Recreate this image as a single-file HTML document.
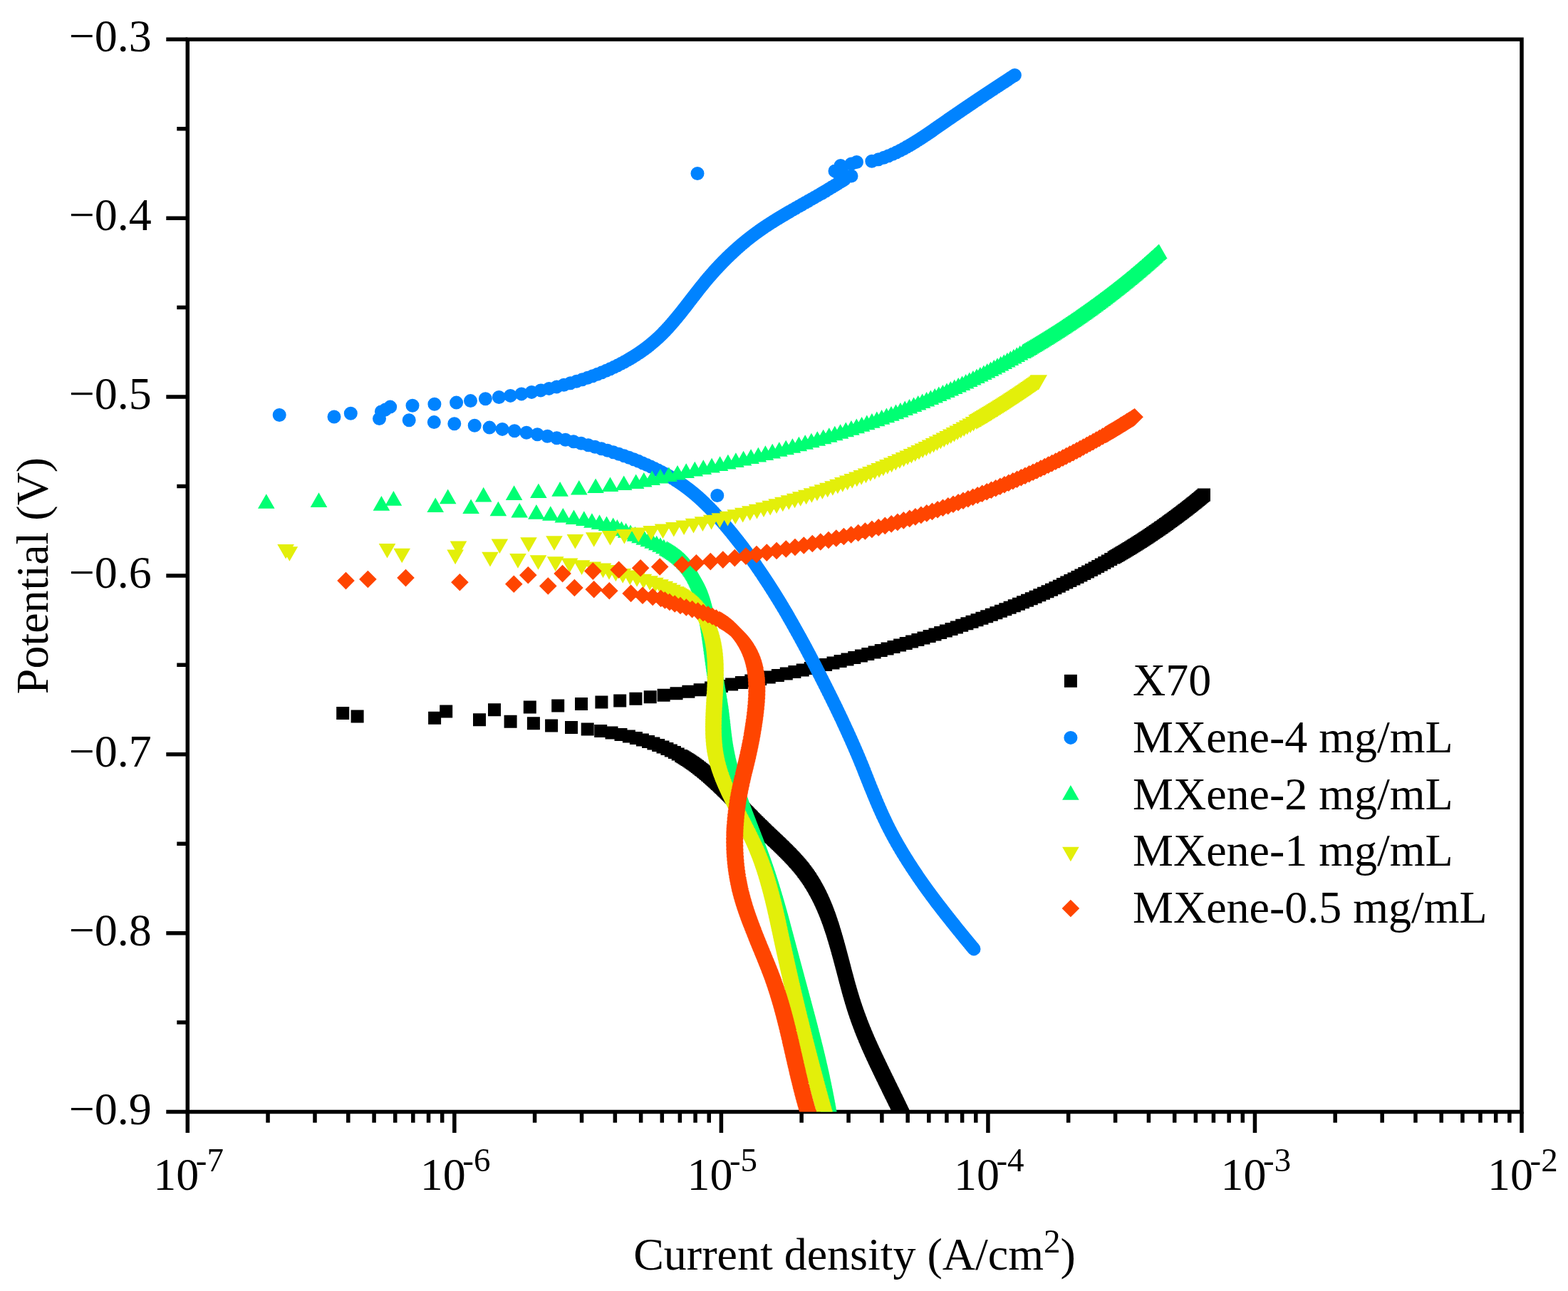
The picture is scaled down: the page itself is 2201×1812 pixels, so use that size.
<!DOCTYPE html>
<html lang="en"><head><meta charset="utf-8"><title>Polarization curves</title>
<style>html,body{margin:0;padding:0;background:#fff}body{width:2201px;height:1812px;overflow:hidden}svg{display:block}text{font-family:"Liberation Serif","Times New Roman",serif;font-size:64px;fill:#000}</style></head><body>
<svg xmlns="http://www.w3.org/2000/svg" width="2201" height="1812" viewBox="0 0 2201 1812">
<rect width="2201" height="1812" fill="#fff"/>
<defs><clipPath id="c"><rect x="263.3" y="55.3" width="1872.7" height="1505.2"/></clipPath></defs>
<g stroke="#000" stroke-width="5.5" fill="none" stroke-linecap="butt">
<rect x="263.3" y="55.3" width="1872.7" height="1505.2"/>
<path d="M233.30 55.30H263.30M248.30 180.73H263.30M233.30 306.17H263.30M248.30 431.60H263.30M233.30 557.03H263.30M248.30 682.47H263.30M233.30 807.90H263.30M248.30 933.33H263.30M233.30 1058.77H263.30M248.30 1184.20H263.30M233.30 1309.63H263.30M248.30 1435.07H263.30M233.30 1560.50H263.30M263.30 1560.50V1590.00M376.05 1560.50V1575.80M442.00 1560.50V1575.80M488.80 1560.50V1575.80M525.09 1560.50V1575.80M554.75 1560.50V1575.80M579.82 1560.50V1575.80M601.54 1560.50V1575.80M620.70 1560.50V1575.80M637.84 1560.50V1590.00M750.59 1560.50V1575.80M816.54 1560.50V1575.80M863.34 1560.50V1575.80M899.63 1560.50V1575.80M929.29 1560.50V1575.80M954.36 1560.50V1575.80M976.08 1560.50V1575.80M995.24 1560.50V1575.80M1012.38 1560.50V1590.00M1125.13 1560.50V1575.80M1191.08 1560.50V1575.80M1237.88 1560.50V1575.80M1274.17 1560.50V1575.80M1303.83 1560.50V1575.80M1328.90 1560.50V1575.80M1350.62 1560.50V1575.80M1369.78 1560.50V1575.80M1386.92 1560.50V1590.00M1499.67 1560.50V1575.80M1565.62 1560.50V1575.80M1612.42 1560.50V1575.80M1648.71 1560.50V1575.80M1678.37 1560.50V1575.80M1703.44 1560.50V1575.80M1725.16 1560.50V1575.80M1744.32 1560.50V1575.80M1761.46 1560.50V1590.00M1874.21 1560.50V1575.80M1940.16 1560.50V1575.80M1986.96 1560.50V1575.80M2023.25 1560.50V1575.80M2052.91 1560.50V1575.80M2077.98 1560.50V1575.80M2099.70 1560.50V1575.80M2118.86 1560.50V1575.80M2136.00 1560.50V1590.00"/>
</g>
<g clip-path="url(#c)">
<path fill="#000000" d="M903.7 969.2h18v18h-18zM922.6 966.7h18v18h-18zM940.5 964.2h18v18h-18zM957.4 961.7h18v18h-18zM973.6 959.2h18v18h-18zM989 956.6h18v18h-18zM1003.9 954.1h18v18h-18zM1018.1 951.6h18v18h-18zM1031.9 949.1h18v18h-18zM1045.3 946.6h18v18h-18zM1058.2 944.1h18v18h-18zM1070.7 941.6h18v18h-18zM1082.9 939.1h18v18h-18zM1094.8 936.6h18v18h-18zM1106.4 934.1h18v18h-18zM1117.7 931.6h18v18h-18zM1128.7 929.1h18v18h-18zM1139.5 926.5h18v18h-18zM1150.1 924h18v18h-18zM1160.5 921.5h18v18h-18zM1170.6 919h18v18h-18zM1180.5 916.5h18v18h-18zM1190.3 914h18v18h-18zM1199.9 911.5h18v18h-18zM1209.3 909h18v18h-18zM1218.6 906.5h18v18h-18zM1227.7 904h18v18h-18zM1236.6 901.5h18v18h-18zM1245.5 898.9h18v18h-18zM1254.1 896.4h18v18h-18zM1262.7 893.9h18v18h-18zM1271.1 891.4h18v18h-18zM1279.4 888.9h18v18h-18zM1287.5 886.4h18v18h-18zM1295.6 883.9h18v18h-18zM1303.5 881.4h18v18h-18zM1311.2 878.9h18v18h-18zM1318.9 876.4h18v18h-18zM1326.5 873.9h18v18h-18zM1333.9 871.4h18v18h-18zM1341.2 868.8h18v18h-18zM1348.4 866.3h18v18h-18zM1355.5 863.8h18v18h-18zM1362.5 861.3h18v18h-18zM1369.4 858.8h18v18h-18zM1376.2 856.3h18v18h-18zM1382.8 853.8h18v18h-18zM1389.4 851.3h18v18h-18zM1395.9 848.8h18v18h-18zM1402.3 846.3h18v18h-18zM1408.6 843.8h18v18h-18zM1414.8 841.2h18v18h-18zM1421 838.7h18v18h-18zM1427 836.2h18v18h-18zM1433 833.7h18v18h-18zM1438.8 831.2h18v18h-18zM1444.6 828.7h18v18h-18zM1450.3 826.2h18v18h-18zM1456 823.7h18v18h-18zM1461.5 821.2h18v18h-18zM1467 818.7h18v18h-18zM1472.4 816.2h18v18h-18zM1477.8 813.7h18v18h-18zM1483 811.1h18v18h-18zM1488.3 808.6h18v18h-18zM1493.4 806.1h18v18h-18zM1498.5 803.6h18v18h-18zM1503.5 801.1h18v18h-18zM1508.4 798.6h18v18h-18zM1513.3 796.1h18v18h-18zM1518.1 793.6h18v18h-18zM1522.9 791.1h18v18h-18zM1527.6 788.6h18v18h-18zM1532.2 786.1h18v18h-18zM1536.8 783.6h18v18h-18zM1541.3 781h18v18h-18zM1545.8 778.5h18v18h-18zM1550.2 776h18v18h-18zM1554.6 773.5h18v18h-18zM1556.8 772.3h18v18h-18zM1558.9 771h18v18h-18zM1561.1 769.8h18v18h-18zM1563.2 768.5h18v18h-18zM1565.3 767.2h18v18h-18zM1567.4 766h18v18h-18zM1569.5 764.7h18v18h-18zM1571.6 763.5h18v18h-18zM1573.7 762.2h18v18h-18zM1575.7 761h18v18h-18zM1577.8 759.7h18v18h-18zM1579.8 758.5h18v18h-18zM1581.8 757.2h18v18h-18zM1583.8 756h18v18h-18zM1585.8 754.7h18v18h-18zM1587.8 753.4h18v18h-18zM1589.8 752.2h18v18h-18zM1591.8 750.9h18v18h-18zM1593.7 749.7h18v18h-18zM1595.7 748.4h18v18h-18zM1597.6 747.2h18v18h-18zM1599.5 745.9h18v18h-18zM1601.4 744.7h18v18h-18zM1603.3 743.4h18v18h-18zM1605.2 742.2h18v18h-18zM1607.1 740.9h18v18h-18zM1609 739.6h18v18h-18zM1610.8 738.4h18v18h-18zM1612.7 737.1h18v18h-18zM1614.5 735.9h18v18h-18zM1616.3 734.6h18v18h-18zM1618.2 733.4h18v18h-18zM1620 732.1h18v18h-18zM1621.8 730.9h18v18h-18zM1623.6 729.6h18v18h-18zM1625.3 728.4h18v18h-18zM1627.1 727.1h18v18h-18zM1628.9 725.9h18v18h-18zM1630.6 724.6h18v18h-18zM1632.4 723.3h18v18h-18zM1634.1 722.1h18v18h-18zM1635.8 720.8h18v18h-18zM1637.6 719.6h18v18h-18zM1639.3 718.3h18v18h-18zM1641 717.1h18v18h-18zM1642.7 715.8h18v18h-18zM1644.3 714.6h18v18h-18zM1646 713.3h18v18h-18zM1647.7 712.1h18v18h-18zM1649.3 710.8h18v18h-18zM1651 709.5h18v18h-18zM1652.6 708.3h18v18h-18zM1654.2 707h18v18h-18zM1655.9 705.8h18v18h-18zM1657.5 704.5h18v18h-18zM1659.1 703.3h18v18h-18zM1660.7 702h18v18h-18zM1662.3 700.8h18v18h-18zM1663.9 699.5h18v18h-18zM1665.4 698.3h18v18h-18zM1667 697h18v18h-18zM1668.6 695.7h18v18h-18zM1670.1 694.5h18v18h-18zM1671.7 693.2h18v18h-18zM1673.2 692h18v18h-18zM1674.7 690.7h18v18h-18zM1676.2 689.5h18v18h-18zM1677.7 688.2h18v18h-18zM1679.3 687h18v18h-18zM1680.7 685.7h18v18h-18zM1680.9 685.6h18v18h-18zM1681 685.5h18v18h-18zM793 1011.9h18v18h-18zM815.7 1014.4h18v18h-18zM834.2 1016.9h18v18h-18zM849.5 1019.4h18v18h-18zM862.5 1021.9h18v18h-18zM873.9 1024.5h18v18h-18zM883.9 1027h18v18h-18zM892.9 1029.5h18v18h-18zM901 1032h18v18h-18zM908.4 1034.5h18v18h-18zM915.2 1037h18v18h-18zM921.5 1039.5h18v18h-18zM927.4 1042h18v18h-18zM932.8 1044.5h18v18h-18zM937.9 1047h18v18h-18zM942.7 1049.5h18v18h-18zM947.2 1052h18v18h-18zM949.4 1053.3h18v18h-18zM951.5 1054.6h18v18h-18zM953.5 1055.8h18v18h-18zM955.5 1057.1h18v18h-18zM957.5 1058.3h18v18h-18zM959.4 1059.6h18v18h-18zM961.2 1060.8h18v18h-18zM963.1 1062.1h18v18h-18zM964.8 1063.3h18v18h-18zM966.6 1064.6h18v18h-18zM968.3 1065.8h18v18h-18zM970 1067.1h18v18h-18zM971.7 1068.4h18v18h-18zM973.3 1069.6h18v18h-18zM974.9 1070.9h18v18h-18zM976.5 1072.1h18v18h-18zM978.1 1073.4h18v18h-18zM979.6 1074.6h18v18h-18zM981.2 1075.9h18v18h-18zM982.7 1077.1h18v18h-18zM984.1 1078.4h18v18h-18zM985.6 1079.6h18v18h-18zM987.1 1080.9h18v18h-18zM988.5 1082.2h18v18h-18zM989.9 1083.4h18v18h-18zM991.4 1084.7h18v18h-18zM992.8 1085.9h18v18h-18zM994.1 1087.2h18v18h-18zM995.5 1088.4h18v18h-18zM996.9 1089.7h18v18h-18zM998.2 1090.9h18v18h-18zM999.6 1092.2h18v18h-18zM1000.9 1093.4h18v18h-18zM1002.2 1094.7h18v18h-18zM1003.5 1095.9h18v18h-18zM1004.8 1097.2h18v18h-18zM1006.1 1098.5h18v18h-18zM1007.4 1099.7h18v18h-18zM1008.7 1101h18v18h-18zM1010 1102.2h18v18h-18zM1011.3 1103.5h18v18h-18zM1012.5 1104.7h18v18h-18zM1013.8 1106h18v18h-18zM1015.1 1107.2h18v18h-18zM1016.3 1108.5h18v18h-18zM1017.6 1109.7h18v18h-18zM1018.8 1111h18v18h-18zM1020.1 1112.3h18v18h-18zM1021.3 1113.5h18v18h-18zM1022.5 1114.8h18v18h-18zM1023.8 1116h18v18h-18zM1025 1117.3h18v18h-18zM1026.2 1118.5h18v18h-18zM1027.4 1119.8h18v18h-18zM1028.7 1121h18v18h-18zM1029.9 1122.3h18v18h-18zM1031.1 1123.5h18v18h-18zM1032.4 1124.8h18v18h-18zM1033.6 1126.1h18v18h-18zM1034.8 1127.3h18v18h-18zM1036 1128.6h18v18h-18zM1037.3 1129.8h18v18h-18zM1038.5 1131.1h18v18h-18zM1039.7 1132.3h18v18h-18zM1040.9 1133.6h18v18h-18zM1042.2 1134.8h18v18h-18zM1043.4 1136.1h18v18h-18zM1044.7 1137.3h18v18h-18zM1045.9 1138.6h18v18h-18zM1047.1 1139.9h18v18h-18zM1048.4 1141.1h18v18h-18zM1049.6 1142.4h18v18h-18zM1050.9 1143.6h18v18h-18zM1052.2 1144.9h18v18h-18zM1053.4 1146.1h18v18h-18zM1054.7 1147.4h18v18h-18zM1056 1148.6h18v18h-18zM1057.3 1149.9h18v18h-18zM1058.6 1151.1h18v18h-18zM1059.9 1152.4h18v18h-18zM1061.2 1153.6h18v18h-18zM1062.5 1154.9h18v18h-18zM1063.8 1156.2h18v18h-18zM1065.1 1157.4h18v18h-18zM1066.4 1158.7h18v18h-18zM1067.7 1159.9h18v18h-18zM1069 1161.2h18v18h-18zM1070.4 1162.4h18v18h-18zM1071.7 1163.7h18v18h-18zM1073 1164.9h18v18h-18zM1074.3 1166.2h18v18h-18zM1075.7 1167.4h18v18h-18zM1077 1168.7h18v18h-18zM1078.3 1170h18v18h-18zM1079.6 1171.2h18v18h-18zM1081 1172.5h18v18h-18zM1082.3 1173.7h18v18h-18zM1083.6 1175h18v18h-18zM1084.9 1176.2h18v18h-18zM1086.2 1177.5h18v18h-18zM1087.5 1178.7h18v18h-18zM1088.8 1180h18v18h-18zM1090 1181.2h18v18h-18zM1091.3 1182.5h18v18h-18zM1092.6 1183.8h18v18h-18zM1093.8 1185h18v18h-18zM1095.1 1186.3h18v18h-18zM1096.3 1187.5h18v18h-18zM1097.6 1188.8h18v18h-18zM1098.8 1190h18v18h-18zM1100 1191.3h18v18h-18zM1101.2 1192.5h18v18h-18zM1102.4 1193.8h18v18h-18zM1103.6 1195h18v18h-18zM1104.7 1196.3h18v18h-18zM1105.9 1197.5h18v18h-18zM1107 1198.8h18v18h-18zM1108.1 1200.1h18v18h-18zM1109.3 1201.3h18v18h-18zM1110.4 1202.6h18v18h-18zM1111.5 1203.8h18v18h-18zM1112.5 1205.1h18v18h-18zM1113.6 1206.3h18v18h-18zM1114.6 1207.6h18v18h-18zM1115.7 1208.8h18v18h-18zM1116.7 1210.1h18v18h-18zM1117.7 1211.3h18v18h-18zM1118.7 1212.6h18v18h-18zM1119.6 1213.9h18v18h-18zM1120.6 1215.1h18v18h-18zM1121.5 1216.4h18v18h-18zM1122.5 1217.6h18v18h-18zM1123.4 1218.9h18v18h-18zM1124.3 1220.1h18v18h-18zM1125.1 1221.4h18v18h-18zM1126 1222.6h18v18h-18zM1126.9 1223.9h18v18h-18zM1127.7 1225.1h18v18h-18zM1128.5 1226.4h18v18h-18zM1129.3 1227.7h18v18h-18zM1130.1 1228.9h18v18h-18zM1130.9 1230.2h18v18h-18zM1131.7 1231.4h18v18h-18zM1132.4 1232.7h18v18h-18zM1133.2 1233.9h18v18h-18zM1133.9 1235.2h18v18h-18zM1134.6 1236.4h18v18h-18zM1135.3 1237.7h18v18h-18zM1136 1238.9h18v18h-18zM1136.7 1240.2h18v18h-18zM1137.4 1241.5h18v18h-18zM1138.1 1242.7h18v18h-18zM1138.7 1244h18v18h-18zM1139.4 1245.2h18v18h-18zM1140 1246.5h18v18h-18zM1140.7 1247.7h18v18h-18zM1141.3 1249h18v18h-18zM1141.9 1250.2h18v18h-18zM1142.5 1251.5h18v18h-18zM1143.1 1252.7h18v18h-18zM1143.7 1254h18v18h-18zM1144.3 1255.2h18v18h-18zM1144.8 1256.5h18v18h-18zM1145.4 1257.8h18v18h-18zM1146 1259h18v18h-18zM1146.5 1260.3h18v18h-18zM1147.1 1261.5h18v18h-18zM1147.6 1262.8h18v18h-18zM1148.1 1264h18v18h-18zM1148.6 1265.3h18v18h-18zM1149.2 1266.5h18v18h-18zM1149.7 1267.8h18v18h-18zM1150.2 1269h18v18h-18zM1150.7 1270.3h18v18h-18zM1151.2 1271.6h18v18h-18zM1151.7 1272.8h18v18h-18zM1152.1 1274.1h18v18h-18zM1152.6 1275.3h18v18h-18zM1153.1 1276.6h18v18h-18zM1153.5 1277.8h18v18h-18zM1154 1279.1h18v18h-18zM1154.5 1280.3h18v18h-18zM1154.9 1281.6h18v18h-18zM1155.4 1282.8h18v18h-18zM1155.8 1284.1h18v18h-18zM1156.2 1285.4h18v18h-18zM1156.7 1286.6h18v18h-18zM1157.1 1287.9h18v18h-18zM1157.5 1289.1h18v18h-18zM1157.9 1290.4h18v18h-18zM1158.3 1291.6h18v18h-18zM1158.8 1292.9h18v18h-18zM1159.2 1294.1h18v18h-18zM1159.6 1295.4h18v18h-18zM1160 1296.6h18v18h-18zM1160.4 1297.9h18v18h-18zM1160.8 1299.2h18v18h-18zM1161.1 1300.4h18v18h-18zM1161.5 1301.7h18v18h-18zM1161.9 1302.9h18v18h-18zM1162.3 1304.2h18v18h-18zM1162.7 1305.4h18v18h-18zM1163 1306.7h18v18h-18zM1163.4 1307.9h18v18h-18zM1163.8 1309.2h18v18h-18zM1164.1 1310.4h18v18h-18zM1164.5 1311.7h18v18h-18zM1164.9 1312.9h18v18h-18zM1165.2 1314.2h18v18h-18zM1165.6 1315.5h18v18h-18zM1165.9 1316.7h18v18h-18zM1166.3 1318h18v18h-18zM1166.7 1319.2h18v18h-18zM1167 1320.5h18v18h-18zM1167.3 1321.7h18v18h-18zM1167.7 1323h18v18h-18zM1168 1324.2h18v18h-18zM1168.4 1325.5h18v18h-18zM1168.7 1326.7h18v18h-18zM1169.1 1328h18v18h-18zM1169.4 1329.3h18v18h-18zM1169.7 1330.5h18v18h-18zM1170.1 1331.8h18v18h-18zM1170.4 1333h18v18h-18zM1170.7 1334.3h18v18h-18zM1171.1 1335.5h18v18h-18zM1171.4 1336.8h18v18h-18zM1171.7 1338h18v18h-18zM1172.1 1339.3h18v18h-18zM1172.4 1340.5h18v18h-18zM1172.7 1341.8h18v18h-18zM1173.1 1343.1h18v18h-18zM1173.4 1344.3h18v18h-18zM1173.7 1345.6h18v18h-18zM1174.1 1346.8h18v18h-18zM1174.4 1348.1h18v18h-18zM1174.7 1349.3h18v18h-18zM1175 1350.6h18v18h-18zM1175.4 1351.8h18v18h-18zM1175.7 1353.1h18v18h-18zM1176 1354.3h18v18h-18zM1176.4 1355.6h18v18h-18zM1176.7 1356.9h18v18h-18zM1177 1358.1h18v18h-18zM1177.3 1359.4h18v18h-18zM1177.7 1360.6h18v18h-18zM1178 1361.9h18v18h-18zM1178.3 1363.1h18v18h-18zM1178.7 1364.4h18v18h-18zM1179 1365.6h18v18h-18zM1179.4 1366.9h18v18h-18zM1179.7 1368.1h18v18h-18zM1180 1369.4h18v18h-18zM1180.4 1370.6h18v18h-18zM1180.7 1371.9h18v18h-18zM1181.1 1373.2h18v18h-18zM1181.4 1374.4h18v18h-18zM1181.7 1375.7h18v18h-18zM1182.1 1376.9h18v18h-18zM1182.4 1378.2h18v18h-18zM1182.8 1379.4h18v18h-18zM1183.1 1380.7h18v18h-18zM1183.5 1381.9h18v18h-18zM1183.9 1383.2h18v18h-18zM1184.2 1384.4h18v18h-18zM1184.6 1385.7h18v18h-18zM1184.9 1387h18v18h-18zM1185.3 1388.2h18v18h-18zM1185.7 1389.5h18v18h-18zM1186 1390.7h18v18h-18zM1186.4 1392h18v18h-18zM1186.8 1393.2h18v18h-18zM1187.2 1394.5h18v18h-18zM1187.6 1395.7h18v18h-18zM1187.9 1397h18v18h-18zM1188.3 1398.2h18v18h-18zM1188.7 1399.5h18v18h-18zM1189.1 1400.8h18v18h-18zM1189.5 1402h18v18h-18zM1189.9 1403.3h18v18h-18zM1190.3 1404.5h18v18h-18zM1190.7 1405.8h18v18h-18zM1191.1 1407h18v18h-18zM1191.6 1408.3h18v18h-18zM1192 1409.5h18v18h-18zM1192.4 1410.8h18v18h-18zM1192.8 1412h18v18h-18zM1193.3 1413.3h18v18h-18zM1193.7 1414.5h18v18h-18zM1194.1 1415.8h18v18h-18zM1194.6 1417.1h18v18h-18zM1195 1418.3h18v18h-18zM1195.5 1419.6h18v18h-18zM1195.9 1420.8h18v18h-18zM1196.4 1422.1h18v18h-18zM1196.9 1423.3h18v18h-18zM1197.3 1424.6h18v18h-18zM1197.8 1425.8h18v18h-18zM1198.3 1427.1h18v18h-18zM1198.8 1428.3h18v18h-18zM1199.2 1429.6h18v18h-18zM1199.7 1430.9h18v18h-18zM1200.2 1432.1h18v18h-18zM1200.7 1433.4h18v18h-18zM1201.2 1434.6h18v18h-18zM1201.7 1435.9h18v18h-18zM1202.2 1437.1h18v18h-18zM1202.7 1438.4h18v18h-18zM1203.2 1439.6h18v18h-18zM1203.7 1440.9h18v18h-18zM1204.3 1442.1h18v18h-18zM1204.8 1443.4h18v18h-18zM1205.3 1444.7h18v18h-18zM1205.8 1445.9h18v18h-18zM1206.4 1447.2h18v18h-18zM1206.9 1448.4h18v18h-18zM1207.4 1449.7h18v18h-18zM1208 1450.9h18v18h-18zM1208.5 1452.2h18v18h-18zM1209 1453.4h18v18h-18zM1209.6 1454.7h18v18h-18zM1210.1 1455.9h18v18h-18zM1210.7 1457.2h18v18h-18zM1211.2 1458.5h18v18h-18zM1211.8 1459.7h18v18h-18zM1212.4 1461h18v18h-18zM1212.9 1462.2h18v18h-18zM1213.5 1463.5h18v18h-18zM1214 1464.7h18v18h-18zM1214.6 1466h18v18h-18zM1215.2 1467.2h18v18h-18zM1215.8 1468.5h18v18h-18zM1216.3 1469.7h18v18h-18zM1216.9 1471h18v18h-18zM1217.5 1472.2h18v18h-18zM1218.1 1473.5h18v18h-18zM1218.7 1474.8h18v18h-18zM1219.2 1476h18v18h-18zM1219.8 1477.3h18v18h-18zM1220.4 1478.5h18v18h-18zM1221 1479.8h18v18h-18zM1221.6 1481h18v18h-18zM1222.2 1482.3h18v18h-18zM1222.8 1483.5h18v18h-18zM1223.4 1484.8h18v18h-18zM1224 1486h18v18h-18zM1224.6 1487.3h18v18h-18zM1225.2 1488.6h18v18h-18zM1225.8 1489.8h18v18h-18zM1226.4 1491.1h18v18h-18zM1227 1492.3h18v18h-18zM1227.6 1493.6h18v18h-18zM1228.2 1494.8h18v18h-18zM1228.8 1496.1h18v18h-18zM1229.4 1497.3h18v18h-18zM1230 1498.6h18v18h-18zM1230.6 1499.8h18v18h-18zM1231.3 1501.1h18v18h-18zM1231.9 1502.4h18v18h-18zM1232.5 1503.6h18v18h-18zM1233.1 1504.9h18v18h-18zM1233.7 1506.1h18v18h-18zM1234.3 1507.4h18v18h-18zM1234.9 1508.6h18v18h-18zM1235.6 1509.9h18v18h-18zM1236.2 1511.1h18v18h-18zM1236.8 1512.4h18v18h-18zM1237.4 1513.6h18v18h-18zM1238 1514.9h18v18h-18zM1238.6 1516.2h18v18h-18zM1239.2 1517.4h18v18h-18zM1239.9 1518.7h18v18h-18zM1240.5 1519.9h18v18h-18zM1241.1 1521.2h18v18h-18zM1241.7 1522.4h18v18h-18zM1242.3 1523.7h18v18h-18zM1242.9 1524.9h18v18h-18zM1243.6 1526.2h18v18h-18zM1244.2 1527.4h18v18h-18zM1244.8 1528.7h18v18h-18zM1245.4 1529.9h18v18h-18zM1246 1531.2h18v18h-18zM1246.6 1532.5h18v18h-18zM1247.2 1533.7h18v18h-18zM1247.8 1535h18v18h-18zM1248.5 1536.2h18v18h-18zM1249.1 1537.5h18v18h-18zM1249.7 1538.7h18v18h-18zM1250.3 1540h18v18h-18zM1250.9 1541.2h18v18h-18zM1251.5 1542.5h18v18h-18zM1252.1 1543.7h18v18h-18zM1252.7 1545h18v18h-18zM1253.3 1546.3h18v18h-18zM1253.9 1547.5h18v18h-18zM1254.5 1548.8h18v18h-18zM1255.1 1550h18v18h-18zM1255.7 1551.3h18v18h-18zM1256.3 1552.5h18v18h-18zM1256.9 1553.8h18v18h-18zM1257.5 1555h18v18h-18zM1258 1556.3h18v18h-18zM1258.6 1557.5h18v18h-18zM1259.2 1558.8h18v18h-18zM1259.8 1560.1h18v18h-18zM1260.4 1561.3h18v18h-18zM1261 1562.6h18v18h-18zM1261.5 1563.8h18v18h-18zM1262.1 1565.1h18v18h-18zM1262.7 1566.3h18v18h-18zM1262.8 1566.7h18v18h-18zM1263 1567h18v18h-18zM472.2 991.9h18v18h-18zM492.6 996.6h18v18h-18zM601.1 998.8h18v18h-18zM617.2 989.4h18v18h-18zM664 1001.3h18v18h-18zM685 987.2h18v18h-18zM707.6 1003.7h18v18h-18zM734.8 983.5h18v18h-18zM739.9 1006.2h18v18h-18zM765.1 1009.4h18v18h-18zM774.2 981.5h18v18h-18zM807 979.1h18v18h-18zM835.4 976.6h18v18h-18zM861.2 974.4h18v18h-18zM883.4 971.7h18v18h-18z"/>
<path fill="#0083FF" d="M722.5 552.9a9.5 9.5 0 1 0 19 0a9.5 9.5 0 1 0 -19 0zM736.7 550.4a9.5 9.5 0 1 0 19 0a9.5 9.5 0 1 0 -19 0zM749.5 547.9a9.5 9.5 0 1 0 19 0a9.5 9.5 0 1 0 -19 0zM761.2 545.4a9.5 9.5 0 1 0 19 0a9.5 9.5 0 1 0 -19 0zM772 542.9a9.5 9.5 0 1 0 19 0a9.5 9.5 0 1 0 -19 0zM782 540.3a9.5 9.5 0 1 0 19 0a9.5 9.5 0 1 0 -19 0zM791.2 537.8a9.5 9.5 0 1 0 19 0a9.5 9.5 0 1 0 -19 0zM799.8 535.3a9.5 9.5 0 1 0 19 0a9.5 9.5 0 1 0 -19 0zM807.8 532.8a9.5 9.5 0 1 0 19 0a9.5 9.5 0 1 0 -19 0zM815.3 530.3a9.5 9.5 0 1 0 19 0a9.5 9.5 0 1 0 -19 0zM822.4 527.8a9.5 9.5 0 1 0 19 0a9.5 9.5 0 1 0 -19 0zM829.1 525.3a9.5 9.5 0 1 0 19 0a9.5 9.5 0 1 0 -19 0zM835.4 522.8a9.5 9.5 0 1 0 19 0a9.5 9.5 0 1 0 -19 0zM841.4 520.3a9.5 9.5 0 1 0 19 0a9.5 9.5 0 1 0 -19 0zM847.1 517.8a9.5 9.5 0 1 0 19 0a9.5 9.5 0 1 0 -19 0zM852.5 515.3a9.5 9.5 0 1 0 19 0a9.5 9.5 0 1 0 -19 0zM857.6 512.8a9.5 9.5 0 1 0 19 0a9.5 9.5 0 1 0 -19 0zM862.5 510.2a9.5 9.5 0 1 0 19 0a9.5 9.5 0 1 0 -19 0zM867.2 507.7a9.5 9.5 0 1 0 19 0a9.5 9.5 0 1 0 -19 0zM871.7 505.2a9.5 9.5 0 1 0 19 0a9.5 9.5 0 1 0 -19 0zM873.8 504a9.5 9.5 0 1 0 19 0a9.5 9.5 0 1 0 -19 0zM875.9 502.7a9.5 9.5 0 1 0 19 0a9.5 9.5 0 1 0 -19 0zM878 501.5a9.5 9.5 0 1 0 19 0a9.5 9.5 0 1 0 -19 0zM880.1 500.2a9.5 9.5 0 1 0 19 0a9.5 9.5 0 1 0 -19 0zM882 499a9.5 9.5 0 1 0 19 0a9.5 9.5 0 1 0 -19 0zM884 497.7a9.5 9.5 0 1 0 19 0a9.5 9.5 0 1 0 -19 0zM885.9 496.4a9.5 9.5 0 1 0 19 0a9.5 9.5 0 1 0 -19 0zM887.8 495.2a9.5 9.5 0 1 0 19 0a9.5 9.5 0 1 0 -19 0zM889.6 493.9a9.5 9.5 0 1 0 19 0a9.5 9.5 0 1 0 -19 0zM891.4 492.7a9.5 9.5 0 1 0 19 0a9.5 9.5 0 1 0 -19 0zM893.2 491.4a9.5 9.5 0 1 0 19 0a9.5 9.5 0 1 0 -19 0zM894.9 490.2a9.5 9.5 0 1 0 19 0a9.5 9.5 0 1 0 -19 0zM896.6 488.9a9.5 9.5 0 1 0 19 0a9.5 9.5 0 1 0 -19 0zM898.3 487.7a9.5 9.5 0 1 0 19 0a9.5 9.5 0 1 0 -19 0zM899.9 486.4a9.5 9.5 0 1 0 19 0a9.5 9.5 0 1 0 -19 0zM901.5 485.2a9.5 9.5 0 1 0 19 0a9.5 9.5 0 1 0 -19 0zM903.1 483.9a9.5 9.5 0 1 0 19 0a9.5 9.5 0 1 0 -19 0zM904.6 482.6a9.5 9.5 0 1 0 19 0a9.5 9.5 0 1 0 -19 0zM906.1 481.4a9.5 9.5 0 1 0 19 0a9.5 9.5 0 1 0 -19 0zM907.6 480.1a9.5 9.5 0 1 0 19 0a9.5 9.5 0 1 0 -19 0zM909.1 478.9a9.5 9.5 0 1 0 19 0a9.5 9.5 0 1 0 -19 0zM910.5 477.6a9.5 9.5 0 1 0 19 0a9.5 9.5 0 1 0 -19 0zM911.9 476.4a9.5 9.5 0 1 0 19 0a9.5 9.5 0 1 0 -19 0zM913.3 475.1a9.5 9.5 0 1 0 19 0a9.5 9.5 0 1 0 -19 0zM914.7 473.9a9.5 9.5 0 1 0 19 0a9.5 9.5 0 1 0 -19 0zM916 472.6a9.5 9.5 0 1 0 19 0a9.5 9.5 0 1 0 -19 0zM917.3 471.4a9.5 9.5 0 1 0 19 0a9.5 9.5 0 1 0 -19 0zM918.6 470.1a9.5 9.5 0 1 0 19 0a9.5 9.5 0 1 0 -19 0zM919.9 468.9a9.5 9.5 0 1 0 19 0a9.5 9.5 0 1 0 -19 0zM921.1 467.6a9.5 9.5 0 1 0 19 0a9.5 9.5 0 1 0 -19 0zM922.3 466.3a9.5 9.5 0 1 0 19 0a9.5 9.5 0 1 0 -19 0zM923.6 465.1a9.5 9.5 0 1 0 19 0a9.5 9.5 0 1 0 -19 0zM924.8 463.8a9.5 9.5 0 1 0 19 0a9.5 9.5 0 1 0 -19 0zM925.9 462.6a9.5 9.5 0 1 0 19 0a9.5 9.5 0 1 0 -19 0zM927.1 461.3a9.5 9.5 0 1 0 19 0a9.5 9.5 0 1 0 -19 0zM928.3 460.1a9.5 9.5 0 1 0 19 0a9.5 9.5 0 1 0 -19 0zM929.4 458.8a9.5 9.5 0 1 0 19 0a9.5 9.5 0 1 0 -19 0zM930.5 457.6a9.5 9.5 0 1 0 19 0a9.5 9.5 0 1 0 -19 0zM931.6 456.3a9.5 9.5 0 1 0 19 0a9.5 9.5 0 1 0 -19 0zM932.7 455.1a9.5 9.5 0 1 0 19 0a9.5 9.5 0 1 0 -19 0zM933.8 453.8a9.5 9.5 0 1 0 19 0a9.5 9.5 0 1 0 -19 0zM934.9 452.5a9.5 9.5 0 1 0 19 0a9.5 9.5 0 1 0 -19 0zM936 451.3a9.5 9.5 0 1 0 19 0a9.5 9.5 0 1 0 -19 0zM937 450a9.5 9.5 0 1 0 19 0a9.5 9.5 0 1 0 -19 0zM938.1 448.8a9.5 9.5 0 1 0 19 0a9.5 9.5 0 1 0 -19 0zM939.1 447.5a9.5 9.5 0 1 0 19 0a9.5 9.5 0 1 0 -19 0zM940.2 446.3a9.5 9.5 0 1 0 19 0a9.5 9.5 0 1 0 -19 0zM941.2 445a9.5 9.5 0 1 0 19 0a9.5 9.5 0 1 0 -19 0zM942.2 443.8a9.5 9.5 0 1 0 19 0a9.5 9.5 0 1 0 -19 0zM943.2 442.5a9.5 9.5 0 1 0 19 0a9.5 9.5 0 1 0 -19 0zM944.3 441.3a9.5 9.5 0 1 0 19 0a9.5 9.5 0 1 0 -19 0zM945.3 440a9.5 9.5 0 1 0 19 0a9.5 9.5 0 1 0 -19 0zM946.3 438.7a9.5 9.5 0 1 0 19 0a9.5 9.5 0 1 0 -19 0zM947.3 437.5a9.5 9.5 0 1 0 19 0a9.5 9.5 0 1 0 -19 0zM948.3 436.2a9.5 9.5 0 1 0 19 0a9.5 9.5 0 1 0 -19 0zM949.2 435a9.5 9.5 0 1 0 19 0a9.5 9.5 0 1 0 -19 0zM950.2 433.7a9.5 9.5 0 1 0 19 0a9.5 9.5 0 1 0 -19 0zM951.2 432.5a9.5 9.5 0 1 0 19 0a9.5 9.5 0 1 0 -19 0zM952.2 431.2a9.5 9.5 0 1 0 19 0a9.5 9.5 0 1 0 -19 0zM953.2 430a9.5 9.5 0 1 0 19 0a9.5 9.5 0 1 0 -19 0zM954.1 428.7a9.5 9.5 0 1 0 19 0a9.5 9.5 0 1 0 -19 0zM955.1 427.5a9.5 9.5 0 1 0 19 0a9.5 9.5 0 1 0 -19 0zM956.1 426.2a9.5 9.5 0 1 0 19 0a9.5 9.5 0 1 0 -19 0zM957 424.9a9.5 9.5 0 1 0 19 0a9.5 9.5 0 1 0 -19 0zM958 423.7a9.5 9.5 0 1 0 19 0a9.5 9.5 0 1 0 -19 0zM959 422.4a9.5 9.5 0 1 0 19 0a9.5 9.5 0 1 0 -19 0zM959.9 421.2a9.5 9.5 0 1 0 19 0a9.5 9.5 0 1 0 -19 0zM960.9 419.9a9.5 9.5 0 1 0 19 0a9.5 9.5 0 1 0 -19 0zM961.9 418.7a9.5 9.5 0 1 0 19 0a9.5 9.5 0 1 0 -19 0zM962.8 417.4a9.5 9.5 0 1 0 19 0a9.5 9.5 0 1 0 -19 0zM963.8 416.2a9.5 9.5 0 1 0 19 0a9.5 9.5 0 1 0 -19 0zM964.8 414.9a9.5 9.5 0 1 0 19 0a9.5 9.5 0 1 0 -19 0zM965.8 413.7a9.5 9.5 0 1 0 19 0a9.5 9.5 0 1 0 -19 0zM966.7 412.4a9.5 9.5 0 1 0 19 0a9.5 9.5 0 1 0 -19 0zM967.7 411.2a9.5 9.5 0 1 0 19 0a9.5 9.5 0 1 0 -19 0zM968.7 409.9a9.5 9.5 0 1 0 19 0a9.5 9.5 0 1 0 -19 0zM969.7 408.6a9.5 9.5 0 1 0 19 0a9.5 9.5 0 1 0 -19 0zM970.7 407.4a9.5 9.5 0 1 0 19 0a9.5 9.5 0 1 0 -19 0zM971.6 406.1a9.5 9.5 0 1 0 19 0a9.5 9.5 0 1 0 -19 0zM972.6 404.9a9.5 9.5 0 1 0 19 0a9.5 9.5 0 1 0 -19 0zM973.6 403.6a9.5 9.5 0 1 0 19 0a9.5 9.5 0 1 0 -19 0zM974.6 402.4a9.5 9.5 0 1 0 19 0a9.5 9.5 0 1 0 -19 0zM975.7 401.1a9.5 9.5 0 1 0 19 0a9.5 9.5 0 1 0 -19 0zM976.7 399.9a9.5 9.5 0 1 0 19 0a9.5 9.5 0 1 0 -19 0zM977.7 398.6a9.5 9.5 0 1 0 19 0a9.5 9.5 0 1 0 -19 0zM978.7 397.4a9.5 9.5 0 1 0 19 0a9.5 9.5 0 1 0 -19 0zM979.7 396.1a9.5 9.5 0 1 0 19 0a9.5 9.5 0 1 0 -19 0zM980.8 394.8a9.5 9.5 0 1 0 19 0a9.5 9.5 0 1 0 -19 0zM981.8 393.6a9.5 9.5 0 1 0 19 0a9.5 9.5 0 1 0 -19 0zM982.9 392.3a9.5 9.5 0 1 0 19 0a9.5 9.5 0 1 0 -19 0zM983.9 391.1a9.5 9.5 0 1 0 19 0a9.5 9.5 0 1 0 -19 0zM985 389.8a9.5 9.5 0 1 0 19 0a9.5 9.5 0 1 0 -19 0zM986.1 388.6a9.5 9.5 0 1 0 19 0a9.5 9.5 0 1 0 -19 0zM987.2 387.3a9.5 9.5 0 1 0 19 0a9.5 9.5 0 1 0 -19 0zM988.3 386.1a9.5 9.5 0 1 0 19 0a9.5 9.5 0 1 0 -19 0zM989.4 384.8a9.5 9.5 0 1 0 19 0a9.5 9.5 0 1 0 -19 0zM990.5 383.6a9.5 9.5 0 1 0 19 0a9.5 9.5 0 1 0 -19 0zM991.6 382.3a9.5 9.5 0 1 0 19 0a9.5 9.5 0 1 0 -19 0zM992.7 381a9.5 9.5 0 1 0 19 0a9.5 9.5 0 1 0 -19 0zM993.8 379.8a9.5 9.5 0 1 0 19 0a9.5 9.5 0 1 0 -19 0zM995 378.5a9.5 9.5 0 1 0 19 0a9.5 9.5 0 1 0 -19 0zM996.1 377.3a9.5 9.5 0 1 0 19 0a9.5 9.5 0 1 0 -19 0zM997.3 376a9.5 9.5 0 1 0 19 0a9.5 9.5 0 1 0 -19 0zM998.5 374.8a9.5 9.5 0 1 0 19 0a9.5 9.5 0 1 0 -19 0zM999.6 373.5a9.5 9.5 0 1 0 19 0a9.5 9.5 0 1 0 -19 0zM1000.8 372.3a9.5 9.5 0 1 0 19 0a9.5 9.5 0 1 0 -19 0zM1002 371a9.5 9.5 0 1 0 19 0a9.5 9.5 0 1 0 -19 0zM1003.2 369.8a9.5 9.5 0 1 0 19 0a9.5 9.5 0 1 0 -19 0zM1004.4 368.5a9.5 9.5 0 1 0 19 0a9.5 9.5 0 1 0 -19 0zM1005.6 367.3a9.5 9.5 0 1 0 19 0a9.5 9.5 0 1 0 -19 0zM1006.9 366a9.5 9.5 0 1 0 19 0a9.5 9.5 0 1 0 -19 0zM1008.1 364.7a9.5 9.5 0 1 0 19 0a9.5 9.5 0 1 0 -19 0zM1009.4 363.5a9.5 9.5 0 1 0 19 0a9.5 9.5 0 1 0 -19 0zM1010.6 362.2a9.5 9.5 0 1 0 19 0a9.5 9.5 0 1 0 -19 0zM1011.9 361a9.5 9.5 0 1 0 19 0a9.5 9.5 0 1 0 -19 0zM1013.2 359.7a9.5 9.5 0 1 0 19 0a9.5 9.5 0 1 0 -19 0zM1014.5 358.5a9.5 9.5 0 1 0 19 0a9.5 9.5 0 1 0 -19 0zM1015.8 357.2a9.5 9.5 0 1 0 19 0a9.5 9.5 0 1 0 -19 0zM1017.2 356a9.5 9.5 0 1 0 19 0a9.5 9.5 0 1 0 -19 0zM1018.5 354.7a9.5 9.5 0 1 0 19 0a9.5 9.5 0 1 0 -19 0zM1019.8 353.5a9.5 9.5 0 1 0 19 0a9.5 9.5 0 1 0 -19 0zM1021.2 352.2a9.5 9.5 0 1 0 19 0a9.5 9.5 0 1 0 -19 0zM1022.6 350.9a9.5 9.5 0 1 0 19 0a9.5 9.5 0 1 0 -19 0zM1024 349.7a9.5 9.5 0 1 0 19 0a9.5 9.5 0 1 0 -19 0zM1025.4 348.4a9.5 9.5 0 1 0 19 0a9.5 9.5 0 1 0 -19 0zM1026.8 347.2a9.5 9.5 0 1 0 19 0a9.5 9.5 0 1 0 -19 0zM1028.2 345.9a9.5 9.5 0 1 0 19 0a9.5 9.5 0 1 0 -19 0zM1029.7 344.7a9.5 9.5 0 1 0 19 0a9.5 9.5 0 1 0 -19 0zM1031.1 343.4a9.5 9.5 0 1 0 19 0a9.5 9.5 0 1 0 -19 0zM1032.6 342.2a9.5 9.5 0 1 0 19 0a9.5 9.5 0 1 0 -19 0zM1034.1 340.9a9.5 9.5 0 1 0 19 0a9.5 9.5 0 1 0 -19 0zM1035.6 339.7a9.5 9.5 0 1 0 19 0a9.5 9.5 0 1 0 -19 0zM1037.2 338.4a9.5 9.5 0 1 0 19 0a9.5 9.5 0 1 0 -19 0zM1038.7 337.1a9.5 9.5 0 1 0 19 0a9.5 9.5 0 1 0 -19 0zM1040.3 335.9a9.5 9.5 0 1 0 19 0a9.5 9.5 0 1 0 -19 0zM1041.9 334.6a9.5 9.5 0 1 0 19 0a9.5 9.5 0 1 0 -19 0zM1043.5 333.4a9.5 9.5 0 1 0 19 0a9.5 9.5 0 1 0 -19 0zM1045.1 332.1a9.5 9.5 0 1 0 19 0a9.5 9.5 0 1 0 -19 0zM1046.8 330.9a9.5 9.5 0 1 0 19 0a9.5 9.5 0 1 0 -19 0zM1048.4 329.6a9.5 9.5 0 1 0 19 0a9.5 9.5 0 1 0 -19 0zM1050.1 328.4a9.5 9.5 0 1 0 19 0a9.5 9.5 0 1 0 -19 0zM1051.8 327.1a9.5 9.5 0 1 0 19 0a9.5 9.5 0 1 0 -19 0zM1053.6 325.9a9.5 9.5 0 1 0 19 0a9.5 9.5 0 1 0 -19 0zM1055.3 324.6a9.5 9.5 0 1 0 19 0a9.5 9.5 0 1 0 -19 0zM1057.1 323.3a9.5 9.5 0 1 0 19 0a9.5 9.5 0 1 0 -19 0zM1058.9 322.1a9.5 9.5 0 1 0 19 0a9.5 9.5 0 1 0 -19 0zM1060.7 320.8a9.5 9.5 0 1 0 19 0a9.5 9.5 0 1 0 -19 0zM1062.6 319.6a9.5 9.5 0 1 0 19 0a9.5 9.5 0 1 0 -19 0zM1064.4 318.3a9.5 9.5 0 1 0 19 0a9.5 9.5 0 1 0 -19 0zM1066.3 317.1a9.5 9.5 0 1 0 19 0a9.5 9.5 0 1 0 -19 0zM1068.2 315.8a9.5 9.5 0 1 0 19 0a9.5 9.5 0 1 0 -19 0zM1070.1 314.6a9.5 9.5 0 1 0 19 0a9.5 9.5 0 1 0 -19 0zM1072.1 313.3a9.5 9.5 0 1 0 19 0a9.5 9.5 0 1 0 -19 0zM1074 312.1a9.5 9.5 0 1 0 19 0a9.5 9.5 0 1 0 -19 0zM1076 310.8a9.5 9.5 0 1 0 19 0a9.5 9.5 0 1 0 -19 0zM1078 309.6a9.5 9.5 0 1 0 19 0a9.5 9.5 0 1 0 -19 0zM1080 308.3a9.5 9.5 0 1 0 19 0a9.5 9.5 0 1 0 -19 0zM1082.1 307a9.5 9.5 0 1 0 19 0a9.5 9.5 0 1 0 -19 0zM1084.1 305.8a9.5 9.5 0 1 0 19 0a9.5 9.5 0 1 0 -19 0zM1086.2 304.5a9.5 9.5 0 1 0 19 0a9.5 9.5 0 1 0 -19 0zM1088.3 303.3a9.5 9.5 0 1 0 19 0a9.5 9.5 0 1 0 -19 0zM1090.4 302a9.5 9.5 0 1 0 19 0a9.5 9.5 0 1 0 -19 0zM1092.5 300.8a9.5 9.5 0 1 0 19 0a9.5 9.5 0 1 0 -19 0zM1094.6 299.5a9.5 9.5 0 1 0 19 0a9.5 9.5 0 1 0 -19 0zM1096.7 298.3a9.5 9.5 0 1 0 19 0a9.5 9.5 0 1 0 -19 0zM1098.9 297a9.5 9.5 0 1 0 19 0a9.5 9.5 0 1 0 -19 0zM1103.2 294.5a9.5 9.5 0 1 0 19 0a9.5 9.5 0 1 0 -19 0zM1107.6 292a9.5 9.5 0 1 0 19 0a9.5 9.5 0 1 0 -19 0zM1112 289.5a9.5 9.5 0 1 0 19 0a9.5 9.5 0 1 0 -19 0zM1116.4 287a9.5 9.5 0 1 0 19 0a9.5 9.5 0 1 0 -19 0zM1120.8 284.5a9.5 9.5 0 1 0 19 0a9.5 9.5 0 1 0 -19 0zM1125.2 282a9.5 9.5 0 1 0 19 0a9.5 9.5 0 1 0 -19 0zM1129.7 279.4a9.5 9.5 0 1 0 19 0a9.5 9.5 0 1 0 -19 0zM1134.1 276.9a9.5 9.5 0 1 0 19 0a9.5 9.5 0 1 0 -19 0zM1138.5 274.4a9.5 9.5 0 1 0 19 0a9.5 9.5 0 1 0 -19 0zM1142.8 271.9a9.5 9.5 0 1 0 19 0a9.5 9.5 0 1 0 -19 0zM1145 270.7a9.5 9.5 0 1 0 19 0a9.5 9.5 0 1 0 -19 0zM1147.1 269.4a9.5 9.5 0 1 0 19 0a9.5 9.5 0 1 0 -19 0zM1149.3 268.2a9.5 9.5 0 1 0 19 0a9.5 9.5 0 1 0 -19 0zM1151.4 266.9a9.5 9.5 0 1 0 19 0a9.5 9.5 0 1 0 -19 0zM1153.5 265.6a9.5 9.5 0 1 0 19 0a9.5 9.5 0 1 0 -19 0zM1155.6 264.4a9.5 9.5 0 1 0 19 0a9.5 9.5 0 1 0 -19 0zM1157.7 263.1a9.5 9.5 0 1 0 19 0a9.5 9.5 0 1 0 -19 0zM1159.8 261.9a9.5 9.5 0 1 0 19 0a9.5 9.5 0 1 0 -19 0zM1161.8 260.6a9.5 9.5 0 1 0 19 0a9.5 9.5 0 1 0 -19 0zM1163.9 259.4a9.5 9.5 0 1 0 19 0a9.5 9.5 0 1 0 -19 0zM1165.9 258.1a9.5 9.5 0 1 0 19 0a9.5 9.5 0 1 0 -19 0zM1167.9 256.9a9.5 9.5 0 1 0 19 0a9.5 9.5 0 1 0 -19 0zM1169.9 255.6a9.5 9.5 0 1 0 19 0a9.5 9.5 0 1 0 -19 0zM1171.9 254.4a9.5 9.5 0 1 0 19 0a9.5 9.5 0 1 0 -19 0zM1173.7 253.2a9.5 9.5 0 1 0 19 0a9.5 9.5 0 1 0 -19 0zM1175.5 252a9.5 9.5 0 1 0 19 0a9.5 9.5 0 1 0 -19 0zM1223.6 223.8a9.5 9.5 0 1 0 19 0a9.5 9.5 0 1 0 -19 0zM1231.2 221.3a9.5 9.5 0 1 0 19 0a9.5 9.5 0 1 0 -19 0zM1237.7 218.8a9.5 9.5 0 1 0 19 0a9.5 9.5 0 1 0 -19 0zM1243.6 216.3a9.5 9.5 0 1 0 19 0a9.5 9.5 0 1 0 -19 0zM1249 213.8a9.5 9.5 0 1 0 19 0a9.5 9.5 0 1 0 -19 0zM1254.1 211.2a9.5 9.5 0 1 0 19 0a9.5 9.5 0 1 0 -19 0zM1258.9 208.7a9.5 9.5 0 1 0 19 0a9.5 9.5 0 1 0 -19 0zM1263.4 206.2a9.5 9.5 0 1 0 19 0a9.5 9.5 0 1 0 -19 0zM1267.7 203.7a9.5 9.5 0 1 0 19 0a9.5 9.5 0 1 0 -19 0zM1269.9 202.5a9.5 9.5 0 1 0 19 0a9.5 9.5 0 1 0 -19 0zM1271.9 201.2a9.5 9.5 0 1 0 19 0a9.5 9.5 0 1 0 -19 0zM1274 200a9.5 9.5 0 1 0 19 0a9.5 9.5 0 1 0 -19 0zM1276 198.7a9.5 9.5 0 1 0 19 0a9.5 9.5 0 1 0 -19 0zM1278 197.5a9.5 9.5 0 1 0 19 0a9.5 9.5 0 1 0 -19 0zM1280 196.2a9.5 9.5 0 1 0 19 0a9.5 9.5 0 1 0 -19 0zM1281.9 194.9a9.5 9.5 0 1 0 19 0a9.5 9.5 0 1 0 -19 0zM1283.8 193.7a9.5 9.5 0 1 0 19 0a9.5 9.5 0 1 0 -19 0zM1285.8 192.4a9.5 9.5 0 1 0 19 0a9.5 9.5 0 1 0 -19 0zM1287.7 191.2a9.5 9.5 0 1 0 19 0a9.5 9.5 0 1 0 -19 0zM1289.5 189.9a9.5 9.5 0 1 0 19 0a9.5 9.5 0 1 0 -19 0zM1291.4 188.7a9.5 9.5 0 1 0 19 0a9.5 9.5 0 1 0 -19 0zM1293.3 187.4a9.5 9.5 0 1 0 19 0a9.5 9.5 0 1 0 -19 0zM1295.1 186.2a9.5 9.5 0 1 0 19 0a9.5 9.5 0 1 0 -19 0zM1296.9 184.9a9.5 9.5 0 1 0 19 0a9.5 9.5 0 1 0 -19 0zM1298.8 183.7a9.5 9.5 0 1 0 19 0a9.5 9.5 0 1 0 -19 0zM1300.6 182.4a9.5 9.5 0 1 0 19 0a9.5 9.5 0 1 0 -19 0zM1302.4 181.1a9.5 9.5 0 1 0 19 0a9.5 9.5 0 1 0 -19 0zM1304.2 179.9a9.5 9.5 0 1 0 19 0a9.5 9.5 0 1 0 -19 0zM1306 178.6a9.5 9.5 0 1 0 19 0a9.5 9.5 0 1 0 -19 0zM1307.8 177.4a9.5 9.5 0 1 0 19 0a9.5 9.5 0 1 0 -19 0zM1309.6 176.1a9.5 9.5 0 1 0 19 0a9.5 9.5 0 1 0 -19 0zM1311.5 174.9a9.5 9.5 0 1 0 19 0a9.5 9.5 0 1 0 -19 0zM1313.3 173.6a9.5 9.5 0 1 0 19 0a9.5 9.5 0 1 0 -19 0zM1315.1 172.4a9.5 9.5 0 1 0 19 0a9.5 9.5 0 1 0 -19 0zM1316.9 171.1a9.5 9.5 0 1 0 19 0a9.5 9.5 0 1 0 -19 0zM1318.7 169.9a9.5 9.5 0 1 0 19 0a9.5 9.5 0 1 0 -19 0zM1320.5 168.6a9.5 9.5 0 1 0 19 0a9.5 9.5 0 1 0 -19 0zM1322.3 167.3a9.5 9.5 0 1 0 19 0a9.5 9.5 0 1 0 -19 0zM1324.2 166.1a9.5 9.5 0 1 0 19 0a9.5 9.5 0 1 0 -19 0zM1326 164.8a9.5 9.5 0 1 0 19 0a9.5 9.5 0 1 0 -19 0zM1327.8 163.6a9.5 9.5 0 1 0 19 0a9.5 9.5 0 1 0 -19 0zM1329.6 162.3a9.5 9.5 0 1 0 19 0a9.5 9.5 0 1 0 -19 0zM1331.5 161.1a9.5 9.5 0 1 0 19 0a9.5 9.5 0 1 0 -19 0zM1333.3 159.8a9.5 9.5 0 1 0 19 0a9.5 9.5 0 1 0 -19 0zM1335.1 158.6a9.5 9.5 0 1 0 19 0a9.5 9.5 0 1 0 -19 0zM1337 157.3a9.5 9.5 0 1 0 19 0a9.5 9.5 0 1 0 -19 0zM1338.8 156.1a9.5 9.5 0 1 0 19 0a9.5 9.5 0 1 0 -19 0zM1340.6 154.8a9.5 9.5 0 1 0 19 0a9.5 9.5 0 1 0 -19 0zM1342.5 153.5a9.5 9.5 0 1 0 19 0a9.5 9.5 0 1 0 -19 0zM1344.3 152.3a9.5 9.5 0 1 0 19 0a9.5 9.5 0 1 0 -19 0zM1346.2 151a9.5 9.5 0 1 0 19 0a9.5 9.5 0 1 0 -19 0zM1348 149.8a9.5 9.5 0 1 0 19 0a9.5 9.5 0 1 0 -19 0zM1349.9 148.5a9.5 9.5 0 1 0 19 0a9.5 9.5 0 1 0 -19 0zM1351.7 147.3a9.5 9.5 0 1 0 19 0a9.5 9.5 0 1 0 -19 0zM1353.6 146a9.5 9.5 0 1 0 19 0a9.5 9.5 0 1 0 -19 0zM1355.4 144.8a9.5 9.5 0 1 0 19 0a9.5 9.5 0 1 0 -19 0zM1357.3 143.5a9.5 9.5 0 1 0 19 0a9.5 9.5 0 1 0 -19 0zM1359.1 142.3a9.5 9.5 0 1 0 19 0a9.5 9.5 0 1 0 -19 0zM1361 141a9.5 9.5 0 1 0 19 0a9.5 9.5 0 1 0 -19 0zM1362.9 139.8a9.5 9.5 0 1 0 19 0a9.5 9.5 0 1 0 -19 0zM1364.7 138.5a9.5 9.5 0 1 0 19 0a9.5 9.5 0 1 0 -19 0zM1366.6 137.2a9.5 9.5 0 1 0 19 0a9.5 9.5 0 1 0 -19 0zM1368.5 136a9.5 9.5 0 1 0 19 0a9.5 9.5 0 1 0 -19 0zM1370.4 134.7a9.5 9.5 0 1 0 19 0a9.5 9.5 0 1 0 -19 0zM1372.2 133.5a9.5 9.5 0 1 0 19 0a9.5 9.5 0 1 0 -19 0zM1374.1 132.2a9.5 9.5 0 1 0 19 0a9.5 9.5 0 1 0 -19 0zM1376 131a9.5 9.5 0 1 0 19 0a9.5 9.5 0 1 0 -19 0zM1377.9 129.7a9.5 9.5 0 1 0 19 0a9.5 9.5 0 1 0 -19 0zM1379.8 128.5a9.5 9.5 0 1 0 19 0a9.5 9.5 0 1 0 -19 0zM1381.7 127.2a9.5 9.5 0 1 0 19 0a9.5 9.5 0 1 0 -19 0zM1383.6 126a9.5 9.5 0 1 0 19 0a9.5 9.5 0 1 0 -19 0zM1385.5 124.7a9.5 9.5 0 1 0 19 0a9.5 9.5 0 1 0 -19 0zM1387.4 123.4a9.5 9.5 0 1 0 19 0a9.5 9.5 0 1 0 -19 0zM1389.3 122.2a9.5 9.5 0 1 0 19 0a9.5 9.5 0 1 0 -19 0zM1391.2 120.9a9.5 9.5 0 1 0 19 0a9.5 9.5 0 1 0 -19 0zM1393.1 119.7a9.5 9.5 0 1 0 19 0a9.5 9.5 0 1 0 -19 0zM1395 118.4a9.5 9.5 0 1 0 19 0a9.5 9.5 0 1 0 -19 0zM1396.9 117.2a9.5 9.5 0 1 0 19 0a9.5 9.5 0 1 0 -19 0zM1398.8 115.9a9.5 9.5 0 1 0 19 0a9.5 9.5 0 1 0 -19 0zM1400.8 114.7a9.5 9.5 0 1 0 19 0a9.5 9.5 0 1 0 -19 0zM1402.7 113.4a9.5 9.5 0 1 0 19 0a9.5 9.5 0 1 0 -19 0zM1404.6 112.2a9.5 9.5 0 1 0 19 0a9.5 9.5 0 1 0 -19 0zM1406.5 110.9a9.5 9.5 0 1 0 19 0a9.5 9.5 0 1 0 -19 0zM1408.5 109.6a9.5 9.5 0 1 0 19 0a9.5 9.5 0 1 0 -19 0zM1410.4 108.4a9.5 9.5 0 1 0 19 0a9.5 9.5 0 1 0 -19 0zM1412.4 107.1a9.5 9.5 0 1 0 19 0a9.5 9.5 0 1 0 -19 0zM1414.3 105.9a9.5 9.5 0 1 0 19 0a9.5 9.5 0 1 0 -19 0zM1414.6 105.7a9.5 9.5 0 1 0 19 0a9.5 9.5 0 1 0 -19 0zM1414.9 105.5a9.5 9.5 0 1 0 19 0a9.5 9.5 0 1 0 -19 0zM729.5 607.2a9.5 9.5 0 1 0 19 0a9.5 9.5 0 1 0 -19 0zM744.8 609.7a9.5 9.5 0 1 0 19 0a9.5 9.5 0 1 0 -19 0zM759 612.2a9.5 9.5 0 1 0 19 0a9.5 9.5 0 1 0 -19 0zM772 614.7a9.5 9.5 0 1 0 19 0a9.5 9.5 0 1 0 -19 0zM784.2 617.2a9.5 9.5 0 1 0 19 0a9.5 9.5 0 1 0 -19 0zM795.6 619.8a9.5 9.5 0 1 0 19 0a9.5 9.5 0 1 0 -19 0zM806.2 622.3a9.5 9.5 0 1 0 19 0a9.5 9.5 0 1 0 -19 0zM816.2 624.8a9.5 9.5 0 1 0 19 0a9.5 9.5 0 1 0 -19 0zM825.7 627.3a9.5 9.5 0 1 0 19 0a9.5 9.5 0 1 0 -19 0zM834.7 629.8a9.5 9.5 0 1 0 19 0a9.5 9.5 0 1 0 -19 0zM843.2 632.3a9.5 9.5 0 1 0 19 0a9.5 9.5 0 1 0 -19 0zM851.4 634.8a9.5 9.5 0 1 0 19 0a9.5 9.5 0 1 0 -19 0zM859.1 637.3a9.5 9.5 0 1 0 19 0a9.5 9.5 0 1 0 -19 0zM866.5 639.8a9.5 9.5 0 1 0 19 0a9.5 9.5 0 1 0 -19 0zM873.5 642.3a9.5 9.5 0 1 0 19 0a9.5 9.5 0 1 0 -19 0zM880.1 644.8a9.5 9.5 0 1 0 19 0a9.5 9.5 0 1 0 -19 0zM886.5 647.3a9.5 9.5 0 1 0 19 0a9.5 9.5 0 1 0 -19 0zM892.5 649.9a9.5 9.5 0 1 0 19 0a9.5 9.5 0 1 0 -19 0zM898.3 652.4a9.5 9.5 0 1 0 19 0a9.5 9.5 0 1 0 -19 0zM903.9 654.9a9.5 9.5 0 1 0 19 0a9.5 9.5 0 1 0 -19 0zM909.1 657.4a9.5 9.5 0 1 0 19 0a9.5 9.5 0 1 0 -19 0zM914.2 659.9a9.5 9.5 0 1 0 19 0a9.5 9.5 0 1 0 -19 0zM919 662.4a9.5 9.5 0 1 0 19 0a9.5 9.5 0 1 0 -19 0zM923.7 664.9a9.5 9.5 0 1 0 19 0a9.5 9.5 0 1 0 -19 0zM928.2 667.4a9.5 9.5 0 1 0 19 0a9.5 9.5 0 1 0 -19 0zM930.3 668.7a9.5 9.5 0 1 0 19 0a9.5 9.5 0 1 0 -19 0zM932.4 669.9a9.5 9.5 0 1 0 19 0a9.5 9.5 0 1 0 -19 0zM934.5 671.2a9.5 9.5 0 1 0 19 0a9.5 9.5 0 1 0 -19 0zM936.5 672.4a9.5 9.5 0 1 0 19 0a9.5 9.5 0 1 0 -19 0zM938.5 673.7a9.5 9.5 0 1 0 19 0a9.5 9.5 0 1 0 -19 0zM940.5 674.9a9.5 9.5 0 1 0 19 0a9.5 9.5 0 1 0 -19 0zM942.4 676.2a9.5 9.5 0 1 0 19 0a9.5 9.5 0 1 0 -19 0zM944.3 677.5a9.5 9.5 0 1 0 19 0a9.5 9.5 0 1 0 -19 0zM946.2 678.7a9.5 9.5 0 1 0 19 0a9.5 9.5 0 1 0 -19 0zM948 680a9.5 9.5 0 1 0 19 0a9.5 9.5 0 1 0 -19 0zM949.8 681.2a9.5 9.5 0 1 0 19 0a9.5 9.5 0 1 0 -19 0zM951.5 682.5a9.5 9.5 0 1 0 19 0a9.5 9.5 0 1 0 -19 0zM953.2 683.7a9.5 9.5 0 1 0 19 0a9.5 9.5 0 1 0 -19 0zM954.9 685a9.5 9.5 0 1 0 19 0a9.5 9.5 0 1 0 -19 0zM956.6 686.2a9.5 9.5 0 1 0 19 0a9.5 9.5 0 1 0 -19 0zM958.2 687.5a9.5 9.5 0 1 0 19 0a9.5 9.5 0 1 0 -19 0zM959.8 688.7a9.5 9.5 0 1 0 19 0a9.5 9.5 0 1 0 -19 0zM961.3 690a9.5 9.5 0 1 0 19 0a9.5 9.5 0 1 0 -19 0zM962.9 691.2a9.5 9.5 0 1 0 19 0a9.5 9.5 0 1 0 -19 0zM964.4 692.5a9.5 9.5 0 1 0 19 0a9.5 9.5 0 1 0 -19 0zM965.9 693.8a9.5 9.5 0 1 0 19 0a9.5 9.5 0 1 0 -19 0zM967.4 695a9.5 9.5 0 1 0 19 0a9.5 9.5 0 1 0 -19 0zM968.8 696.3a9.5 9.5 0 1 0 19 0a9.5 9.5 0 1 0 -19 0zM970.3 697.5a9.5 9.5 0 1 0 19 0a9.5 9.5 0 1 0 -19 0zM971.7 698.8a9.5 9.5 0 1 0 19 0a9.5 9.5 0 1 0 -19 0zM973.1 700a9.5 9.5 0 1 0 19 0a9.5 9.5 0 1 0 -19 0zM974.4 701.3a9.5 9.5 0 1 0 19 0a9.5 9.5 0 1 0 -19 0zM975.8 702.5a9.5 9.5 0 1 0 19 0a9.5 9.5 0 1 0 -19 0zM977.1 703.8a9.5 9.5 0 1 0 19 0a9.5 9.5 0 1 0 -19 0zM978.4 705a9.5 9.5 0 1 0 19 0a9.5 9.5 0 1 0 -19 0zM979.7 706.3a9.5 9.5 0 1 0 19 0a9.5 9.5 0 1 0 -19 0zM981 707.6a9.5 9.5 0 1 0 19 0a9.5 9.5 0 1 0 -19 0zM982.3 708.8a9.5 9.5 0 1 0 19 0a9.5 9.5 0 1 0 -19 0zM983.6 710.1a9.5 9.5 0 1 0 19 0a9.5 9.5 0 1 0 -19 0zM984.8 711.3a9.5 9.5 0 1 0 19 0a9.5 9.5 0 1 0 -19 0zM986.1 712.6a9.5 9.5 0 1 0 19 0a9.5 9.5 0 1 0 -19 0zM987.3 713.8a9.5 9.5 0 1 0 19 0a9.5 9.5 0 1 0 -19 0zM988.5 715.1a9.5 9.5 0 1 0 19 0a9.5 9.5 0 1 0 -19 0zM989.7 716.3a9.5 9.5 0 1 0 19 0a9.5 9.5 0 1 0 -19 0zM990.9 717.6a9.5 9.5 0 1 0 19 0a9.5 9.5 0 1 0 -19 0zM992.1 718.8a9.5 9.5 0 1 0 19 0a9.5 9.5 0 1 0 -19 0zM993.3 720.1a9.5 9.5 0 1 0 19 0a9.5 9.5 0 1 0 -19 0zM994.4 721.4a9.5 9.5 0 1 0 19 0a9.5 9.5 0 1 0 -19 0zM995.6 722.6a9.5 9.5 0 1 0 19 0a9.5 9.5 0 1 0 -19 0zM996.7 723.9a9.5 9.5 0 1 0 19 0a9.5 9.5 0 1 0 -19 0zM997.9 725.1a9.5 9.5 0 1 0 19 0a9.5 9.5 0 1 0 -19 0zM999 726.4a9.5 9.5 0 1 0 19 0a9.5 9.5 0 1 0 -19 0zM1000.1 727.6a9.5 9.5 0 1 0 19 0a9.5 9.5 0 1 0 -19 0zM1001.2 728.9a9.5 9.5 0 1 0 19 0a9.5 9.5 0 1 0 -19 0zM1002.3 730.1a9.5 9.5 0 1 0 19 0a9.5 9.5 0 1 0 -19 0zM1003.4 731.4a9.5 9.5 0 1 0 19 0a9.5 9.5 0 1 0 -19 0zM1004.5 732.6a9.5 9.5 0 1 0 19 0a9.5 9.5 0 1 0 -19 0zM1005.6 733.9a9.5 9.5 0 1 0 19 0a9.5 9.5 0 1 0 -19 0zM1006.7 735.2a9.5 9.5 0 1 0 19 0a9.5 9.5 0 1 0 -19 0zM1007.8 736.4a9.5 9.5 0 1 0 19 0a9.5 9.5 0 1 0 -19 0zM1008.8 737.7a9.5 9.5 0 1 0 19 0a9.5 9.5 0 1 0 -19 0zM1009.9 738.9a9.5 9.5 0 1 0 19 0a9.5 9.5 0 1 0 -19 0zM1010.9 740.2a9.5 9.5 0 1 0 19 0a9.5 9.5 0 1 0 -19 0zM1012 741.4a9.5 9.5 0 1 0 19 0a9.5 9.5 0 1 0 -19 0zM1013 742.7a9.5 9.5 0 1 0 19 0a9.5 9.5 0 1 0 -19 0zM1014.1 743.9a9.5 9.5 0 1 0 19 0a9.5 9.5 0 1 0 -19 0zM1015.1 745.2a9.5 9.5 0 1 0 19 0a9.5 9.5 0 1 0 -19 0zM1016.1 746.4a9.5 9.5 0 1 0 19 0a9.5 9.5 0 1 0 -19 0zM1017.2 747.7a9.5 9.5 0 1 0 19 0a9.5 9.5 0 1 0 -19 0zM1018.2 748.9a9.5 9.5 0 1 0 19 0a9.5 9.5 0 1 0 -19 0zM1019.2 750.2a9.5 9.5 0 1 0 19 0a9.5 9.5 0 1 0 -19 0zM1020.2 751.5a9.5 9.5 0 1 0 19 0a9.5 9.5 0 1 0 -19 0zM1021.2 752.7a9.5 9.5 0 1 0 19 0a9.5 9.5 0 1 0 -19 0zM1022.2 754a9.5 9.5 0 1 0 19 0a9.5 9.5 0 1 0 -19 0zM1023.2 755.2a9.5 9.5 0 1 0 19 0a9.5 9.5 0 1 0 -19 0zM1024.2 756.5a9.5 9.5 0 1 0 19 0a9.5 9.5 0 1 0 -19 0zM1025.2 757.7a9.5 9.5 0 1 0 19 0a9.5 9.5 0 1 0 -19 0zM1026.2 759a9.5 9.5 0 1 0 19 0a9.5 9.5 0 1 0 -19 0zM1027.2 760.2a9.5 9.5 0 1 0 19 0a9.5 9.5 0 1 0 -19 0zM1028.1 761.5a9.5 9.5 0 1 0 19 0a9.5 9.5 0 1 0 -19 0zM1029.1 762.7a9.5 9.5 0 1 0 19 0a9.5 9.5 0 1 0 -19 0zM1030.1 764a9.5 9.5 0 1 0 19 0a9.5 9.5 0 1 0 -19 0zM1031 765.3a9.5 9.5 0 1 0 19 0a9.5 9.5 0 1 0 -19 0zM1032 766.5a9.5 9.5 0 1 0 19 0a9.5 9.5 0 1 0 -19 0zM1032.9 767.8a9.5 9.5 0 1 0 19 0a9.5 9.5 0 1 0 -19 0zM1033.9 769a9.5 9.5 0 1 0 19 0a9.5 9.5 0 1 0 -19 0zM1034.8 770.3a9.5 9.5 0 1 0 19 0a9.5 9.5 0 1 0 -19 0zM1035.8 771.5a9.5 9.5 0 1 0 19 0a9.5 9.5 0 1 0 -19 0zM1036.7 772.8a9.5 9.5 0 1 0 19 0a9.5 9.5 0 1 0 -19 0zM1037.6 774a9.5 9.5 0 1 0 19 0a9.5 9.5 0 1 0 -19 0zM1038.6 775.3a9.5 9.5 0 1 0 19 0a9.5 9.5 0 1 0 -19 0zM1039.5 776.5a9.5 9.5 0 1 0 19 0a9.5 9.5 0 1 0 -19 0zM1040.4 777.8a9.5 9.5 0 1 0 19 0a9.5 9.5 0 1 0 -19 0zM1041.3 779.1a9.5 9.5 0 1 0 19 0a9.5 9.5 0 1 0 -19 0zM1042.2 780.3a9.5 9.5 0 1 0 19 0a9.5 9.5 0 1 0 -19 0zM1043.2 781.6a9.5 9.5 0 1 0 19 0a9.5 9.5 0 1 0 -19 0zM1044.1 782.8a9.5 9.5 0 1 0 19 0a9.5 9.5 0 1 0 -19 0zM1045 784.1a9.5 9.5 0 1 0 19 0a9.5 9.5 0 1 0 -19 0zM1045.9 785.3a9.5 9.5 0 1 0 19 0a9.5 9.5 0 1 0 -19 0zM1046.8 786.6a9.5 9.5 0 1 0 19 0a9.5 9.5 0 1 0 -19 0zM1047.7 787.8a9.5 9.5 0 1 0 19 0a9.5 9.5 0 1 0 -19 0zM1048.5 789.1a9.5 9.5 0 1 0 19 0a9.5 9.5 0 1 0 -19 0zM1049.4 790.3a9.5 9.5 0 1 0 19 0a9.5 9.5 0 1 0 -19 0zM1050.3 791.6a9.5 9.5 0 1 0 19 0a9.5 9.5 0 1 0 -19 0zM1051.2 792.8a9.5 9.5 0 1 0 19 0a9.5 9.5 0 1 0 -19 0zM1052.1 794.1a9.5 9.5 0 1 0 19 0a9.5 9.5 0 1 0 -19 0zM1052.9 795.4a9.5 9.5 0 1 0 19 0a9.5 9.5 0 1 0 -19 0zM1053.8 796.6a9.5 9.5 0 1 0 19 0a9.5 9.5 0 1 0 -19 0zM1054.7 797.9a9.5 9.5 0 1 0 19 0a9.5 9.5 0 1 0 -19 0zM1055.5 799.1a9.5 9.5 0 1 0 19 0a9.5 9.5 0 1 0 -19 0zM1056.4 800.4a9.5 9.5 0 1 0 19 0a9.5 9.5 0 1 0 -19 0zM1057.2 801.6a9.5 9.5 0 1 0 19 0a9.5 9.5 0 1 0 -19 0zM1058.1 802.9a9.5 9.5 0 1 0 19 0a9.5 9.5 0 1 0 -19 0zM1058.9 804.1a9.5 9.5 0 1 0 19 0a9.5 9.5 0 1 0 -19 0zM1059.8 805.4a9.5 9.5 0 1 0 19 0a9.5 9.5 0 1 0 -19 0zM1060.6 806.6a9.5 9.5 0 1 0 19 0a9.5 9.5 0 1 0 -19 0zM1061.5 807.9a9.5 9.5 0 1 0 19 0a9.5 9.5 0 1 0 -19 0zM1062.3 809.2a9.5 9.5 0 1 0 19 0a9.5 9.5 0 1 0 -19 0zM1063.1 810.4a9.5 9.5 0 1 0 19 0a9.5 9.5 0 1 0 -19 0zM1064 811.7a9.5 9.5 0 1 0 19 0a9.5 9.5 0 1 0 -19 0zM1064.8 812.9a9.5 9.5 0 1 0 19 0a9.5 9.5 0 1 0 -19 0zM1065.6 814.2a9.5 9.5 0 1 0 19 0a9.5 9.5 0 1 0 -19 0zM1066.4 815.4a9.5 9.5 0 1 0 19 0a9.5 9.5 0 1 0 -19 0zM1067.3 816.7a9.5 9.5 0 1 0 19 0a9.5 9.5 0 1 0 -19 0zM1068.1 817.9a9.5 9.5 0 1 0 19 0a9.5 9.5 0 1 0 -19 0zM1068.9 819.2a9.5 9.5 0 1 0 19 0a9.5 9.5 0 1 0 -19 0zM1069.7 820.4a9.5 9.5 0 1 0 19 0a9.5 9.5 0 1 0 -19 0zM1070.5 821.7a9.5 9.5 0 1 0 19 0a9.5 9.5 0 1 0 -19 0zM1071.3 823a9.5 9.5 0 1 0 19 0a9.5 9.5 0 1 0 -19 0zM1072.1 824.2a9.5 9.5 0 1 0 19 0a9.5 9.5 0 1 0 -19 0zM1072.9 825.5a9.5 9.5 0 1 0 19 0a9.5 9.5 0 1 0 -19 0zM1073.7 826.7a9.5 9.5 0 1 0 19 0a9.5 9.5 0 1 0 -19 0zM1074.5 828a9.5 9.5 0 1 0 19 0a9.5 9.5 0 1 0 -19 0zM1075.3 829.2a9.5 9.5 0 1 0 19 0a9.5 9.5 0 1 0 -19 0zM1076.1 830.5a9.5 9.5 0 1 0 19 0a9.5 9.5 0 1 0 -19 0zM1076.9 831.7a9.5 9.5 0 1 0 19 0a9.5 9.5 0 1 0 -19 0zM1077.7 833a9.5 9.5 0 1 0 19 0a9.5 9.5 0 1 0 -19 0zM1078.4 834.2a9.5 9.5 0 1 0 19 0a9.5 9.5 0 1 0 -19 0zM1079.2 835.5a9.5 9.5 0 1 0 19 0a9.5 9.5 0 1 0 -19 0zM1080 836.8a9.5 9.5 0 1 0 19 0a9.5 9.5 0 1 0 -19 0zM1080.8 838a9.5 9.5 0 1 0 19 0a9.5 9.5 0 1 0 -19 0zM1081.5 839.3a9.5 9.5 0 1 0 19 0a9.5 9.5 0 1 0 -19 0zM1082.3 840.5a9.5 9.5 0 1 0 19 0a9.5 9.5 0 1 0 -19 0zM1083.1 841.8a9.5 9.5 0 1 0 19 0a9.5 9.5 0 1 0 -19 0zM1083.9 843a9.5 9.5 0 1 0 19 0a9.5 9.5 0 1 0 -19 0zM1084.6 844.3a9.5 9.5 0 1 0 19 0a9.5 9.5 0 1 0 -19 0zM1085.4 845.5a9.5 9.5 0 1 0 19 0a9.5 9.5 0 1 0 -19 0zM1086.1 846.8a9.5 9.5 0 1 0 19 0a9.5 9.5 0 1 0 -19 0zM1086.9 848a9.5 9.5 0 1 0 19 0a9.5 9.5 0 1 0 -19 0zM1087.6 849.3a9.5 9.5 0 1 0 19 0a9.5 9.5 0 1 0 -19 0zM1088.4 850.5a9.5 9.5 0 1 0 19 0a9.5 9.5 0 1 0 -19 0zM1089.1 851.8a9.5 9.5 0 1 0 19 0a9.5 9.5 0 1 0 -19 0zM1089.9 853.1a9.5 9.5 0 1 0 19 0a9.5 9.5 0 1 0 -19 0zM1090.6 854.3a9.5 9.5 0 1 0 19 0a9.5 9.5 0 1 0 -19 0zM1091.4 855.6a9.5 9.5 0 1 0 19 0a9.5 9.5 0 1 0 -19 0zM1092.1 856.8a9.5 9.5 0 1 0 19 0a9.5 9.5 0 1 0 -19 0zM1092.9 858.1a9.5 9.5 0 1 0 19 0a9.5 9.5 0 1 0 -19 0zM1093.6 859.3a9.5 9.5 0 1 0 19 0a9.5 9.5 0 1 0 -19 0zM1094.3 860.6a9.5 9.5 0 1 0 19 0a9.5 9.5 0 1 0 -19 0zM1095.1 861.8a9.5 9.5 0 1 0 19 0a9.5 9.5 0 1 0 -19 0zM1095.8 863.1a9.5 9.5 0 1 0 19 0a9.5 9.5 0 1 0 -19 0zM1096.5 864.3a9.5 9.5 0 1 0 19 0a9.5 9.5 0 1 0 -19 0zM1097.3 865.6a9.5 9.5 0 1 0 19 0a9.5 9.5 0 1 0 -19 0zM1098 866.9a9.5 9.5 0 1 0 19 0a9.5 9.5 0 1 0 -19 0zM1098.7 868.1a9.5 9.5 0 1 0 19 0a9.5 9.5 0 1 0 -19 0zM1099.4 869.4a9.5 9.5 0 1 0 19 0a9.5 9.5 0 1 0 -19 0zM1100.1 870.6a9.5 9.5 0 1 0 19 0a9.5 9.5 0 1 0 -19 0zM1100.9 871.9a9.5 9.5 0 1 0 19 0a9.5 9.5 0 1 0 -19 0zM1101.6 873.1a9.5 9.5 0 1 0 19 0a9.5 9.5 0 1 0 -19 0zM1102.3 874.4a9.5 9.5 0 1 0 19 0a9.5 9.5 0 1 0 -19 0zM1103 875.6a9.5 9.5 0 1 0 19 0a9.5 9.5 0 1 0 -19 0zM1103.7 876.9a9.5 9.5 0 1 0 19 0a9.5 9.5 0 1 0 -19 0zM1104.4 878.1a9.5 9.5 0 1 0 19 0a9.5 9.5 0 1 0 -19 0zM1105.1 879.4a9.5 9.5 0 1 0 19 0a9.5 9.5 0 1 0 -19 0zM1105.8 880.7a9.5 9.5 0 1 0 19 0a9.5 9.5 0 1 0 -19 0zM1106.5 881.9a9.5 9.5 0 1 0 19 0a9.5 9.5 0 1 0 -19 0zM1107.2 883.2a9.5 9.5 0 1 0 19 0a9.5 9.5 0 1 0 -19 0zM1107.9 884.4a9.5 9.5 0 1 0 19 0a9.5 9.5 0 1 0 -19 0zM1108.6 885.7a9.5 9.5 0 1 0 19 0a9.5 9.5 0 1 0 -19 0zM1109.3 886.9a9.5 9.5 0 1 0 19 0a9.5 9.5 0 1 0 -19 0zM1110 888.2a9.5 9.5 0 1 0 19 0a9.5 9.5 0 1 0 -19 0zM1110.7 889.4a9.5 9.5 0 1 0 19 0a9.5 9.5 0 1 0 -19 0zM1111.4 890.7a9.5 9.5 0 1 0 19 0a9.5 9.5 0 1 0 -19 0zM1112.1 891.9a9.5 9.5 0 1 0 19 0a9.5 9.5 0 1 0 -19 0zM1112.8 893.2a9.5 9.5 0 1 0 19 0a9.5 9.5 0 1 0 -19 0zM1113.5 894.5a9.5 9.5 0 1 0 19 0a9.5 9.5 0 1 0 -19 0zM1114.2 895.7a9.5 9.5 0 1 0 19 0a9.5 9.5 0 1 0 -19 0zM1114.9 897a9.5 9.5 0 1 0 19 0a9.5 9.5 0 1 0 -19 0zM1115.5 898.2a9.5 9.5 0 1 0 19 0a9.5 9.5 0 1 0 -19 0zM1116.2 899.5a9.5 9.5 0 1 0 19 0a9.5 9.5 0 1 0 -19 0zM1116.9 900.7a9.5 9.5 0 1 0 19 0a9.5 9.5 0 1 0 -19 0zM1117.6 902a9.5 9.5 0 1 0 19 0a9.5 9.5 0 1 0 -19 0zM1118.3 903.2a9.5 9.5 0 1 0 19 0a9.5 9.5 0 1 0 -19 0zM1118.9 904.5a9.5 9.5 0 1 0 19 0a9.5 9.5 0 1 0 -19 0zM1119.6 905.7a9.5 9.5 0 1 0 19 0a9.5 9.5 0 1 0 -19 0zM1120.3 907a9.5 9.5 0 1 0 19 0a9.5 9.5 0 1 0 -19 0zM1121 908.2a9.5 9.5 0 1 0 19 0a9.5 9.5 0 1 0 -19 0zM1121.6 909.5a9.5 9.5 0 1 0 19 0a9.5 9.5 0 1 0 -19 0zM1122.3 910.8a9.5 9.5 0 1 0 19 0a9.5 9.5 0 1 0 -19 0zM1123 912a9.5 9.5 0 1 0 19 0a9.5 9.5 0 1 0 -19 0zM1123.6 913.3a9.5 9.5 0 1 0 19 0a9.5 9.5 0 1 0 -19 0zM1124.3 914.5a9.5 9.5 0 1 0 19 0a9.5 9.5 0 1 0 -19 0zM1125 915.8a9.5 9.5 0 1 0 19 0a9.5 9.5 0 1 0 -19 0zM1125.6 917a9.5 9.5 0 1 0 19 0a9.5 9.5 0 1 0 -19 0zM1126.3 918.3a9.5 9.5 0 1 0 19 0a9.5 9.5 0 1 0 -19 0zM1126.9 919.5a9.5 9.5 0 1 0 19 0a9.5 9.5 0 1 0 -19 0zM1127.6 920.8a9.5 9.5 0 1 0 19 0a9.5 9.5 0 1 0 -19 0zM1128.3 922a9.5 9.5 0 1 0 19 0a9.5 9.5 0 1 0 -19 0zM1128.9 923.3a9.5 9.5 0 1 0 19 0a9.5 9.5 0 1 0 -19 0zM1129.6 924.6a9.5 9.5 0 1 0 19 0a9.5 9.5 0 1 0 -19 0zM1130.2 925.8a9.5 9.5 0 1 0 19 0a9.5 9.5 0 1 0 -19 0zM1130.9 927.1a9.5 9.5 0 1 0 19 0a9.5 9.5 0 1 0 -19 0zM1131.5 928.3a9.5 9.5 0 1 0 19 0a9.5 9.5 0 1 0 -19 0zM1132.2 929.6a9.5 9.5 0 1 0 19 0a9.5 9.5 0 1 0 -19 0zM1132.8 930.8a9.5 9.5 0 1 0 19 0a9.5 9.5 0 1 0 -19 0zM1133.5 932.1a9.5 9.5 0 1 0 19 0a9.5 9.5 0 1 0 -19 0zM1134.1 933.3a9.5 9.5 0 1 0 19 0a9.5 9.5 0 1 0 -19 0zM1134.8 934.6a9.5 9.5 0 1 0 19 0a9.5 9.5 0 1 0 -19 0zM1135.4 935.8a9.5 9.5 0 1 0 19 0a9.5 9.5 0 1 0 -19 0zM1136.1 937.1a9.5 9.5 0 1 0 19 0a9.5 9.5 0 1 0 -19 0zM1136.7 938.4a9.5 9.5 0 1 0 19 0a9.5 9.5 0 1 0 -19 0zM1137.4 939.6a9.5 9.5 0 1 0 19 0a9.5 9.5 0 1 0 -19 0zM1138 940.9a9.5 9.5 0 1 0 19 0a9.5 9.5 0 1 0 -19 0zM1138.7 942.1a9.5 9.5 0 1 0 19 0a9.5 9.5 0 1 0 -19 0zM1139.3 943.4a9.5 9.5 0 1 0 19 0a9.5 9.5 0 1 0 -19 0zM1139.9 944.6a9.5 9.5 0 1 0 19 0a9.5 9.5 0 1 0 -19 0zM1140.6 945.9a9.5 9.5 0 1 0 19 0a9.5 9.5 0 1 0 -19 0zM1141.2 947.1a9.5 9.5 0 1 0 19 0a9.5 9.5 0 1 0 -19 0zM1141.9 948.4a9.5 9.5 0 1 0 19 0a9.5 9.5 0 1 0 -19 0zM1142.5 949.6a9.5 9.5 0 1 0 19 0a9.5 9.5 0 1 0 -19 0zM1143.1 950.9a9.5 9.5 0 1 0 19 0a9.5 9.5 0 1 0 -19 0zM1143.8 952.2a9.5 9.5 0 1 0 19 0a9.5 9.5 0 1 0 -19 0zM1144.4 953.4a9.5 9.5 0 1 0 19 0a9.5 9.5 0 1 0 -19 0zM1145 954.7a9.5 9.5 0 1 0 19 0a9.5 9.5 0 1 0 -19 0zM1145.7 955.9a9.5 9.5 0 1 0 19 0a9.5 9.5 0 1 0 -19 0zM1146.3 957.2a9.5 9.5 0 1 0 19 0a9.5 9.5 0 1 0 -19 0zM1146.9 958.4a9.5 9.5 0 1 0 19 0a9.5 9.5 0 1 0 -19 0zM1147.6 959.7a9.5 9.5 0 1 0 19 0a9.5 9.5 0 1 0 -19 0zM1148.2 960.9a9.5 9.5 0 1 0 19 0a9.5 9.5 0 1 0 -19 0zM1148.8 962.2a9.5 9.5 0 1 0 19 0a9.5 9.5 0 1 0 -19 0zM1149.5 963.4a9.5 9.5 0 1 0 19 0a9.5 9.5 0 1 0 -19 0zM1150.1 964.7a9.5 9.5 0 1 0 19 0a9.5 9.5 0 1 0 -19 0zM1150.7 965.9a9.5 9.5 0 1 0 19 0a9.5 9.5 0 1 0 -19 0zM1151.3 967.2a9.5 9.5 0 1 0 19 0a9.5 9.5 0 1 0 -19 0zM1152 968.5a9.5 9.5 0 1 0 19 0a9.5 9.5 0 1 0 -19 0zM1152.6 969.7a9.5 9.5 0 1 0 19 0a9.5 9.5 0 1 0 -19 0zM1153.2 971a9.5 9.5 0 1 0 19 0a9.5 9.5 0 1 0 -19 0zM1153.8 972.2a9.5 9.5 0 1 0 19 0a9.5 9.5 0 1 0 -19 0zM1154.5 973.5a9.5 9.5 0 1 0 19 0a9.5 9.5 0 1 0 -19 0zM1155.1 974.7a9.5 9.5 0 1 0 19 0a9.5 9.5 0 1 0 -19 0zM1155.7 976a9.5 9.5 0 1 0 19 0a9.5 9.5 0 1 0 -19 0zM1156.3 977.2a9.5 9.5 0 1 0 19 0a9.5 9.5 0 1 0 -19 0zM1156.9 978.5a9.5 9.5 0 1 0 19 0a9.5 9.5 0 1 0 -19 0zM1157.6 979.7a9.5 9.5 0 1 0 19 0a9.5 9.5 0 1 0 -19 0zM1158.2 981a9.5 9.5 0 1 0 19 0a9.5 9.5 0 1 0 -19 0zM1158.8 982.3a9.5 9.5 0 1 0 19 0a9.5 9.5 0 1 0 -19 0zM1159.4 983.5a9.5 9.5 0 1 0 19 0a9.5 9.5 0 1 0 -19 0zM1160 984.8a9.5 9.5 0 1 0 19 0a9.5 9.5 0 1 0 -19 0zM1160.6 986a9.5 9.5 0 1 0 19 0a9.5 9.5 0 1 0 -19 0zM1161.2 987.3a9.5 9.5 0 1 0 19 0a9.5 9.5 0 1 0 -19 0zM1161.9 988.5a9.5 9.5 0 1 0 19 0a9.5 9.5 0 1 0 -19 0zM1162.5 989.8a9.5 9.5 0 1 0 19 0a9.5 9.5 0 1 0 -19 0zM1163.1 991a9.5 9.5 0 1 0 19 0a9.5 9.5 0 1 0 -19 0zM1163.7 992.3a9.5 9.5 0 1 0 19 0a9.5 9.5 0 1 0 -19 0zM1164.3 993.5a9.5 9.5 0 1 0 19 0a9.5 9.5 0 1 0 -19 0zM1164.9 994.8a9.5 9.5 0 1 0 19 0a9.5 9.5 0 1 0 -19 0zM1165.5 996.1a9.5 9.5 0 1 0 19 0a9.5 9.5 0 1 0 -19 0zM1166.1 997.3a9.5 9.5 0 1 0 19 0a9.5 9.5 0 1 0 -19 0zM1166.7 998.6a9.5 9.5 0 1 0 19 0a9.5 9.5 0 1 0 -19 0zM1167.3 999.8a9.5 9.5 0 1 0 19 0a9.5 9.5 0 1 0 -19 0zM1167.9 1001.1a9.5 9.5 0 1 0 19 0a9.5 9.5 0 1 0 -19 0zM1168.5 1002.3a9.5 9.5 0 1 0 19 0a9.5 9.5 0 1 0 -19 0zM1169.1 1003.6a9.5 9.5 0 1 0 19 0a9.5 9.5 0 1 0 -19 0zM1169.7 1004.8a9.5 9.5 0 1 0 19 0a9.5 9.5 0 1 0 -19 0zM1170.3 1006.1a9.5 9.5 0 1 0 19 0a9.5 9.5 0 1 0 -19 0zM1170.9 1007.3a9.5 9.5 0 1 0 19 0a9.5 9.5 0 1 0 -19 0zM1171.5 1008.6a9.5 9.5 0 1 0 19 0a9.5 9.5 0 1 0 -19 0zM1172.1 1009.8a9.5 9.5 0 1 0 19 0a9.5 9.5 0 1 0 -19 0zM1172.7 1011.1a9.5 9.5 0 1 0 19 0a9.5 9.5 0 1 0 -19 0zM1173.3 1012.4a9.5 9.5 0 1 0 19 0a9.5 9.5 0 1 0 -19 0zM1173.9 1013.6a9.5 9.5 0 1 0 19 0a9.5 9.5 0 1 0 -19 0zM1174.4 1014.9a9.5 9.5 0 1 0 19 0a9.5 9.5 0 1 0 -19 0zM1175 1016.1a9.5 9.5 0 1 0 19 0a9.5 9.5 0 1 0 -19 0zM1175.6 1017.4a9.5 9.5 0 1 0 19 0a9.5 9.5 0 1 0 -19 0zM1176.2 1018.6a9.5 9.5 0 1 0 19 0a9.5 9.5 0 1 0 -19 0zM1176.8 1019.9a9.5 9.5 0 1 0 19 0a9.5 9.5 0 1 0 -19 0zM1177.3 1021.1a9.5 9.5 0 1 0 19 0a9.5 9.5 0 1 0 -19 0zM1177.9 1022.4a9.5 9.5 0 1 0 19 0a9.5 9.5 0 1 0 -19 0zM1178.5 1023.6a9.5 9.5 0 1 0 19 0a9.5 9.5 0 1 0 -19 0zM1179.1 1024.9a9.5 9.5 0 1 0 19 0a9.5 9.5 0 1 0 -19 0zM1179.7 1026.2a9.5 9.5 0 1 0 19 0a9.5 9.5 0 1 0 -19 0zM1180.2 1027.4a9.5 9.5 0 1 0 19 0a9.5 9.5 0 1 0 -19 0zM1180.8 1028.7a9.5 9.5 0 1 0 19 0a9.5 9.5 0 1 0 -19 0zM1181.4 1029.9a9.5 9.5 0 1 0 19 0a9.5 9.5 0 1 0 -19 0zM1181.9 1031.2a9.5 9.5 0 1 0 19 0a9.5 9.5 0 1 0 -19 0zM1182.5 1032.4a9.5 9.5 0 1 0 19 0a9.5 9.5 0 1 0 -19 0zM1183.1 1033.7a9.5 9.5 0 1 0 19 0a9.5 9.5 0 1 0 -19 0zM1183.6 1034.9a9.5 9.5 0 1 0 19 0a9.5 9.5 0 1 0 -19 0zM1184.2 1036.2a9.5 9.5 0 1 0 19 0a9.5 9.5 0 1 0 -19 0zM1184.8 1037.4a9.5 9.5 0 1 0 19 0a9.5 9.5 0 1 0 -19 0zM1185.3 1038.7a9.5 9.5 0 1 0 19 0a9.5 9.5 0 1 0 -19 0zM1185.9 1040a9.5 9.5 0 1 0 19 0a9.5 9.5 0 1 0 -19 0zM1186.4 1041.2a9.5 9.5 0 1 0 19 0a9.5 9.5 0 1 0 -19 0zM1187 1042.5a9.5 9.5 0 1 0 19 0a9.5 9.5 0 1 0 -19 0zM1187.5 1043.7a9.5 9.5 0 1 0 19 0a9.5 9.5 0 1 0 -19 0zM1188.1 1045a9.5 9.5 0 1 0 19 0a9.5 9.5 0 1 0 -19 0zM1188.6 1046.2a9.5 9.5 0 1 0 19 0a9.5 9.5 0 1 0 -19 0zM1189.2 1047.5a9.5 9.5 0 1 0 19 0a9.5 9.5 0 1 0 -19 0zM1189.7 1048.7a9.5 9.5 0 1 0 19 0a9.5 9.5 0 1 0 -19 0zM1190.3 1050a9.5 9.5 0 1 0 19 0a9.5 9.5 0 1 0 -19 0zM1190.8 1051.2a9.5 9.5 0 1 0 19 0a9.5 9.5 0 1 0 -19 0zM1191.3 1052.5a9.5 9.5 0 1 0 19 0a9.5 9.5 0 1 0 -19 0zM1191.9 1053.8a9.5 9.5 0 1 0 19 0a9.5 9.5 0 1 0 -19 0zM1192.4 1055a9.5 9.5 0 1 0 19 0a9.5 9.5 0 1 0 -19 0zM1193 1056.3a9.5 9.5 0 1 0 19 0a9.5 9.5 0 1 0 -19 0zM1193.5 1057.5a9.5 9.5 0 1 0 19 0a9.5 9.5 0 1 0 -19 0zM1194 1058.8a9.5 9.5 0 1 0 19 0a9.5 9.5 0 1 0 -19 0zM1194.6 1060a9.5 9.5 0 1 0 19 0a9.5 9.5 0 1 0 -19 0zM1195.1 1061.3a9.5 9.5 0 1 0 19 0a9.5 9.5 0 1 0 -19 0zM1195.6 1062.5a9.5 9.5 0 1 0 19 0a9.5 9.5 0 1 0 -19 0zM1196.1 1063.8a9.5 9.5 0 1 0 19 0a9.5 9.5 0 1 0 -19 0zM1196.7 1065a9.5 9.5 0 1 0 19 0a9.5 9.5 0 1 0 -19 0zM1197.2 1066.3a9.5 9.5 0 1 0 19 0a9.5 9.5 0 1 0 -19 0zM1197.7 1067.5a9.5 9.5 0 1 0 19 0a9.5 9.5 0 1 0 -19 0zM1198.2 1068.8a9.5 9.5 0 1 0 19 0a9.5 9.5 0 1 0 -19 0zM1198.7 1070.1a9.5 9.5 0 1 0 19 0a9.5 9.5 0 1 0 -19 0zM1199.2 1071.3a9.5 9.5 0 1 0 19 0a9.5 9.5 0 1 0 -19 0zM1199.8 1072.6a9.5 9.5 0 1 0 19 0a9.5 9.5 0 1 0 -19 0zM1200.3 1073.8a9.5 9.5 0 1 0 19 0a9.5 9.5 0 1 0 -19 0zM1200.8 1075.1a9.5 9.5 0 1 0 19 0a9.5 9.5 0 1 0 -19 0zM1201.3 1076.3a9.5 9.5 0 1 0 19 0a9.5 9.5 0 1 0 -19 0zM1201.8 1077.6a9.5 9.5 0 1 0 19 0a9.5 9.5 0 1 0 -19 0zM1202.3 1078.8a9.5 9.5 0 1 0 19 0a9.5 9.5 0 1 0 -19 0zM1202.8 1080.1a9.5 9.5 0 1 0 19 0a9.5 9.5 0 1 0 -19 0zM1203.3 1081.3a9.5 9.5 0 1 0 19 0a9.5 9.5 0 1 0 -19 0zM1203.8 1082.6a9.5 9.5 0 1 0 19 0a9.5 9.5 0 1 0 -19 0zM1204.3 1083.9a9.5 9.5 0 1 0 19 0a9.5 9.5 0 1 0 -19 0zM1204.8 1085.1a9.5 9.5 0 1 0 19 0a9.5 9.5 0 1 0 -19 0zM1205.3 1086.4a9.5 9.5 0 1 0 19 0a9.5 9.5 0 1 0 -19 0zM1205.8 1087.6a9.5 9.5 0 1 0 19 0a9.5 9.5 0 1 0 -19 0zM1206.3 1088.9a9.5 9.5 0 1 0 19 0a9.5 9.5 0 1 0 -19 0zM1206.8 1090.1a9.5 9.5 0 1 0 19 0a9.5 9.5 0 1 0 -19 0zM1207.3 1091.4a9.5 9.5 0 1 0 19 0a9.5 9.5 0 1 0 -19 0zM1207.8 1092.6a9.5 9.5 0 1 0 19 0a9.5 9.5 0 1 0 -19 0zM1208.3 1093.9a9.5 9.5 0 1 0 19 0a9.5 9.5 0 1 0 -19 0zM1208.8 1095.1a9.5 9.5 0 1 0 19 0a9.5 9.5 0 1 0 -19 0zM1209.3 1096.4a9.5 9.5 0 1 0 19 0a9.5 9.5 0 1 0 -19 0zM1209.8 1097.7a9.5 9.5 0 1 0 19 0a9.5 9.5 0 1 0 -19 0zM1210.3 1098.9a9.5 9.5 0 1 0 19 0a9.5 9.5 0 1 0 -19 0zM1210.8 1100.2a9.5 9.5 0 1 0 19 0a9.5 9.5 0 1 0 -19 0zM1211.3 1101.4a9.5 9.5 0 1 0 19 0a9.5 9.5 0 1 0 -19 0zM1211.8 1102.7a9.5 9.5 0 1 0 19 0a9.5 9.5 0 1 0 -19 0zM1212.3 1103.9a9.5 9.5 0 1 0 19 0a9.5 9.5 0 1 0 -19 0zM1212.8 1105.2a9.5 9.5 0 1 0 19 0a9.5 9.5 0 1 0 -19 0zM1213.3 1106.4a9.5 9.5 0 1 0 19 0a9.5 9.5 0 1 0 -19 0zM1213.8 1107.7a9.5 9.5 0 1 0 19 0a9.5 9.5 0 1 0 -19 0zM1214.4 1108.9a9.5 9.5 0 1 0 19 0a9.5 9.5 0 1 0 -19 0zM1214.9 1110.2a9.5 9.5 0 1 0 19 0a9.5 9.5 0 1 0 -19 0zM1215.4 1111.5a9.5 9.5 0 1 0 19 0a9.5 9.5 0 1 0 -19 0zM1215.9 1112.7a9.5 9.5 0 1 0 19 0a9.5 9.5 0 1 0 -19 0zM1216.4 1114a9.5 9.5 0 1 0 19 0a9.5 9.5 0 1 0 -19 0zM1216.9 1115.2a9.5 9.5 0 1 0 19 0a9.5 9.5 0 1 0 -19 0zM1217.4 1116.5a9.5 9.5 0 1 0 19 0a9.5 9.5 0 1 0 -19 0zM1217.9 1117.7a9.5 9.5 0 1 0 19 0a9.5 9.5 0 1 0 -19 0zM1218.5 1119a9.5 9.5 0 1 0 19 0a9.5 9.5 0 1 0 -19 0zM1219 1120.2a9.5 9.5 0 1 0 19 0a9.5 9.5 0 1 0 -19 0zM1219.5 1121.5a9.5 9.5 0 1 0 19 0a9.5 9.5 0 1 0 -19 0zM1220 1122.7a9.5 9.5 0 1 0 19 0a9.5 9.5 0 1 0 -19 0zM1220.5 1124a9.5 9.5 0 1 0 19 0a9.5 9.5 0 1 0 -19 0zM1221.1 1125.2a9.5 9.5 0 1 0 19 0a9.5 9.5 0 1 0 -19 0zM1221.6 1126.5a9.5 9.5 0 1 0 19 0a9.5 9.5 0 1 0 -19 0zM1222.1 1127.8a9.5 9.5 0 1 0 19 0a9.5 9.5 0 1 0 -19 0zM1222.7 1129a9.5 9.5 0 1 0 19 0a9.5 9.5 0 1 0 -19 0zM1223.2 1130.3a9.5 9.5 0 1 0 19 0a9.5 9.5 0 1 0 -19 0zM1223.8 1131.5a9.5 9.5 0 1 0 19 0a9.5 9.5 0 1 0 -19 0zM1224.3 1132.8a9.5 9.5 0 1 0 19 0a9.5 9.5 0 1 0 -19 0zM1224.8 1134a9.5 9.5 0 1 0 19 0a9.5 9.5 0 1 0 -19 0zM1225.4 1135.3a9.5 9.5 0 1 0 19 0a9.5 9.5 0 1 0 -19 0zM1226 1136.5a9.5 9.5 0 1 0 19 0a9.5 9.5 0 1 0 -19 0zM1226.5 1137.8a9.5 9.5 0 1 0 19 0a9.5 9.5 0 1 0 -19 0zM1227.1 1139a9.5 9.5 0 1 0 19 0a9.5 9.5 0 1 0 -19 0zM1227.6 1140.3a9.5 9.5 0 1 0 19 0a9.5 9.5 0 1 0 -19 0zM1228.2 1141.6a9.5 9.5 0 1 0 19 0a9.5 9.5 0 1 0 -19 0zM1228.8 1142.8a9.5 9.5 0 1 0 19 0a9.5 9.5 0 1 0 -19 0zM1229.3 1144.1a9.5 9.5 0 1 0 19 0a9.5 9.5 0 1 0 -19 0zM1229.9 1145.3a9.5 9.5 0 1 0 19 0a9.5 9.5 0 1 0 -19 0zM1230.5 1146.6a9.5 9.5 0 1 0 19 0a9.5 9.5 0 1 0 -19 0zM1231.1 1147.8a9.5 9.5 0 1 0 19 0a9.5 9.5 0 1 0 -19 0zM1231.7 1149.1a9.5 9.5 0 1 0 19 0a9.5 9.5 0 1 0 -19 0zM1232.3 1150.3a9.5 9.5 0 1 0 19 0a9.5 9.5 0 1 0 -19 0zM1232.9 1151.6a9.5 9.5 0 1 0 19 0a9.5 9.5 0 1 0 -19 0zM1233.5 1152.8a9.5 9.5 0 1 0 19 0a9.5 9.5 0 1 0 -19 0zM1234.1 1154.1a9.5 9.5 0 1 0 19 0a9.5 9.5 0 1 0 -19 0zM1234.7 1155.4a9.5 9.5 0 1 0 19 0a9.5 9.5 0 1 0 -19 0zM1235.3 1156.6a9.5 9.5 0 1 0 19 0a9.5 9.5 0 1 0 -19 0zM1236 1157.9a9.5 9.5 0 1 0 19 0a9.5 9.5 0 1 0 -19 0zM1236.6 1159.1a9.5 9.5 0 1 0 19 0a9.5 9.5 0 1 0 -19 0zM1237.2 1160.4a9.5 9.5 0 1 0 19 0a9.5 9.5 0 1 0 -19 0zM1237.8 1161.6a9.5 9.5 0 1 0 19 0a9.5 9.5 0 1 0 -19 0zM1238.5 1162.9a9.5 9.5 0 1 0 19 0a9.5 9.5 0 1 0 -19 0zM1239.1 1164.1a9.5 9.5 0 1 0 19 0a9.5 9.5 0 1 0 -19 0zM1239.8 1165.4a9.5 9.5 0 1 0 19 0a9.5 9.5 0 1 0 -19 0zM1240.4 1166.6a9.5 9.5 0 1 0 19 0a9.5 9.5 0 1 0 -19 0zM1241.1 1167.9a9.5 9.5 0 1 0 19 0a9.5 9.5 0 1 0 -19 0zM1241.7 1169.1a9.5 9.5 0 1 0 19 0a9.5 9.5 0 1 0 -19 0zM1242.4 1170.4a9.5 9.5 0 1 0 19 0a9.5 9.5 0 1 0 -19 0zM1243.1 1171.7a9.5 9.5 0 1 0 19 0a9.5 9.5 0 1 0 -19 0zM1243.8 1172.9a9.5 9.5 0 1 0 19 0a9.5 9.5 0 1 0 -19 0zM1244.4 1174.2a9.5 9.5 0 1 0 19 0a9.5 9.5 0 1 0 -19 0zM1245.1 1175.4a9.5 9.5 0 1 0 19 0a9.5 9.5 0 1 0 -19 0zM1245.8 1176.7a9.5 9.5 0 1 0 19 0a9.5 9.5 0 1 0 -19 0zM1246.5 1177.9a9.5 9.5 0 1 0 19 0a9.5 9.5 0 1 0 -19 0zM1247.2 1179.2a9.5 9.5 0 1 0 19 0a9.5 9.5 0 1 0 -19 0zM1247.9 1180.4a9.5 9.5 0 1 0 19 0a9.5 9.5 0 1 0 -19 0zM1248.6 1181.7a9.5 9.5 0 1 0 19 0a9.5 9.5 0 1 0 -19 0zM1249.3 1182.9a9.5 9.5 0 1 0 19 0a9.5 9.5 0 1 0 -19 0zM1250 1184.2a9.5 9.5 0 1 0 19 0a9.5 9.5 0 1 0 -19 0zM1250.7 1185.5a9.5 9.5 0 1 0 19 0a9.5 9.5 0 1 0 -19 0zM1251.5 1186.7a9.5 9.5 0 1 0 19 0a9.5 9.5 0 1 0 -19 0zM1252.2 1188a9.5 9.5 0 1 0 19 0a9.5 9.5 0 1 0 -19 0zM1252.9 1189.2a9.5 9.5 0 1 0 19 0a9.5 9.5 0 1 0 -19 0zM1253.7 1190.5a9.5 9.5 0 1 0 19 0a9.5 9.5 0 1 0 -19 0zM1254.4 1191.7a9.5 9.5 0 1 0 19 0a9.5 9.5 0 1 0 -19 0zM1255.1 1193a9.5 9.5 0 1 0 19 0a9.5 9.5 0 1 0 -19 0zM1255.9 1194.2a9.5 9.5 0 1 0 19 0a9.5 9.5 0 1 0 -19 0zM1256.6 1195.5a9.5 9.5 0 1 0 19 0a9.5 9.5 0 1 0 -19 0zM1257.4 1196.7a9.5 9.5 0 1 0 19 0a9.5 9.5 0 1 0 -19 0zM1258.1 1198a9.5 9.5 0 1 0 19 0a9.5 9.5 0 1 0 -19 0zM1258.9 1199.3a9.5 9.5 0 1 0 19 0a9.5 9.5 0 1 0 -19 0zM1259.7 1200.5a9.5 9.5 0 1 0 19 0a9.5 9.5 0 1 0 -19 0zM1260.4 1201.8a9.5 9.5 0 1 0 19 0a9.5 9.5 0 1 0 -19 0zM1261.2 1203a9.5 9.5 0 1 0 19 0a9.5 9.5 0 1 0 -19 0zM1262 1204.3a9.5 9.5 0 1 0 19 0a9.5 9.5 0 1 0 -19 0zM1262.8 1205.5a9.5 9.5 0 1 0 19 0a9.5 9.5 0 1 0 -19 0zM1263.6 1206.8a9.5 9.5 0 1 0 19 0a9.5 9.5 0 1 0 -19 0zM1264.4 1208a9.5 9.5 0 1 0 19 0a9.5 9.5 0 1 0 -19 0zM1265.1 1209.3a9.5 9.5 0 1 0 19 0a9.5 9.5 0 1 0 -19 0zM1265.9 1210.5a9.5 9.5 0 1 0 19 0a9.5 9.5 0 1 0 -19 0zM1266.7 1211.8a9.5 9.5 0 1 0 19 0a9.5 9.5 0 1 0 -19 0zM1267.6 1213.1a9.5 9.5 0 1 0 19 0a9.5 9.5 0 1 0 -19 0zM1268.4 1214.3a9.5 9.5 0 1 0 19 0a9.5 9.5 0 1 0 -19 0zM1269.2 1215.6a9.5 9.5 0 1 0 19 0a9.5 9.5 0 1 0 -19 0zM1270 1216.8a9.5 9.5 0 1 0 19 0a9.5 9.5 0 1 0 -19 0zM1270.8 1218.1a9.5 9.5 0 1 0 19 0a9.5 9.5 0 1 0 -19 0zM1271.6 1219.3a9.5 9.5 0 1 0 19 0a9.5 9.5 0 1 0 -19 0zM1272.5 1220.6a9.5 9.5 0 1 0 19 0a9.5 9.5 0 1 0 -19 0zM1273.3 1221.8a9.5 9.5 0 1 0 19 0a9.5 9.5 0 1 0 -19 0zM1274.1 1223.1a9.5 9.5 0 1 0 19 0a9.5 9.5 0 1 0 -19 0zM1275 1224.3a9.5 9.5 0 1 0 19 0a9.5 9.5 0 1 0 -19 0zM1275.8 1225.6a9.5 9.5 0 1 0 19 0a9.5 9.5 0 1 0 -19 0zM1276.7 1226.8a9.5 9.5 0 1 0 19 0a9.5 9.5 0 1 0 -19 0zM1277.5 1228.1a9.5 9.5 0 1 0 19 0a9.5 9.5 0 1 0 -19 0zM1278.4 1229.4a9.5 9.5 0 1 0 19 0a9.5 9.5 0 1 0 -19 0zM1279.2 1230.6a9.5 9.5 0 1 0 19 0a9.5 9.5 0 1 0 -19 0zM1280.1 1231.9a9.5 9.5 0 1 0 19 0a9.5 9.5 0 1 0 -19 0zM1281 1233.1a9.5 9.5 0 1 0 19 0a9.5 9.5 0 1 0 -19 0zM1281.8 1234.4a9.5 9.5 0 1 0 19 0a9.5 9.5 0 1 0 -19 0zM1282.7 1235.6a9.5 9.5 0 1 0 19 0a9.5 9.5 0 1 0 -19 0zM1283.6 1236.9a9.5 9.5 0 1 0 19 0a9.5 9.5 0 1 0 -19 0zM1284.5 1238.1a9.5 9.5 0 1 0 19 0a9.5 9.5 0 1 0 -19 0zM1285.3 1239.4a9.5 9.5 0 1 0 19 0a9.5 9.5 0 1 0 -19 0zM1286.2 1240.6a9.5 9.5 0 1 0 19 0a9.5 9.5 0 1 0 -19 0zM1287.1 1241.9a9.5 9.5 0 1 0 19 0a9.5 9.5 0 1 0 -19 0zM1288 1243.2a9.5 9.5 0 1 0 19 0a9.5 9.5 0 1 0 -19 0zM1288.9 1244.4a9.5 9.5 0 1 0 19 0a9.5 9.5 0 1 0 -19 0zM1289.8 1245.7a9.5 9.5 0 1 0 19 0a9.5 9.5 0 1 0 -19 0zM1290.7 1246.9a9.5 9.5 0 1 0 19 0a9.5 9.5 0 1 0 -19 0zM1291.6 1248.2a9.5 9.5 0 1 0 19 0a9.5 9.5 0 1 0 -19 0zM1292.5 1249.4a9.5 9.5 0 1 0 19 0a9.5 9.5 0 1 0 -19 0zM1293.4 1250.7a9.5 9.5 0 1 0 19 0a9.5 9.5 0 1 0 -19 0zM1294.3 1251.9a9.5 9.5 0 1 0 19 0a9.5 9.5 0 1 0 -19 0zM1295.3 1253.2a9.5 9.5 0 1 0 19 0a9.5 9.5 0 1 0 -19 0zM1296.2 1254.4a9.5 9.5 0 1 0 19 0a9.5 9.5 0 1 0 -19 0zM1297.1 1255.7a9.5 9.5 0 1 0 19 0a9.5 9.5 0 1 0 -19 0zM1298 1257a9.5 9.5 0 1 0 19 0a9.5 9.5 0 1 0 -19 0zM1299 1258.2a9.5 9.5 0 1 0 19 0a9.5 9.5 0 1 0 -19 0zM1299.9 1259.5a9.5 9.5 0 1 0 19 0a9.5 9.5 0 1 0 -19 0zM1300.8 1260.7a9.5 9.5 0 1 0 19 0a9.5 9.5 0 1 0 -19 0zM1301.8 1262a9.5 9.5 0 1 0 19 0a9.5 9.5 0 1 0 -19 0zM1302.7 1263.2a9.5 9.5 0 1 0 19 0a9.5 9.5 0 1 0 -19 0zM1303.6 1264.5a9.5 9.5 0 1 0 19 0a9.5 9.5 0 1 0 -19 0zM1304.6 1265.7a9.5 9.5 0 1 0 19 0a9.5 9.5 0 1 0 -19 0zM1305.5 1267a9.5 9.5 0 1 0 19 0a9.5 9.5 0 1 0 -19 0zM1306.5 1268.2a9.5 9.5 0 1 0 19 0a9.5 9.5 0 1 0 -19 0zM1307.4 1269.5a9.5 9.5 0 1 0 19 0a9.5 9.5 0 1 0 -19 0zM1308.4 1270.8a9.5 9.5 0 1 0 19 0a9.5 9.5 0 1 0 -19 0zM1309.4 1272a9.5 9.5 0 1 0 19 0a9.5 9.5 0 1 0 -19 0zM1310.3 1273.3a9.5 9.5 0 1 0 19 0a9.5 9.5 0 1 0 -19 0zM1311.3 1274.5a9.5 9.5 0 1 0 19 0a9.5 9.5 0 1 0 -19 0zM1312.3 1275.8a9.5 9.5 0 1 0 19 0a9.5 9.5 0 1 0 -19 0zM1313.2 1277a9.5 9.5 0 1 0 19 0a9.5 9.5 0 1 0 -19 0zM1314.2 1278.3a9.5 9.5 0 1 0 19 0a9.5 9.5 0 1 0 -19 0zM1315.2 1279.5a9.5 9.5 0 1 0 19 0a9.5 9.5 0 1 0 -19 0zM1316.2 1280.8a9.5 9.5 0 1 0 19 0a9.5 9.5 0 1 0 -19 0zM1317.1 1282a9.5 9.5 0 1 0 19 0a9.5 9.5 0 1 0 -19 0zM1318.1 1283.3a9.5 9.5 0 1 0 19 0a9.5 9.5 0 1 0 -19 0zM1319.1 1284.5a9.5 9.5 0 1 0 19 0a9.5 9.5 0 1 0 -19 0zM1320.1 1285.8a9.5 9.5 0 1 0 19 0a9.5 9.5 0 1 0 -19 0zM1321.1 1287.1a9.5 9.5 0 1 0 19 0a9.5 9.5 0 1 0 -19 0zM1322.1 1288.3a9.5 9.5 0 1 0 19 0a9.5 9.5 0 1 0 -19 0zM1323.1 1289.6a9.5 9.5 0 1 0 19 0a9.5 9.5 0 1 0 -19 0zM1324.1 1290.8a9.5 9.5 0 1 0 19 0a9.5 9.5 0 1 0 -19 0zM1325.1 1292.1a9.5 9.5 0 1 0 19 0a9.5 9.5 0 1 0 -19 0zM1326 1293.3a9.5 9.5 0 1 0 19 0a9.5 9.5 0 1 0 -19 0zM1327 1294.6a9.5 9.5 0 1 0 19 0a9.5 9.5 0 1 0 -19 0zM1328.1 1295.8a9.5 9.5 0 1 0 19 0a9.5 9.5 0 1 0 -19 0zM1329.1 1297.1a9.5 9.5 0 1 0 19 0a9.5 9.5 0 1 0 -19 0zM1330.1 1298.3a9.5 9.5 0 1 0 19 0a9.5 9.5 0 1 0 -19 0zM1331.1 1299.6a9.5 9.5 0 1 0 19 0a9.5 9.5 0 1 0 -19 0zM1332.1 1300.9a9.5 9.5 0 1 0 19 0a9.5 9.5 0 1 0 -19 0zM1333.1 1302.1a9.5 9.5 0 1 0 19 0a9.5 9.5 0 1 0 -19 0zM1334.1 1303.4a9.5 9.5 0 1 0 19 0a9.5 9.5 0 1 0 -19 0zM1335.1 1304.6a9.5 9.5 0 1 0 19 0a9.5 9.5 0 1 0 -19 0zM1336.1 1305.9a9.5 9.5 0 1 0 19 0a9.5 9.5 0 1 0 -19 0zM1337.2 1307.1a9.5 9.5 0 1 0 19 0a9.5 9.5 0 1 0 -19 0zM1338.2 1308.4a9.5 9.5 0 1 0 19 0a9.5 9.5 0 1 0 -19 0zM1339.2 1309.6a9.5 9.5 0 1 0 19 0a9.5 9.5 0 1 0 -19 0zM1340.2 1310.9a9.5 9.5 0 1 0 19 0a9.5 9.5 0 1 0 -19 0zM1341.2 1312.1a9.5 9.5 0 1 0 19 0a9.5 9.5 0 1 0 -19 0zM1342.3 1313.4a9.5 9.5 0 1 0 19 0a9.5 9.5 0 1 0 -19 0zM1343.3 1314.7a9.5 9.5 0 1 0 19 0a9.5 9.5 0 1 0 -19 0zM1344.3 1315.9a9.5 9.5 0 1 0 19 0a9.5 9.5 0 1 0 -19 0zM1345.3 1317.2a9.5 9.5 0 1 0 19 0a9.5 9.5 0 1 0 -19 0zM1346.4 1318.4a9.5 9.5 0 1 0 19 0a9.5 9.5 0 1 0 -19 0zM1347.4 1319.7a9.5 9.5 0 1 0 19 0a9.5 9.5 0 1 0 -19 0zM1348.4 1320.9a9.5 9.5 0 1 0 19 0a9.5 9.5 0 1 0 -19 0zM1349.5 1322.2a9.5 9.5 0 1 0 19 0a9.5 9.5 0 1 0 -19 0zM1350.5 1323.4a9.5 9.5 0 1 0 19 0a9.5 9.5 0 1 0 -19 0zM1351.5 1324.7a9.5 9.5 0 1 0 19 0a9.5 9.5 0 1 0 -19 0zM1352.6 1325.9a9.5 9.5 0 1 0 19 0a9.5 9.5 0 1 0 -19 0zM1353.6 1327.2a9.5 9.5 0 1 0 19 0a9.5 9.5 0 1 0 -19 0zM1354.6 1328.5a9.5 9.5 0 1 0 19 0a9.5 9.5 0 1 0 -19 0zM1355.7 1329.7a9.5 9.5 0 1 0 19 0a9.5 9.5 0 1 0 -19 0zM1356.6 1330.8a9.5 9.5 0 1 0 19 0a9.5 9.5 0 1 0 -19 0zM1357.5 1331.9a9.5 9.5 0 1 0 19 0a9.5 9.5 0 1 0 -19 0zM382.7 582.5a9.5 9.5 0 1 0 19 0a9.5 9.5 0 1 0 -19 0zM459.5 585a9.5 9.5 0 1 0 19 0a9.5 9.5 0 1 0 -19 0zM482.8 580.2a9.5 9.5 0 1 0 19 0a9.5 9.5 0 1 0 -19 0zM523 587.6a9.5 9.5 0 1 0 19 0a9.5 9.5 0 1 0 -19 0zM525.9 577.8a9.5 9.5 0 1 0 19 0a9.5 9.5 0 1 0 -19 0zM531.5 574.9a9.5 9.5 0 1 0 19 0a9.5 9.5 0 1 0 -19 0zM538.2 571.1a9.5 9.5 0 1 0 19 0a9.5 9.5 0 1 0 -19 0zM569.5 569.2a9.5 9.5 0 1 0 19 0a9.5 9.5 0 1 0 -19 0zM600.4 567.3a9.5 9.5 0 1 0 19 0a9.5 9.5 0 1 0 -19 0zM631.1 565.1a9.5 9.5 0 1 0 19 0a9.5 9.5 0 1 0 -19 0zM651 562.6a9.5 9.5 0 1 0 19 0a9.5 9.5 0 1 0 -19 0zM671.9 559.7a9.5 9.5 0 1 0 19 0a9.5 9.5 0 1 0 -19 0zM690.9 557.5a9.5 9.5 0 1 0 19 0a9.5 9.5 0 1 0 -19 0zM707 555.4a9.5 9.5 0 1 0 19 0a9.5 9.5 0 1 0 -19 0zM564.7 589.7a9.5 9.5 0 1 0 19 0a9.5 9.5 0 1 0 -19 0zM599.8 592.6a9.5 9.5 0 1 0 19 0a9.5 9.5 0 1 0 -19 0zM628.3 594.8a9.5 9.5 0 1 0 19 0a9.5 9.5 0 1 0 -19 0zM656.7 597.3a9.5 9.5 0 1 0 19 0a9.5 9.5 0 1 0 -19 0zM677.6 600.1a9.5 9.5 0 1 0 19 0a9.5 9.5 0 1 0 -19 0zM695.6 602.4a9.5 9.5 0 1 0 19 0a9.5 9.5 0 1 0 -19 0zM712.7 604.7a9.5 9.5 0 1 0 19 0a9.5 9.5 0 1 0 -19 0zM969.5 243.5a9.5 9.5 0 1 0 19 0a9.5 9.5 0 1 0 -19 0zM997.3 695.5a9.5 9.5 0 1 0 19 0a9.5 9.5 0 1 0 -19 0zM1166.5 242.5a9.5 9.5 0 1 0 19 0a9.5 9.5 0 1 0 -19 0zM1162.5 240a9.5 9.5 0 1 0 19 0a9.5 9.5 0 1 0 -19 0zM1168.5 237.5a9.5 9.5 0 1 0 19 0a9.5 9.5 0 1 0 -19 0zM1172.5 235a9.5 9.5 0 1 0 19 0a9.5 9.5 0 1 0 -19 0zM1170.5 232.5a9.5 9.5 0 1 0 19 0a9.5 9.5 0 1 0 -19 0zM1185.5 230a9.5 9.5 0 1 0 19 0a9.5 9.5 0 1 0 -19 0zM1193 227.5a9.5 9.5 0 1 0 19 0a9.5 9.5 0 1 0 -19 0zM1185.5 247a9.5 9.5 0 1 0 19 0a9.5 9.5 0 1 0 -19 0zM1214.3 226.3a9.5 9.5 0 1 0 19 0a9.5 9.5 0 1 0 -19 0z"/>
<path fill="#00FF73" d="M903.8 662.9l11.8 20.6h-23.6zM915.2 660.4l11.8 20.6h-23.6zM926.9 657.9l11.8 20.6h-23.6zM938.9 655.4l11.8 20.6h-23.6zM951 652.9l11.8 20.6h-23.6zM963.2 650.3l11.8 20.6h-23.6zM975.3 647.8l11.8 20.6h-23.6zM987.3 645.3l11.8 20.6h-23.6zM999.1 642.8l11.8 20.6h-23.6zM1010.6 640.3l11.8 20.6h-23.6zM1021.9 637.8l11.8 20.6h-23.6zM1032.9 635.3l11.8 20.6h-23.6zM1043.6 632.8l11.8 20.6h-23.6zM1054.1 630.3l11.8 20.6h-23.6zM1064.4 627.8l11.8 20.6h-23.6zM1074.4 625.3l11.8 20.6h-23.6zM1084.2 622.8l11.8 20.6h-23.6zM1093.8 620.2l11.8 20.6h-23.6zM1103.2 617.7l11.8 20.6h-23.6zM1112.4 615.2l11.8 20.6h-23.6zM1121.4 612.7l11.8 20.6h-23.6zM1130.2 610.2l11.8 20.6h-23.6zM1138.9 607.7l11.8 20.6h-23.6zM1147.3 605.2l11.8 20.6h-23.6zM1155.7 602.7l11.8 20.6h-23.6zM1163.8 600.2l11.8 20.6h-23.6zM1171.8 597.7l11.8 20.6h-23.6zM1179.6 595.2l11.8 20.6h-23.6zM1187.3 592.6l11.8 20.6h-23.6zM1194.9 590.1l11.8 20.6h-23.6zM1202.3 587.6l11.8 20.6h-23.6zM1209.6 585.1l11.8 20.6h-23.6zM1216.8 582.6l11.8 20.6h-23.6zM1223.9 580.1l11.8 20.6h-23.6zM1230.8 577.6l11.8 20.6h-23.6zM1237.6 575.1l11.8 20.6h-23.6zM1244.4 572.6l11.8 20.6h-23.6zM1251 570.1l11.8 20.6h-23.6zM1257.5 567.6l11.8 20.6h-23.6zM1263.9 565.1l11.8 20.6h-23.6zM1270.2 562.5l11.8 20.6h-23.6zM1276.5 560l11.8 20.6h-23.6zM1282.6 557.5l11.8 20.6h-23.6zM1288.7 555l11.8 20.6h-23.6zM1294.7 552.5l11.8 20.6h-23.6zM1300.6 550l11.8 20.6h-23.6zM1306.4 547.5l11.8 20.6h-23.6zM1312.2 545l11.8 20.6h-23.6zM1317.8 542.5l11.8 20.6h-23.6zM1323.4 540l11.8 20.6h-23.6zM1329 537.5l11.8 20.6h-23.6zM1334.4 534.9l11.8 20.6h-23.6zM1339.8 532.4l11.8 20.6h-23.6zM1345.2 529.9l11.8 20.6h-23.6zM1350.5 527.4l11.8 20.6h-23.6zM1355.7 524.9l11.8 20.6h-23.6zM1360.8 522.4l11.8 20.6h-23.6zM1365.9 519.9l11.8 20.6h-23.6zM1371 517.4l11.8 20.6h-23.6zM1375.9 514.9l11.8 20.6h-23.6zM1380.9 512.4l11.8 20.6h-23.6zM1385.7 509.9l11.8 20.6h-23.6zM1390.6 507.4l11.8 20.6h-23.6zM1395.3 504.8l11.8 20.6h-23.6zM1400 502.3l11.8 20.6h-23.6zM1404.7 499.8l11.8 20.6h-23.6zM1409.3 497.3l11.8 20.6h-23.6zM1413.9 494.8l11.8 20.6h-23.6zM1418.4 492.3l11.8 20.6h-23.6zM1422.9 489.8l11.8 20.6h-23.6zM1427.3 487.3l11.8 20.6h-23.6zM1431.7 484.8l11.8 20.6h-23.6zM1436.1 482.3l11.8 20.6h-23.6zM1438.2 481l11.8 20.6h-23.6zM1440.4 479.8l11.8 20.6h-23.6zM1442.5 478.5l11.8 20.6h-23.6zM1444.7 477.3l11.8 20.6h-23.6zM1446.8 476l11.8 20.6h-23.6zM1448.9 474.7l11.8 20.6h-23.6zM1451 473.5l11.8 20.6h-23.6zM1453.1 472.2l11.8 20.6h-23.6zM1455.1 471l11.8 20.6h-23.6zM1457.2 469.7l11.8 20.6h-23.6zM1459.3 468.5l11.8 20.6h-23.6zM1461.3 467.2l11.8 20.6h-23.6zM1463.3 466l11.8 20.6h-23.6zM1465.4 464.7l11.8 20.6h-23.6zM1467.4 463.5l11.8 20.6h-23.6zM1469.4 462.2l11.8 20.6h-23.6zM1471.4 460.9l11.8 20.6h-23.6zM1473.4 459.7l11.8 20.6h-23.6zM1475.4 458.4l11.8 20.6h-23.6zM1477.3 457.2l11.8 20.6h-23.6zM1479.3 455.9l11.8 20.6h-23.6zM1481.3 454.7l11.8 20.6h-23.6zM1483.2 453.4l11.8 20.6h-23.6zM1485.1 452.2l11.8 20.6h-23.6zM1487.1 450.9l11.8 20.6h-23.6zM1489 449.7l11.8 20.6h-23.6zM1490.9 448.4l11.8 20.6h-23.6zM1492.8 447.1l11.8 20.6h-23.6zM1494.7 445.9l11.8 20.6h-23.6zM1496.6 444.6l11.8 20.6h-23.6zM1498.5 443.4l11.8 20.6h-23.6zM1500.3 442.1l11.8 20.6h-23.6zM1502.2 440.9l11.8 20.6h-23.6zM1504.1 439.6l11.8 20.6h-23.6zM1505.9 438.4l11.8 20.6h-23.6zM1507.7 437.1l11.8 20.6h-23.6zM1509.6 435.9l11.8 20.6h-23.6zM1511.4 434.6l11.8 20.6h-23.6zM1513.2 433.3l11.8 20.6h-23.6zM1515 432.1l11.8 20.6h-23.6zM1516.8 430.8l11.8 20.6h-23.6zM1518.6 429.6l11.8 20.6h-23.6zM1520.4 428.3l11.8 20.6h-23.6zM1522.1 427.1l11.8 20.6h-23.6zM1523.9 425.8l11.8 20.6h-23.6zM1525.7 424.6l11.8 20.6h-23.6zM1527.4 423.3l11.8 20.6h-23.6zM1529.2 422.1l11.8 20.6h-23.6zM1530.9 420.8l11.8 20.6h-23.6zM1532.6 419.6l11.8 20.6h-23.6zM1534.4 418.3l11.8 20.6h-23.6zM1536.1 417l11.8 20.6h-23.6zM1537.8 415.8l11.8 20.6h-23.6zM1539.5 414.5l11.8 20.6h-23.6zM1541.2 413.3l11.8 20.6h-23.6zM1542.9 412l11.8 20.6h-23.6zM1544.6 410.8l11.8 20.6h-23.6zM1546.2 409.5l11.8 20.6h-23.6zM1547.9 408.3l11.8 20.6h-23.6zM1549.6 407l11.8 20.6h-23.6zM1551.2 405.8l11.8 20.6h-23.6zM1552.9 404.5l11.8 20.6h-23.6zM1554.5 403.2l11.8 20.6h-23.6zM1556.1 402l11.8 20.6h-23.6zM1557.8 400.7l11.8 20.6h-23.6zM1559.4 399.5l11.8 20.6h-23.6zM1561 398.2l11.8 20.6h-23.6zM1562.6 397l11.8 20.6h-23.6zM1564.2 395.7l11.8 20.6h-23.6zM1565.8 394.5l11.8 20.6h-23.6zM1567.4 393.2l11.8 20.6h-23.6zM1569 392l11.8 20.6h-23.6zM1570.6 390.7l11.8 20.6h-23.6zM1572.1 389.4l11.8 20.6h-23.6zM1573.7 388.2l11.8 20.6h-23.6zM1575.2 386.9l11.8 20.6h-23.6zM1576.8 385.7l11.8 20.6h-23.6zM1578.3 384.4l11.8 20.6h-23.6zM1579.9 383.2l11.8 20.6h-23.6zM1581.4 381.9l11.8 20.6h-23.6zM1582.9 380.7l11.8 20.6h-23.6zM1584.5 379.4l11.8 20.6h-23.6zM1586 378.2l11.8 20.6h-23.6zM1587.5 376.9l11.8 20.6h-23.6zM1589 375.6l11.8 20.6h-23.6zM1590.5 374.4l11.8 20.6h-23.6zM1592 373.1l11.8 20.6h-23.6zM1593.5 371.9l11.8 20.6h-23.6zM1594.9 370.6l11.8 20.6h-23.6zM1596.4 369.4l11.8 20.6h-23.6zM1597.9 368.1l11.8 20.6h-23.6zM1599.3 366.9l11.8 20.6h-23.6zM1600.8 365.6l11.8 20.6h-23.6zM1602.3 364.4l11.8 20.6h-23.6zM1603.7 363.1l11.8 20.6h-23.6zM1605.1 361.9l11.8 20.6h-23.6zM1606.6 360.6l11.8 20.6h-23.6zM1608 359.3l11.8 20.6h-23.6zM1609.4 358.1l11.8 20.6h-23.6zM1610.9 356.8l11.8 20.6h-23.6zM1612.3 355.6l11.8 20.6h-23.6zM1613.7 354.3l11.8 20.6h-23.6zM1615.1 353.1l11.8 20.6h-23.6zM1616.5 351.8l11.8 20.6h-23.6zM1617.9 350.6l11.8 20.6h-23.6zM1619.3 349.3l11.8 20.6h-23.6zM1620.6 348.1l11.8 20.6h-23.6zM1622 346.8l11.8 20.6h-23.6zM1623.4 345.5l11.8 20.6h-23.6zM1624.7 344.3l11.8 20.6h-23.6zM1625.8 343.3l11.8 20.6h-23.6zM1626.8 342.4l11.8 20.6h-23.6zM866.4 729.1l11.8 20.6h-23.6zM872.4 731.6l11.8 20.6h-23.6zM878.6 734.1l11.8 20.6h-23.6zM885 736.6l11.8 20.6h-23.6zM891.5 739.1l11.8 20.6h-23.6zM897.9 741.7l11.8 20.6h-23.6zM904.2 744.2l11.8 20.6h-23.6zM910.3 746.7l11.8 20.6h-23.6zM916.1 749.2l11.8 20.6h-23.6zM921.7 751.7l11.8 20.6h-23.6zM926.9 754.2l11.8 20.6h-23.6zM931.8 756.7l11.8 20.6h-23.6zM936.4 759.2l11.8 20.6h-23.6zM938.6 760.5l11.8 20.6h-23.6zM940.7 761.7l11.8 20.6h-23.6zM942.7 763l11.8 20.6h-23.6zM944.7 764.2l11.8 20.6h-23.6zM946.6 765.5l11.8 20.6h-23.6zM948.4 766.7l11.8 20.6h-23.6zM950.1 768l11.8 20.6h-23.6zM951.8 769.2l11.8 20.6h-23.6zM953.4 770.5l11.8 20.6h-23.6zM955 771.8l11.8 20.6h-23.6zM956.4 773l11.8 20.6h-23.6zM957.9 774.3l11.8 20.6h-23.6zM959.3 775.5l11.8 20.6h-23.6zM960.6 776.8l11.8 20.6h-23.6zM961.8 778l11.8 20.6h-23.6zM963 779.3l11.8 20.6h-23.6zM964.2 780.5l11.8 20.6h-23.6zM965.3 781.8l11.8 20.6h-23.6zM966.4 783l11.8 20.6h-23.6zM967.4 784.3l11.8 20.6h-23.6zM968.4 785.6l11.8 20.6h-23.6zM969.3 786.8l11.8 20.6h-23.6zM970.2 788.1l11.8 20.6h-23.6zM971.1 789.3l11.8 20.6h-23.6zM971.9 790.6l11.8 20.6h-23.6zM972.7 791.8l11.8 20.6h-23.6zM973.5 793.1l11.8 20.6h-23.6zM974.3 794.3l11.8 20.6h-23.6zM975 795.6l11.8 20.6h-23.6zM975.7 796.8l11.8 20.6h-23.6zM976.3 798.1l11.8 20.6h-23.6zM977 799.4l11.8 20.6h-23.6zM977.6 800.6l11.8 20.6h-23.6zM978.2 801.9l11.8 20.6h-23.6zM978.8 803.1l11.8 20.6h-23.6zM979.4 804.4l11.8 20.6h-23.6zM979.9 805.6l11.8 20.6h-23.6zM980.5 806.9l11.8 20.6h-23.6zM981 808.1l11.8 20.6h-23.6zM981.5 809.4l11.8 20.6h-23.6zM982 810.6l11.8 20.6h-23.6zM982.4 811.9l11.8 20.6h-23.6zM982.9 813.1l11.8 20.6h-23.6zM983.3 814.4l11.8 20.6h-23.6zM983.8 815.7l11.8 20.6h-23.6zM984.2 816.9l11.8 20.6h-23.6zM984.6 818.2l11.8 20.6h-23.6zM985 819.4l11.8 20.6h-23.6zM985.4 820.7l11.8 20.6h-23.6zM985.8 821.9l11.8 20.6h-23.6zM986.1 823.2l11.8 20.6h-23.6zM986.5 824.4l11.8 20.6h-23.6zM986.8 825.7l11.8 20.6h-23.6zM987.2 826.9l11.8 20.6h-23.6zM987.5 828.2l11.8 20.6h-23.6zM987.8 829.5l11.8 20.6h-23.6zM988.2 830.7l11.8 20.6h-23.6zM988.5 832l11.8 20.6h-23.6zM988.8 833.2l11.8 20.6h-23.6zM989.1 834.5l11.8 20.6h-23.6zM989.4 835.7l11.8 20.6h-23.6zM989.6 837l11.8 20.6h-23.6zM989.9 838.2l11.8 20.6h-23.6zM990.2 839.5l11.8 20.6h-23.6zM990.5 840.7l11.8 20.6h-23.6zM990.7 842l11.8 20.6h-23.6zM991 843.3l11.8 20.6h-23.6zM991.2 844.5l11.8 20.6h-23.6zM991.5 845.8l11.8 20.6h-23.6zM991.7 847l11.8 20.6h-23.6zM992 848.3l11.8 20.6h-23.6zM992.2 849.5l11.8 20.6h-23.6zM992.4 850.8l11.8 20.6h-23.6zM992.7 852l11.8 20.6h-23.6zM992.9 853.3l11.8 20.6h-23.6zM993.1 854.5l11.8 20.6h-23.6zM993.3 855.8l11.8 20.6h-23.6zM993.5 857.1l11.8 20.6h-23.6zM993.8 858.3l11.8 20.6h-23.6zM994 859.6l11.8 20.6h-23.6zM994.2 860.8l11.8 20.6h-23.6zM994.4 862.1l11.8 20.6h-23.6zM994.6 863.3l11.8 20.6h-23.6zM994.8 864.6l11.8 20.6h-23.6zM995 865.8l11.8 20.6h-23.6zM995.2 867.1l11.8 20.6h-23.6zM995.4 868.3l11.8 20.6h-23.6zM995.6 869.6l11.8 20.6h-23.6zM995.8 870.8l11.8 20.6h-23.6zM995.9 872.1l11.8 20.6h-23.6zM996.1 873.4l11.8 20.6h-23.6zM996.3 874.6l11.8 20.6h-23.6zM996.5 875.9l11.8 20.6h-23.6zM996.7 877.1l11.8 20.6h-23.6zM996.9 878.4l11.8 20.6h-23.6zM997 879.6l11.8 20.6h-23.6zM997.2 880.9l11.8 20.6h-23.6zM997.4 882.1l11.8 20.6h-23.6zM997.6 883.4l11.8 20.6h-23.6zM997.7 884.6l11.8 20.6h-23.6zM997.9 885.9l11.8 20.6h-23.6zM998.1 887.2l11.8 20.6h-23.6zM998.3 888.4l11.8 20.6h-23.6zM998.4 889.7l11.8 20.6h-23.6zM998.6 890.9l11.8 20.6h-23.6zM998.8 892.2l11.8 20.6h-23.6zM998.9 893.4l11.8 20.6h-23.6zM999.1 894.7l11.8 20.6h-23.6zM999.3 895.9l11.8 20.6h-23.6zM999.4 897.2l11.8 20.6h-23.6zM999.6 898.4l11.8 20.6h-23.6zM999.8 899.7l11.8 20.6h-23.6zM999.9 901l11.8 20.6h-23.6zM1000.1 902.2l11.8 20.6h-23.6zM1000.3 903.5l11.8 20.6h-23.6zM1000.4 904.7l11.8 20.6h-23.6zM1000.6 906l11.8 20.6h-23.6zM1000.8 907.2l11.8 20.6h-23.6zM1001 908.5l11.8 20.6h-23.6zM1001.1 909.7l11.8 20.6h-23.6zM1001.3 911l11.8 20.6h-23.6zM1001.5 912.2l11.8 20.6h-23.6zM1001.6 913.5l11.8 20.6h-23.6zM1001.8 914.7l11.8 20.6h-23.6zM1002 916l11.8 20.6h-23.6zM1002.2 917.3l11.8 20.6h-23.6zM1002.4 918.5l11.8 20.6h-23.6zM1002.5 919.8l11.8 20.6h-23.6zM1002.7 921l11.8 20.6h-23.6zM1002.9 922.3l11.8 20.6h-23.6zM1003.1 923.5l11.8 20.6h-23.6zM1003.3 924.8l11.8 20.6h-23.6zM1003.5 926l11.8 20.6h-23.6zM1003.7 927.3l11.8 20.6h-23.6zM1003.9 928.5l11.8 20.6h-23.6zM1004 929.8l11.8 20.6h-23.6zM1004.2 931.1l11.8 20.6h-23.6zM1004.4 932.3l11.8 20.6h-23.6zM1004.6 933.6l11.8 20.6h-23.6zM1004.9 934.8l11.8 20.6h-23.6zM1005.1 936.1l11.8 20.6h-23.6zM1005.3 937.3l11.8 20.6h-23.6zM1005.5 938.6l11.8 20.6h-23.6zM1005.7 939.8l11.8 20.6h-23.6zM1005.9 941.1l11.8 20.6h-23.6zM1006.1 942.3l11.8 20.6h-23.6zM1006.3 943.6l11.8 20.6h-23.6zM1006.5 944.9l11.8 20.6h-23.6zM1006.7 946.1l11.8 20.6h-23.6zM1007 947.4l11.8 20.6h-23.6zM1007.2 948.6l11.8 20.6h-23.6zM1007.4 949.9l11.8 20.6h-23.6zM1007.6 951.1l11.8 20.6h-23.6zM1007.8 952.4l11.8 20.6h-23.6zM1008 953.6l11.8 20.6h-23.6zM1008.2 954.9l11.8 20.6h-23.6zM1008.4 956.1l11.8 20.6h-23.6zM1008.6 957.4l11.8 20.6h-23.6zM1008.8 958.7l11.8 20.6h-23.6zM1009 959.9l11.8 20.6h-23.6zM1009.3 961.2l11.8 20.6h-23.6zM1009.5 962.4l11.8 20.6h-23.6zM1009.6 963.7l11.8 20.6h-23.6zM1009.8 964.9l11.8 20.6h-23.6zM1010 966.2l11.8 20.6h-23.6zM1010.2 967.4l11.8 20.6h-23.6zM1010.4 968.7l11.8 20.6h-23.6zM1010.6 969.9l11.8 20.6h-23.6zM1010.8 971.2l11.8 20.6h-23.6zM1011 972.4l11.8 20.6h-23.6zM1011.1 973.7l11.8 20.6h-23.6zM1011.3 975l11.8 20.6h-23.6zM1011.5 976.2l11.8 20.6h-23.6zM1011.7 977.5l11.8 20.6h-23.6zM1011.8 978.7l11.8 20.6h-23.6zM1012 980l11.8 20.6h-23.6zM1012.1 981.2l11.8 20.6h-23.6zM1012.3 982.5l11.8 20.6h-23.6zM1012.4 983.7l11.8 20.6h-23.6zM1012.6 985l11.8 20.6h-23.6zM1012.7 986.2l11.8 20.6h-23.6zM1012.9 987.5l11.8 20.6h-23.6zM1013 988.8l11.8 20.6h-23.6zM1013.2 990l11.8 20.6h-23.6zM1013.3 991.3l11.8 20.6h-23.6zM1013.5 992.5l11.8 20.6h-23.6zM1013.6 993.8l11.8 20.6h-23.6zM1013.7 995l11.8 20.6h-23.6zM1013.9 996.3l11.8 20.6h-23.6zM1014 997.5l11.8 20.6h-23.6zM1014.2 998.8l11.8 20.6h-23.6zM1014.3 1000l11.8 20.6h-23.6zM1014.4 1001.3l11.8 20.6h-23.6zM1014.6 1002.6l11.8 20.6h-23.6zM1014.7 1003.8l11.8 20.6h-23.6zM1014.9 1005.1l11.8 20.6h-23.6zM1015 1006.3l11.8 20.6h-23.6zM1015.2 1007.6l11.8 20.6h-23.6zM1015.3 1008.8l11.8 20.6h-23.6zM1015.5 1010.1l11.8 20.6h-23.6zM1015.6 1011.3l11.8 20.6h-23.6zM1015.8 1012.6l11.8 20.6h-23.6zM1016 1013.8l11.8 20.6h-23.6zM1016.1 1015.1l11.8 20.6h-23.6zM1016.3 1016.4l11.8 20.6h-23.6zM1016.5 1017.6l11.8 20.6h-23.6zM1016.6 1018.9l11.8 20.6h-23.6zM1016.8 1020.1l11.8 20.6h-23.6zM1017 1021.4l11.8 20.6h-23.6zM1017.2 1022.6l11.8 20.6h-23.6zM1017.4 1023.9l11.8 20.6h-23.6zM1017.6 1025.1l11.8 20.6h-23.6zM1017.8 1026.4l11.8 20.6h-23.6zM1018 1027.6l11.8 20.6h-23.6zM1018.3 1028.9l11.8 20.6h-23.6zM1018.5 1030.1l11.8 20.6h-23.6zM1018.7 1031.4l11.8 20.6h-23.6zM1019 1032.7l11.8 20.6h-23.6zM1019.2 1033.9l11.8 20.6h-23.6zM1019.5 1035.2l11.8 20.6h-23.6zM1019.7 1036.4l11.8 20.6h-23.6zM1020 1037.7l11.8 20.6h-23.6zM1020.2 1038.9l11.8 20.6h-23.6zM1020.5 1040.2l11.8 20.6h-23.6zM1020.8 1041.4l11.8 20.6h-23.6zM1021 1042.7l11.8 20.6h-23.6zM1021.3 1043.9l11.8 20.6h-23.6zM1021.6 1045.2l11.8 20.6h-23.6zM1021.9 1046.5l11.8 20.6h-23.6zM1022.2 1047.7l11.8 20.6h-23.6zM1022.5 1049l11.8 20.6h-23.6zM1022.8 1050.2l11.8 20.6h-23.6zM1023.1 1051.5l11.8 20.6h-23.6zM1023.4 1052.7l11.8 20.6h-23.6zM1023.8 1054l11.8 20.6h-23.6zM1024.1 1055.2l11.8 20.6h-23.6zM1024.4 1056.5l11.8 20.6h-23.6zM1024.7 1057.7l11.8 20.6h-23.6zM1025.1 1059l11.8 20.6h-23.6zM1025.4 1060.3l11.8 20.6h-23.6zM1025.8 1061.5l11.8 20.6h-23.6zM1026.1 1062.8l11.8 20.6h-23.6zM1026.5 1064l11.8 20.6h-23.6zM1026.8 1065.3l11.8 20.6h-23.6zM1027.2 1066.5l11.8 20.6h-23.6zM1027.6 1067.8l11.8 20.6h-23.6zM1027.9 1069l11.8 20.6h-23.6zM1028.3 1070.3l11.8 20.6h-23.6zM1028.7 1071.5l11.8 20.6h-23.6zM1029.1 1072.8l11.8 20.6h-23.6zM1029.4 1074.1l11.8 20.6h-23.6zM1029.8 1075.3l11.8 20.6h-23.6zM1030.2 1076.6l11.8 20.6h-23.6zM1030.6 1077.8l11.8 20.6h-23.6zM1031 1079.1l11.8 20.6h-23.6zM1031.4 1080.3l11.8 20.6h-23.6zM1031.8 1081.6l11.8 20.6h-23.6zM1032.2 1082.8l11.8 20.6h-23.6zM1032.6 1084.1l11.8 20.6h-23.6zM1033.1 1085.3l11.8 20.6h-23.6zM1033.5 1086.6l11.8 20.6h-23.6zM1033.9 1087.8l11.8 20.6h-23.6zM1034.3 1089.1l11.8 20.6h-23.6zM1034.7 1090.4l11.8 20.6h-23.6zM1035.2 1091.6l11.8 20.6h-23.6zM1035.6 1092.9l11.8 20.6h-23.6zM1036 1094.1l11.8 20.6h-23.6zM1036.5 1095.4l11.8 20.6h-23.6zM1036.9 1096.6l11.8 20.6h-23.6zM1037.4 1097.9l11.8 20.6h-23.6zM1037.8 1099.1l11.8 20.6h-23.6zM1038.3 1100.4l11.8 20.6h-23.6zM1038.7 1101.6l11.8 20.6h-23.6zM1039.2 1102.9l11.8 20.6h-23.6zM1039.6 1104.2l11.8 20.6h-23.6zM1040.1 1105.4l11.8 20.6h-23.6zM1040.5 1106.7l11.8 20.6h-23.6zM1041 1107.9l11.8 20.6h-23.6zM1041.5 1109.2l11.8 20.6h-23.6zM1041.9 1110.4l11.8 20.6h-23.6zM1042.4 1111.7l11.8 20.6h-23.6zM1042.9 1112.9l11.8 20.6h-23.6zM1043.3 1114.2l11.8 20.6h-23.6zM1043.8 1115.4l11.8 20.6h-23.6zM1044.3 1116.7l11.8 20.6h-23.6zM1044.7 1118l11.8 20.6h-23.6zM1045.2 1119.2l11.8 20.6h-23.6zM1045.7 1120.5l11.8 20.6h-23.6zM1046.2 1121.7l11.8 20.6h-23.6zM1046.6 1123l11.8 20.6h-23.6zM1047.1 1124.2l11.8 20.6h-23.6zM1047.6 1125.5l11.8 20.6h-23.6zM1048.1 1126.7l11.8 20.6h-23.6zM1048.6 1128l11.8 20.6h-23.6zM1049.1 1129.2l11.8 20.6h-23.6zM1049.5 1130.5l11.8 20.6h-23.6zM1050 1131.7l11.8 20.6h-23.6zM1050.5 1133l11.8 20.6h-23.6zM1051 1134.3l11.8 20.6h-23.6zM1051.5 1135.5l11.8 20.6h-23.6zM1052 1136.8l11.8 20.6h-23.6zM1052.5 1138l11.8 20.6h-23.6zM1052.9 1139.3l11.8 20.6h-23.6zM1053.4 1140.5l11.8 20.6h-23.6zM1053.9 1141.8l11.8 20.6h-23.6zM1054.4 1143l11.8 20.6h-23.6zM1054.9 1144.3l11.8 20.6h-23.6zM1055.4 1145.5l11.8 20.6h-23.6zM1055.9 1146.8l11.8 20.6h-23.6zM1056.4 1148.1l11.8 20.6h-23.6zM1056.9 1149.3l11.8 20.6h-23.6zM1057.3 1150.6l11.8 20.6h-23.6zM1057.8 1151.8l11.8 20.6h-23.6zM1058.3 1153.1l11.8 20.6h-23.6zM1058.8 1154.3l11.8 20.6h-23.6zM1059.3 1155.6l11.8 20.6h-23.6zM1059.8 1156.8l11.8 20.6h-23.6zM1060.2 1158.1l11.8 20.6h-23.6zM1060.7 1159.3l11.8 20.6h-23.6zM1061.2 1160.6l11.8 20.6h-23.6zM1061.7 1161.9l11.8 20.6h-23.6zM1062.2 1163.1l11.8 20.6h-23.6zM1062.6 1164.4l11.8 20.6h-23.6zM1063.1 1165.6l11.8 20.6h-23.6zM1063.6 1166.9l11.8 20.6h-23.6zM1064.1 1168.1l11.8 20.6h-23.6zM1064.5 1169.4l11.8 20.6h-23.6zM1065 1170.6l11.8 20.6h-23.6zM1065.5 1171.9l11.8 20.6h-23.6zM1066 1173.1l11.8 20.6h-23.6zM1066.4 1174.4l11.8 20.6h-23.6zM1066.9 1175.7l11.8 20.6h-23.6zM1067.3 1176.9l11.8 20.6h-23.6zM1067.8 1178.2l11.8 20.6h-23.6zM1068.3 1179.4l11.8 20.6h-23.6zM1068.7 1180.7l11.8 20.6h-23.6zM1069.2 1181.9l11.8 20.6h-23.6zM1069.6 1183.2l11.8 20.6h-23.6zM1070.1 1184.4l11.8 20.6h-23.6zM1070.5 1185.7l11.8 20.6h-23.6zM1071 1186.9l11.8 20.6h-23.6zM1071.4 1188.2l11.8 20.6h-23.6zM1071.9 1189.4l11.8 20.6h-23.6zM1072.3 1190.7l11.8 20.6h-23.6zM1072.7 1192l11.8 20.6h-23.6zM1073.2 1193.2l11.8 20.6h-23.6zM1073.6 1194.5l11.8 20.6h-23.6zM1074 1195.7l11.8 20.6h-23.6zM1074.5 1197l11.8 20.6h-23.6zM1074.9 1198.2l11.8 20.6h-23.6zM1075.3 1199.5l11.8 20.6h-23.6zM1075.7 1200.7l11.8 20.6h-23.6zM1076.1 1202l11.8 20.6h-23.6zM1076.6 1203.2l11.8 20.6h-23.6zM1077 1204.5l11.8 20.6h-23.6zM1077.4 1205.8l11.8 20.6h-23.6zM1077.8 1207l11.8 20.6h-23.6zM1078.2 1208.3l11.8 20.6h-23.6zM1078.6 1209.5l11.8 20.6h-23.6zM1079 1210.8l11.8 20.6h-23.6zM1079.4 1212l11.8 20.6h-23.6zM1079.8 1213.3l11.8 20.6h-23.6zM1080.2 1214.5l11.8 20.6h-23.6zM1080.6 1215.8l11.8 20.6h-23.6zM1081 1217l11.8 20.6h-23.6zM1081.4 1218.3l11.8 20.6h-23.6zM1081.8 1219.6l11.8 20.6h-23.6zM1082.2 1220.8l11.8 20.6h-23.6zM1082.6 1222.1l11.8 20.6h-23.6zM1082.9 1223.3l11.8 20.6h-23.6zM1083.3 1224.6l11.8 20.6h-23.6zM1083.7 1225.8l11.8 20.6h-23.6zM1084.1 1227.1l11.8 20.6h-23.6zM1084.5 1228.3l11.8 20.6h-23.6zM1084.8 1229.6l11.8 20.6h-23.6zM1085.2 1230.8l11.8 20.6h-23.6zM1085.6 1232.1l11.8 20.6h-23.6zM1086 1233.4l11.8 20.6h-23.6zM1086.3 1234.6l11.8 20.6h-23.6zM1086.7 1235.9l11.8 20.6h-23.6zM1087.1 1237.1l11.8 20.6h-23.6zM1087.5 1238.4l11.8 20.6h-23.6zM1087.8 1239.6l11.8 20.6h-23.6zM1088.2 1240.9l11.8 20.6h-23.6zM1088.5 1242.1l11.8 20.6h-23.6zM1088.9 1243.4l11.8 20.6h-23.6zM1089.3 1244.6l11.8 20.6h-23.6zM1089.6 1245.9l11.8 20.6h-23.6zM1090 1247.1l11.8 20.6h-23.6zM1090.3 1248.4l11.8 20.6h-23.6zM1090.7 1249.7l11.8 20.6h-23.6zM1091.1 1250.9l11.8 20.6h-23.6zM1091.4 1252.2l11.8 20.6h-23.6zM1091.8 1253.4l11.8 20.6h-23.6zM1092.1 1254.7l11.8 20.6h-23.6zM1092.5 1255.9l11.8 20.6h-23.6zM1092.8 1257.2l11.8 20.6h-23.6zM1093.2 1258.4l11.8 20.6h-23.6zM1093.5 1259.7l11.8 20.6h-23.6zM1093.9 1260.9l11.8 20.6h-23.6zM1094.2 1262.2l11.8 20.6h-23.6zM1094.6 1263.5l11.8 20.6h-23.6zM1094.9 1264.7l11.8 20.6h-23.6zM1095.3 1266l11.8 20.6h-23.6zM1095.6 1267.2l11.8 20.6h-23.6zM1095.9 1268.5l11.8 20.6h-23.6zM1096.3 1269.7l11.8 20.6h-23.6zM1096.6 1271l11.8 20.6h-23.6zM1097 1272.2l11.8 20.6h-23.6zM1097.3 1273.5l11.8 20.6h-23.6zM1097.6 1274.7l11.8 20.6h-23.6zM1098 1276l11.8 20.6h-23.6zM1098.3 1277.3l11.8 20.6h-23.6zM1098.7 1278.5l11.8 20.6h-23.6zM1099 1279.8l11.8 20.6h-23.6zM1099.3 1281l11.8 20.6h-23.6zM1099.7 1282.3l11.8 20.6h-23.6zM1100 1283.5l11.8 20.6h-23.6zM1100.3 1284.8l11.8 20.6h-23.6zM1100.7 1286l11.8 20.6h-23.6zM1101 1287.3l11.8 20.6h-23.6zM1101.4 1288.5l11.8 20.6h-23.6zM1101.7 1289.8l11.8 20.6h-23.6zM1102 1291l11.8 20.6h-23.6zM1102.4 1292.3l11.8 20.6h-23.6zM1102.7 1293.6l11.8 20.6h-23.6zM1103 1294.8l11.8 20.6h-23.6zM1103.4 1296.1l11.8 20.6h-23.6zM1103.7 1297.3l11.8 20.6h-23.6zM1104 1298.6l11.8 20.6h-23.6zM1104.4 1299.8l11.8 20.6h-23.6zM1104.7 1301.1l11.8 20.6h-23.6zM1105 1302.3l11.8 20.6h-23.6zM1105.4 1303.6l11.8 20.6h-23.6zM1105.7 1304.8l11.8 20.6h-23.6zM1106 1306.1l11.8 20.6h-23.6zM1106.4 1307.4l11.8 20.6h-23.6zM1106.7 1308.6l11.8 20.6h-23.6zM1107 1309.9l11.8 20.6h-23.6zM1107.4 1311.1l11.8 20.6h-23.6zM1107.7 1312.4l11.8 20.6h-23.6zM1108 1313.6l11.8 20.6h-23.6zM1108.4 1314.9l11.8 20.6h-23.6zM1108.7 1316.1l11.8 20.6h-23.6zM1109 1317.4l11.8 20.6h-23.6zM1109.4 1318.6l11.8 20.6h-23.6zM1109.7 1319.9l11.8 20.6h-23.6zM1110 1321.2l11.8 20.6h-23.6zM1110.4 1322.4l11.8 20.6h-23.6zM1110.7 1323.7l11.8 20.6h-23.6zM1111 1324.9l11.8 20.6h-23.6zM1111.4 1326.2l11.8 20.6h-23.6zM1111.7 1327.4l11.8 20.6h-23.6zM1112 1328.7l11.8 20.6h-23.6zM1112.4 1329.9l11.8 20.6h-23.6zM1112.7 1331.2l11.8 20.6h-23.6zM1113 1332.4l11.8 20.6h-23.6zM1113.4 1333.7l11.8 20.6h-23.6zM1113.7 1335l11.8 20.6h-23.6zM1114.1 1336.2l11.8 20.6h-23.6zM1114.4 1337.5l11.8 20.6h-23.6zM1114.7 1338.7l11.8 20.6h-23.6zM1115.1 1340l11.8 20.6h-23.6zM1115.4 1341.2l11.8 20.6h-23.6zM1115.8 1342.5l11.8 20.6h-23.6zM1116.1 1343.7l11.8 20.6h-23.6zM1116.4 1345l11.8 20.6h-23.6zM1116.8 1346.2l11.8 20.6h-23.6zM1117.1 1347.5l11.8 20.6h-23.6zM1117.4 1348.7l11.8 20.6h-23.6zM1117.8 1350l11.8 20.6h-23.6zM1118.1 1351.3l11.8 20.6h-23.6zM1118.5 1352.5l11.8 20.6h-23.6zM1118.8 1353.8l11.8 20.6h-23.6zM1119.1 1355l11.8 20.6h-23.6zM1119.5 1356.3l11.8 20.6h-23.6zM1119.8 1357.5l11.8 20.6h-23.6zM1120.2 1358.8l11.8 20.6h-23.6zM1120.5 1360l11.8 20.6h-23.6zM1120.8 1361.3l11.8 20.6h-23.6zM1121.2 1362.5l11.8 20.6h-23.6zM1121.5 1363.8l11.8 20.6h-23.6zM1121.9 1365.1l11.8 20.6h-23.6zM1122.2 1366.3l11.8 20.6h-23.6zM1122.5 1367.6l11.8 20.6h-23.6zM1122.9 1368.8l11.8 20.6h-23.6zM1123.2 1370.1l11.8 20.6h-23.6zM1123.6 1371.3l11.8 20.6h-23.6zM1123.9 1372.6l11.8 20.6h-23.6zM1124.2 1373.8l11.8 20.6h-23.6zM1124.6 1375.1l11.8 20.6h-23.6zM1124.9 1376.3l11.8 20.6h-23.6zM1125.2 1377.6l11.8 20.6h-23.6zM1125.6 1378.9l11.8 20.6h-23.6zM1125.9 1380.1l11.8 20.6h-23.6zM1126.3 1381.4l11.8 20.6h-23.6zM1126.6 1382.6l11.8 20.6h-23.6zM1126.9 1383.9l11.8 20.6h-23.6zM1127.3 1385.1l11.8 20.6h-23.6zM1127.6 1386.4l11.8 20.6h-23.6zM1127.9 1387.6l11.8 20.6h-23.6zM1128.3 1388.9l11.8 20.6h-23.6zM1128.6 1390.1l11.8 20.6h-23.6zM1128.9 1391.4l11.8 20.6h-23.6zM1129.3 1392.7l11.8 20.6h-23.6zM1129.6 1393.9l11.8 20.6h-23.6zM1129.9 1395.2l11.8 20.6h-23.6zM1130.3 1396.4l11.8 20.6h-23.6zM1130.6 1397.7l11.8 20.6h-23.6zM1130.9 1398.9l11.8 20.6h-23.6zM1131.3 1400.2l11.8 20.6h-23.6zM1131.6 1401.4l11.8 20.6h-23.6zM1131.9 1402.7l11.8 20.6h-23.6zM1132.3 1403.9l11.8 20.6h-23.6zM1132.6 1405.2l11.8 20.6h-23.6zM1132.9 1406.4l11.8 20.6h-23.6zM1133.3 1407.7l11.8 20.6h-23.6zM1133.6 1409l11.8 20.6h-23.6zM1133.9 1410.2l11.8 20.6h-23.6zM1134.2 1411.5l11.8 20.6h-23.6zM1134.6 1412.7l11.8 20.6h-23.6zM1134.9 1414l11.8 20.6h-23.6zM1135.2 1415.2l11.8 20.6h-23.6zM1135.5 1416.5l11.8 20.6h-23.6zM1135.9 1417.7l11.8 20.6h-23.6zM1136.2 1419l11.8 20.6h-23.6zM1136.5 1420.2l11.8 20.6h-23.6zM1136.8 1421.5l11.8 20.6h-23.6zM1137.2 1422.8l11.8 20.6h-23.6zM1137.5 1424l11.8 20.6h-23.6zM1137.8 1425.3l11.8 20.6h-23.6zM1138.1 1426.5l11.8 20.6h-23.6zM1138.4 1427.8l11.8 20.6h-23.6zM1138.8 1429l11.8 20.6h-23.6zM1139.1 1430.3l11.8 20.6h-23.6zM1139.4 1431.5l11.8 20.6h-23.6zM1139.7 1432.8l11.8 20.6h-23.6zM1140 1434l11.8 20.6h-23.6zM1140.3 1435.3l11.8 20.6h-23.6zM1140.7 1436.6l11.8 20.6h-23.6zM1141 1437.8l11.8 20.6h-23.6zM1141.3 1439.1l11.8 20.6h-23.6zM1141.6 1440.3l11.8 20.6h-23.6zM1141.9 1441.6l11.8 20.6h-23.6zM1142.2 1442.8l11.8 20.6h-23.6zM1142.5 1444.1l11.8 20.6h-23.6zM1142.8 1445.3l11.8 20.6h-23.6zM1143.2 1446.6l11.8 20.6h-23.6zM1143.5 1447.8l11.8 20.6h-23.6zM1143.8 1449.1l11.8 20.6h-23.6zM1144.1 1450.4l11.8 20.6h-23.6zM1144.4 1451.6l11.8 20.6h-23.6zM1144.7 1452.9l11.8 20.6h-23.6zM1145 1454.1l11.8 20.6h-23.6zM1145.3 1455.4l11.8 20.6h-23.6zM1145.6 1456.6l11.8 20.6h-23.6zM1145.9 1457.9l11.8 20.6h-23.6zM1146.2 1459.1l11.8 20.6h-23.6zM1146.5 1460.4l11.8 20.6h-23.6zM1146.8 1461.6l11.8 20.6h-23.6zM1147.1 1462.9l11.8 20.6h-23.6zM1147.4 1464.1l11.8 20.6h-23.6zM1147.7 1465.4l11.8 20.6h-23.6zM1148 1466.7l11.8 20.6h-23.6zM1148.3 1467.9l11.8 20.6h-23.6zM1148.5 1469.2l11.8 20.6h-23.6zM1148.8 1470.4l11.8 20.6h-23.6zM1149.1 1471.7l11.8 20.6h-23.6zM1149.4 1472.9l11.8 20.6h-23.6zM1149.7 1474.2l11.8 20.6h-23.6zM1150 1475.4l11.8 20.6h-23.6zM1150.3 1476.7l11.8 20.6h-23.6zM1150.6 1477.9l11.8 20.6h-23.6zM1150.8 1479.2l11.8 20.6h-23.6zM1151.1 1480.5l11.8 20.6h-23.6zM1151.4 1481.7l11.8 20.6h-23.6zM1151.7 1483l11.8 20.6h-23.6zM1152 1484.2l11.8 20.6h-23.6zM1152.2 1485.5l11.8 20.6h-23.6zM1152.5 1486.7l11.8 20.6h-23.6zM1152.8 1488l11.8 20.6h-23.6zM1153.1 1489.2l11.8 20.6h-23.6zM1153.3 1490.5l11.8 20.6h-23.6zM1153.6 1491.7l11.8 20.6h-23.6zM1153.9 1493l11.8 20.6h-23.6zM1154.1 1494.3l11.8 20.6h-23.6zM1154.4 1495.5l11.8 20.6h-23.6zM1154.7 1496.8l11.8 20.6h-23.6zM1154.9 1498l11.8 20.6h-23.6zM1155.2 1499.3l11.8 20.6h-23.6zM1155.5 1500.5l11.8 20.6h-23.6zM1155.7 1501.8l11.8 20.6h-23.6zM1156 1503l11.8 20.6h-23.6zM1156.2 1504.3l11.8 20.6h-23.6zM1156.5 1505.5l11.8 20.6h-23.6zM1156.7 1506.8l11.8 20.6h-23.6zM1157 1508l11.8 20.6h-23.6zM1157.3 1509.3l11.8 20.6h-23.6zM1157.5 1510.6l11.8 20.6h-23.6zM1157.8 1511.8l11.8 20.6h-23.6zM1158 1513.1l11.8 20.6h-23.6zM1158.2 1514.3l11.8 20.6h-23.6zM1158.5 1515.6l11.8 20.6h-23.6zM1158.7 1516.8l11.8 20.6h-23.6zM1159 1518.1l11.8 20.6h-23.6zM1159.2 1519.3l11.8 20.6h-23.6zM1159.5 1520.6l11.8 20.6h-23.6zM1159.7 1521.8l11.8 20.6h-23.6zM1159.9 1523.1l11.8 20.6h-23.6zM1160.2 1524.4l11.8 20.6h-23.6zM1160.4 1525.6l11.8 20.6h-23.6zM1160.6 1526.9l11.8 20.6h-23.6zM1160.9 1528.1l11.8 20.6h-23.6zM1161.1 1529.4l11.8 20.6h-23.6zM1161.3 1530.6l11.8 20.6h-23.6zM1161.5 1531.9l11.8 20.6h-23.6zM1161.8 1533.1l11.8 20.6h-23.6zM1162 1534.4l11.8 20.6h-23.6zM1162.2 1535.6l11.8 20.6h-23.6zM1162.4 1536.9l11.8 20.6h-23.6zM1162.6 1538.2l11.8 20.6h-23.6zM1162.9 1539.4l11.8 20.6h-23.6zM1163.1 1540.7l11.8 20.6h-23.6zM1163.3 1541.9l11.8 20.6h-23.6zM1163.5 1543.2l11.8 20.6h-23.6zM1163.7 1544.4l11.8 20.6h-23.6zM1163.9 1545.7l11.8 20.6h-23.6zM1164.1 1546.9l11.8 20.6h-23.6zM1164.3 1548.2l11.8 20.6h-23.6zM1164.5 1549.4l11.8 20.6h-23.6zM1164.7 1550.7l11.8 20.6h-23.6zM1164.9 1552l11.8 20.6h-23.6zM1165.1 1553.2l11.8 20.6h-23.6zM1165.3 1554.5l11.8 20.6h-23.6zM1165.5 1555.7l11.8 20.6h-23.6zM1165.7 1557l11.8 20.6h-23.6zM1165.9 1558.2l11.8 20.6h-23.6zM1166.1 1559.5l11.8 20.6h-23.6zM1166.3 1560.7l11.8 20.6h-23.6zM1166.5 1562l11.8 20.6h-23.6zM1166.6 1563.2l11.8 20.6h-23.6zM1166.8 1564.5l11.8 20.6h-23.6zM1166.9 1565.1l11.8 20.6h-23.6zM1167 1565.7l11.8 20.6h-23.6zM373.8 693.2l11.8 20.6h-23.6zM447.5 691.3l11.8 20.6h-23.6zM535.4 696.1l11.8 20.6h-23.6zM552.4 689.1l11.8 20.6h-23.6zM611.2 698.4l11.8 20.6h-23.6zM628.7 686.6l11.8 20.6h-23.6zM661.1 700.4l11.8 20.6h-23.6zM678.7 683.8l11.8 20.6h-23.6zM699.4 703.7l11.8 20.6h-23.6zM721.6 681.3l11.8 20.6h-23.6zM755.9 678.5l11.8 20.6h-23.6zM786.1 676.1l11.8 20.6h-23.6zM812.8 673.9l11.8 20.6h-23.6zM836.1 671.4l11.8 20.6h-23.6zM856.5 669.4l11.8 20.6h-23.6zM875.7 667.5l11.8 20.6h-23.6zM892.7 665.4l11.8 20.6h-23.6zM729.2 705.9l11.8 20.6h-23.6zM752.9 708.1l11.8 20.6h-23.6zM772.8 710.2l11.8 20.6h-23.6zM790.3 713l11.8 20.6h-23.6zM805.5 715.5l11.8 20.6h-23.6zM819.8 717.3l11.8 20.6h-23.6zM830.9 720.2l11.8 20.6h-23.6zM841.5 722.3l11.8 20.6h-23.6zM851.5 724.4l11.8 20.6h-23.6zM860.7 726.6l11.8 20.6h-23.6z"/>
<path fill="#E3EF0A" d="M896.2 761l11.8 -20.6h-23.6zM914.1 758.5l11.8 -20.6h-23.6zM930.5 756l11.8 -20.6h-23.6zM945.8 753.5l11.8 -20.6h-23.6zM960.1 751l11.8 -20.6h-23.6zM973.5 748.4l11.8 -20.6h-23.6zM986.4 745.9l11.8 -20.6h-23.6zM998.6 743.4l11.8 -20.6h-23.6zM1010.3 740.9l11.8 -20.6h-23.6zM1021.5 738.4l11.8 -20.6h-23.6zM1032.3 735.9l11.8 -20.6h-23.6zM1042.7 733.4l11.8 -20.6h-23.6zM1052.8 730.9l11.8 -20.6h-23.6zM1062.5 728.4l11.8 -20.6h-23.6zM1072 725.9l11.8 -20.6h-23.6zM1081.2 723.4l11.8 -20.6h-23.6zM1090.1 720.9l11.8 -20.6h-23.6zM1098.8 718.3l11.8 -20.6h-23.6zM1107.3 715.8l11.8 -20.6h-23.6zM1115.6 713.3l11.8 -20.6h-23.6zM1123.7 710.8l11.8 -20.6h-23.6zM1131.7 708.3l11.8 -20.6h-23.6zM1139.4 705.8l11.8 -20.6h-23.6zM1147 703.3l11.8 -20.6h-23.6zM1154.4 700.8l11.8 -20.6h-23.6zM1161.7 698.3l11.8 -20.6h-23.6zM1168.9 695.8l11.8 -20.6h-23.6zM1175.9 693.3l11.8 -20.6h-23.6zM1182.8 690.7l11.8 -20.6h-23.6zM1189.6 688.2l11.8 -20.6h-23.6zM1196.2 685.7l11.8 -20.6h-23.6zM1202.8 683.2l11.8 -20.6h-23.6zM1209.2 680.7l11.8 -20.6h-23.6zM1215.5 678.2l11.8 -20.6h-23.6zM1221.8 675.7l11.8 -20.6h-23.6zM1227.9 673.2l11.8 -20.6h-23.6zM1234 670.7l11.8 -20.6h-23.6zM1239.9 668.2l11.8 -20.6h-23.6zM1245.8 665.7l11.8 -20.6h-23.6zM1251.6 663.2l11.8 -20.6h-23.6zM1257.3 660.6l11.8 -20.6h-23.6zM1262.9 658.1l11.8 -20.6h-23.6zM1268.5 655.6l11.8 -20.6h-23.6zM1274 653.1l11.8 -20.6h-23.6zM1279.4 650.6l11.8 -20.6h-23.6zM1284.7 648.1l11.8 -20.6h-23.6zM1290 645.6l11.8 -20.6h-23.6zM1295.2 643.1l11.8 -20.6h-23.6zM1300.3 640.6l11.8 -20.6h-23.6zM1305.4 638.1l11.8 -20.6h-23.6zM1310.5 635.6l11.8 -20.6h-23.6zM1315.4 633l11.8 -20.6h-23.6zM1320.3 630.5l11.8 -20.6h-23.6zM1325.2 628l11.8 -20.6h-23.6zM1330 625.5l11.8 -20.6h-23.6zM1334.7 623l11.8 -20.6h-23.6zM1339.4 620.5l11.8 -20.6h-23.6zM1344 618l11.8 -20.6h-23.6zM1348.6 615.5l11.8 -20.6h-23.6zM1353.2 613l11.8 -20.6h-23.6zM1357.7 610.5l11.8 -20.6h-23.6zM1362.1 608l11.8 -20.6h-23.6zM1366.5 605.5l11.8 -20.6h-23.6zM1370.9 602.9l11.8 -20.6h-23.6zM1373 601.7l11.8 -20.6h-23.6zM1375.2 600.4l11.8 -20.6h-23.6zM1377.3 599.2l11.8 -20.6h-23.6zM1379.5 597.9l11.8 -20.6h-23.6zM1381.6 596.7l11.8 -20.6h-23.6zM1383.7 595.4l11.8 -20.6h-23.6zM1385.8 594.2l11.8 -20.6h-23.6zM1387.9 592.9l11.8 -20.6h-23.6zM1390 591.7l11.8 -20.6h-23.6zM1392 590.4l11.8 -20.6h-23.6zM1394.1 589.1l11.8 -20.6h-23.6zM1396.1 587.9l11.8 -20.6h-23.6zM1398.2 586.6l11.8 -20.6h-23.6zM1400.2 585.4l11.8 -20.6h-23.6zM1402.2 584.1l11.8 -20.6h-23.6zM1404.2 582.9l11.8 -20.6h-23.6zM1406.2 581.6l11.8 -20.6h-23.6zM1408.2 580.4l11.8 -20.6h-23.6zM1410.2 579.1l11.8 -20.6h-23.6zM1412.2 577.9l11.8 -20.6h-23.6zM1414.2 576.6l11.8 -20.6h-23.6zM1416.1 575.4l11.8 -20.6h-23.6zM1418.1 574.1l11.8 -20.6h-23.6zM1420 572.8l11.8 -20.6h-23.6zM1421.9 571.6l11.8 -20.6h-23.6zM1423.8 570.3l11.8 -20.6h-23.6zM1425.8 569.1l11.8 -20.6h-23.6zM1427.7 567.8l11.8 -20.6h-23.6zM1429.5 566.6l11.8 -20.6h-23.6zM1431.4 565.3l11.8 -20.6h-23.6zM1433.3 564.1l11.8 -20.6h-23.6zM1435.2 562.8l11.8 -20.6h-23.6zM1437 561.6l11.8 -20.6h-23.6zM1438.9 560.3l11.8 -20.6h-23.6zM1440.7 559l11.8 -20.6h-23.6zM1442.6 557.8l11.8 -20.6h-23.6zM1444.4 556.5l11.8 -20.6h-23.6zM1446.2 555.3l11.8 -20.6h-23.6zM1448 554l11.8 -20.6h-23.6zM1449.8 552.8l11.8 -20.6h-23.6zM1451.6 551.5l11.8 -20.6h-23.6zM1453.4 550.3l11.8 -20.6h-23.6zM1455.2 549l11.8 -20.6h-23.6zM1457 547.8l11.8 -20.6h-23.6zM1457.6 547.3l11.8 -20.6h-23.6zM1458.2 546.9l11.8 -20.6h-23.6zM855 813.7l11.8 -20.6h-23.6zM864.4 816.2l11.8 -20.6h-23.6zM874.2 818.7l11.8 -20.6h-23.6zM884.3 821.2l11.8 -20.6h-23.6zM894.1 823.7l11.8 -20.6h-23.6zM903.4 826.3l11.8 -20.6h-23.6zM912.1 828.8l11.8 -20.6h-23.6zM919.9 831.3l11.8 -20.6h-23.6zM927 833.8l11.8 -20.6h-23.6zM933.3 836.3l11.8 -20.6h-23.6zM939.1 838.8l11.8 -20.6h-23.6zM944.2 841.3l11.8 -20.6h-23.6zM948.9 843.8l11.8 -20.6h-23.6zM951.1 845.1l11.8 -20.6h-23.6zM953.2 846.3l11.8 -20.6h-23.6zM955.1 847.6l11.8 -20.6h-23.6zM957 848.8l11.8 -20.6h-23.6zM958.8 850.1l11.8 -20.6h-23.6zM960.5 851.3l11.8 -20.6h-23.6zM962.2 852.6l11.8 -20.6h-23.6zM963.7 853.8l11.8 -20.6h-23.6zM965.2 855.1l11.8 -20.6h-23.6zM966.7 856.4l11.8 -20.6h-23.6zM968 857.6l11.8 -20.6h-23.6zM969.4 858.9l11.8 -20.6h-23.6zM970.6 860.1l11.8 -20.6h-23.6zM971.8 861.4l11.8 -20.6h-23.6zM973 862.6l11.8 -20.6h-23.6zM974.1 863.9l11.8 -20.6h-23.6zM975.2 865.1l11.8 -20.6h-23.6zM976.2 866.4l11.8 -20.6h-23.6zM977.3 867.6l11.8 -20.6h-23.6zM978.2 868.9l11.8 -20.6h-23.6zM979.2 870.2l11.8 -20.6h-23.6zM980.1 871.4l11.8 -20.6h-23.6zM981 872.7l11.8 -20.6h-23.6zM981.8 873.9l11.8 -20.6h-23.6zM982.7 875.2l11.8 -20.6h-23.6zM983.5 876.4l11.8 -20.6h-23.6zM984.3 877.7l11.8 -20.6h-23.6zM985 878.9l11.8 -20.6h-23.6zM985.8 880.2l11.8 -20.6h-23.6zM986.5 881.4l11.8 -20.6h-23.6zM987.2 882.7l11.8 -20.6h-23.6zM987.8 884l11.8 -20.6h-23.6zM988.5 885.2l11.8 -20.6h-23.6zM989.1 886.5l11.8 -20.6h-23.6zM989.8 887.7l11.8 -20.6h-23.6zM990.4 889l11.8 -20.6h-23.6zM990.9 890.2l11.8 -20.6h-23.6zM991.5 891.5l11.8 -20.6h-23.6zM992.1 892.7l11.8 -20.6h-23.6zM992.6 894l11.8 -20.6h-23.6zM993.1 895.2l11.8 -20.6h-23.6zM993.6 896.5l11.8 -20.6h-23.6zM994.1 897.7l11.8 -20.6h-23.6zM994.6 899l11.8 -20.6h-23.6zM995 900.3l11.8 -20.6h-23.6zM995.5 901.5l11.8 -20.6h-23.6zM995.9 902.8l11.8 -20.6h-23.6zM996.3 904l11.8 -20.6h-23.6zM996.7 905.3l11.8 -20.6h-23.6zM997.1 906.5l11.8 -20.6h-23.6zM997.5 907.8l11.8 -20.6h-23.6zM997.9 909l11.8 -20.6h-23.6zM998.2 910.3l11.8 -20.6h-23.6zM998.6 911.5l11.8 -20.6h-23.6zM998.9 912.8l11.8 -20.6h-23.6zM999.2 914.1l11.8 -20.6h-23.6zM999.5 915.3l11.8 -20.6h-23.6zM999.8 916.6l11.8 -20.6h-23.6zM1000.1 917.8l11.8 -20.6h-23.6zM1000.4 919.1l11.8 -20.6h-23.6zM1000.7 920.3l11.8 -20.6h-23.6zM1000.9 921.6l11.8 -20.6h-23.6zM1001.1 922.8l11.8 -20.6h-23.6zM1001.4 924.1l11.8 -20.6h-23.6zM1001.6 925.3l11.8 -20.6h-23.6zM1001.8 926.6l11.8 -20.6h-23.6zM1002 927.9l11.8 -20.6h-23.6zM1002.2 929.1l11.8 -20.6h-23.6zM1002.4 930.4l11.8 -20.6h-23.6zM1002.6 931.6l11.8 -20.6h-23.6zM1002.7 932.9l11.8 -20.6h-23.6zM1002.9 934.1l11.8 -20.6h-23.6zM1003 935.4l11.8 -20.6h-23.6zM1003.2 936.6l11.8 -20.6h-23.6zM1003.3 937.9l11.8 -20.6h-23.6zM1003.4 939.1l11.8 -20.6h-23.6zM1003.5 940.4l11.8 -20.6h-23.6zM1003.6 941.7l11.8 -20.6h-23.6zM1003.7 942.9l11.8 -20.6h-23.6zM1003.8 944.2l11.8 -20.6h-23.6zM1003.9 945.4l11.8 -20.6h-23.6zM1004 946.7l11.8 -20.6h-23.6zM1004 947.9l11.8 -20.6h-23.6zM1004.1 949.2l11.8 -20.6h-23.6zM1004.2 950.4l11.8 -20.6h-23.6zM1004.2 951.7l11.8 -20.6h-23.6zM1004.3 952.9l11.8 -20.6h-23.6zM1004.3 954.2l11.8 -20.6h-23.6zM1004.3 955.4l11.8 -20.6h-23.6zM1004.3 956.7l11.8 -20.6h-23.6zM1004.4 958l11.8 -20.6h-23.6zM1004.4 959.2l11.8 -20.6h-23.6zM1004.4 960.5l11.8 -20.6h-23.6zM1004.4 961.7l11.8 -20.6h-23.6zM1004.4 963l11.8 -20.6h-23.6zM1004.4 964.2l11.8 -20.6h-23.6zM1004.4 965.5l11.8 -20.6h-23.6zM1004.4 966.7l11.8 -20.6h-23.6zM1004.4 968l11.8 -20.6h-23.6zM1004.3 969.2l11.8 -20.6h-23.6zM1004.3 970.5l11.8 -20.6h-23.6zM1004.3 971.8l11.8 -20.6h-23.6zM1004.3 973l11.8 -20.6h-23.6zM1004.2 974.3l11.8 -20.6h-23.6zM1004.2 975.5l11.8 -20.6h-23.6zM1004.1 976.8l11.8 -20.6h-23.6zM1004.1 978l11.8 -20.6h-23.6zM1004.1 979.3l11.8 -20.6h-23.6zM1004 980.5l11.8 -20.6h-23.6zM1004 981.8l11.8 -20.6h-23.6zM1003.9 983l11.8 -20.6h-23.6zM1003.8 984.3l11.8 -20.6h-23.6zM1003.8 985.6l11.8 -20.6h-23.6zM1003.7 986.8l11.8 -20.6h-23.6zM1003.7 988.1l11.8 -20.6h-23.6zM1003.6 989.3l11.8 -20.6h-23.6zM1003.5 990.6l11.8 -20.6h-23.6zM1003.5 991.8l11.8 -20.6h-23.6zM1003.4 993.1l11.8 -20.6h-23.6zM1003.3 994.3l11.8 -20.6h-23.6zM1003.3 995.6l11.8 -20.6h-23.6zM1003.2 996.8l11.8 -20.6h-23.6zM1003.1 998.1l11.8 -20.6h-23.6zM1003.1 999.3l11.8 -20.6h-23.6zM1003 1000.6l11.8 -20.6h-23.6zM1002.9 1001.9l11.8 -20.6h-23.6zM1002.8 1003.1l11.8 -20.6h-23.6zM1002.8 1004.4l11.8 -20.6h-23.6zM1002.7 1005.6l11.8 -20.6h-23.6zM1002.6 1006.9l11.8 -20.6h-23.6zM1002.6 1008.1l11.8 -20.6h-23.6zM1002.5 1009.4l11.8 -20.6h-23.6zM1002.4 1010.6l11.8 -20.6h-23.6zM1002.4 1011.9l11.8 -20.6h-23.6zM1002.3 1013.1l11.8 -20.6h-23.6zM1002.2 1014.4l11.8 -20.6h-23.6zM1002.2 1015.7l11.8 -20.6h-23.6zM1002.1 1016.9l11.8 -20.6h-23.6zM1002 1018.2l11.8 -20.6h-23.6zM1002 1019.4l11.8 -20.6h-23.6zM1001.9 1020.7l11.8 -20.6h-23.6zM1001.9 1021.9l11.8 -20.6h-23.6zM1001.8 1023.2l11.8 -20.6h-23.6zM1001.8 1024.4l11.8 -20.6h-23.6zM1001.7 1025.7l11.8 -20.6h-23.6zM1001.7 1026.9l11.8 -20.6h-23.6zM1001.6 1028.2l11.8 -20.6h-23.6zM1001.6 1029.5l11.8 -20.6h-23.6zM1001.6 1030.7l11.8 -20.6h-23.6zM1001.5 1032l11.8 -20.6h-23.6zM1001.5 1033.2l11.8 -20.6h-23.6zM1001.5 1034.5l11.8 -20.6h-23.6zM1001.5 1035.7l11.8 -20.6h-23.6zM1001.4 1037l11.8 -20.6h-23.6zM1001.4 1038.2l11.8 -20.6h-23.6zM1001.4 1039.5l11.8 -20.6h-23.6zM1001.4 1040.7l11.8 -20.6h-23.6zM1001.4 1042l11.8 -20.6h-23.6zM1001.4 1043.3l11.8 -20.6h-23.6zM1001.4 1044.5l11.8 -20.6h-23.6zM1001.5 1045.8l11.8 -20.6h-23.6zM1001.5 1047l11.8 -20.6h-23.6zM1001.5 1048.3l11.8 -20.6h-23.6zM1001.5 1049.5l11.8 -20.6h-23.6zM1001.6 1050.8l11.8 -20.6h-23.6zM1001.6 1052l11.8 -20.6h-23.6zM1001.7 1053.3l11.8 -20.6h-23.6zM1001.7 1054.5l11.8 -20.6h-23.6zM1001.8 1055.8l11.8 -20.6h-23.6zM1001.9 1057l11.8 -20.6h-23.6zM1002 1058.3l11.8 -20.6h-23.6zM1002.1 1059.6l11.8 -20.6h-23.6zM1002.1 1060.8l11.8 -20.6h-23.6zM1002.3 1062.1l11.8 -20.6h-23.6zM1002.4 1063.3l11.8 -20.6h-23.6zM1002.5 1064.6l11.8 -20.6h-23.6zM1002.6 1065.8l11.8 -20.6h-23.6zM1002.7 1067.1l11.8 -20.6h-23.6zM1002.9 1068.3l11.8 -20.6h-23.6zM1003 1069.6l11.8 -20.6h-23.6zM1003.2 1070.8l11.8 -20.6h-23.6zM1003.4 1072.1l11.8 -20.6h-23.6zM1003.6 1073.4l11.8 -20.6h-23.6zM1003.7 1074.6l11.8 -20.6h-23.6zM1003.9 1075.9l11.8 -20.6h-23.6zM1004.2 1077.1l11.8 -20.6h-23.6zM1004.4 1078.4l11.8 -20.6h-23.6zM1004.6 1079.6l11.8 -20.6h-23.6zM1004.9 1080.9l11.8 -20.6h-23.6zM1005.1 1082.1l11.8 -20.6h-23.6zM1005.4 1083.4l11.8 -20.6h-23.6zM1005.6 1084.6l11.8 -20.6h-23.6zM1005.9 1085.9l11.8 -20.6h-23.6zM1006.2 1087.2l11.8 -20.6h-23.6zM1006.5 1088.4l11.8 -20.6h-23.6zM1006.8 1089.7l11.8 -20.6h-23.6zM1007.2 1090.9l11.8 -20.6h-23.6zM1007.5 1092.2l11.8 -20.6h-23.6zM1007.8 1093.4l11.8 -20.6h-23.6zM1008.2 1094.7l11.8 -20.6h-23.6zM1008.6 1095.9l11.8 -20.6h-23.6zM1008.9 1097.2l11.8 -20.6h-23.6zM1009.3 1098.4l11.8 -20.6h-23.6zM1009.7 1099.7l11.8 -20.6h-23.6zM1010.1 1101l11.8 -20.6h-23.6zM1010.5 1102.2l11.8 -20.6h-23.6zM1010.9 1103.5l11.8 -20.6h-23.6zM1011.4 1104.7l11.8 -20.6h-23.6zM1011.8 1106l11.8 -20.6h-23.6zM1012.2 1107.2l11.8 -20.6h-23.6zM1012.7 1108.5l11.8 -20.6h-23.6zM1013.1 1109.7l11.8 -20.6h-23.6zM1013.6 1111l11.8 -20.6h-23.6zM1014.1 1112.2l11.8 -20.6h-23.6zM1014.6 1113.5l11.8 -20.6h-23.6zM1015 1114.7l11.8 -20.6h-23.6zM1015.5 1116l11.8 -20.6h-23.6zM1016 1117.3l11.8 -20.6h-23.6zM1016.6 1118.5l11.8 -20.6h-23.6zM1017.1 1119.8l11.8 -20.6h-23.6zM1017.6 1121l11.8 -20.6h-23.6zM1018.1 1122.3l11.8 -20.6h-23.6zM1018.7 1123.5l11.8 -20.6h-23.6zM1019.2 1124.8l11.8 -20.6h-23.6zM1019.7 1126l11.8 -20.6h-23.6zM1020.3 1127.3l11.8 -20.6h-23.6zM1020.9 1128.5l11.8 -20.6h-23.6zM1021.4 1129.8l11.8 -20.6h-23.6zM1022 1131.1l11.8 -20.6h-23.6zM1022.6 1132.3l11.8 -20.6h-23.6zM1023.2 1133.6l11.8 -20.6h-23.6zM1023.7 1134.8l11.8 -20.6h-23.6zM1024.3 1136.1l11.8 -20.6h-23.6zM1024.9 1137.3l11.8 -20.6h-23.6zM1025.5 1138.6l11.8 -20.6h-23.6zM1026.1 1139.8l11.8 -20.6h-23.6zM1026.8 1141.1l11.8 -20.6h-23.6zM1027.4 1142.3l11.8 -20.6h-23.6zM1028 1143.6l11.8 -20.6h-23.6zM1028.6 1144.9l11.8 -20.6h-23.6zM1029.2 1146.1l11.8 -20.6h-23.6zM1029.9 1147.4l11.8 -20.6h-23.6zM1030.5 1148.6l11.8 -20.6h-23.6zM1031.1 1149.9l11.8 -20.6h-23.6zM1031.7 1151.1l11.8 -20.6h-23.6zM1032.4 1152.4l11.8 -20.6h-23.6zM1033 1153.6l11.8 -20.6h-23.6zM1033.7 1154.9l11.8 -20.6h-23.6zM1034.3 1156.1l11.8 -20.6h-23.6zM1035 1157.4l11.8 -20.6h-23.6zM1035.6 1158.7l11.8 -20.6h-23.6zM1036.3 1159.9l11.8 -20.6h-23.6zM1036.9 1161.2l11.8 -20.6h-23.6zM1037.5 1162.4l11.8 -20.6h-23.6zM1038.2 1163.7l11.8 -20.6h-23.6zM1038.9 1164.9l11.8 -20.6h-23.6zM1039.5 1166.2l11.8 -20.6h-23.6zM1040.2 1167.4l11.8 -20.6h-23.6zM1040.8 1168.7l11.8 -20.6h-23.6zM1041.5 1169.9l11.8 -20.6h-23.6zM1042.1 1171.2l11.8 -20.6h-23.6zM1042.8 1172.4l11.8 -20.6h-23.6zM1043.4 1173.7l11.8 -20.6h-23.6zM1044.1 1175l11.8 -20.6h-23.6zM1044.7 1176.2l11.8 -20.6h-23.6zM1045.3 1177.5l11.8 -20.6h-23.6zM1046 1178.7l11.8 -20.6h-23.6zM1046.6 1180l11.8 -20.6h-23.6zM1047.3 1181.2l11.8 -20.6h-23.6zM1047.9 1182.5l11.8 -20.6h-23.6zM1048.6 1183.7l11.8 -20.6h-23.6zM1049.2 1185l11.8 -20.6h-23.6zM1049.8 1186.2l11.8 -20.6h-23.6zM1050.4 1187.5l11.8 -20.6h-23.6zM1051.1 1188.8l11.8 -20.6h-23.6zM1051.7 1190l11.8 -20.6h-23.6zM1052.3 1191.3l11.8 -20.6h-23.6zM1052.9 1192.5l11.8 -20.6h-23.6zM1053.5 1193.8l11.8 -20.6h-23.6zM1054.1 1195l11.8 -20.6h-23.6zM1054.7 1196.3l11.8 -20.6h-23.6zM1055.3 1197.5l11.8 -20.6h-23.6zM1055.9 1198.8l11.8 -20.6h-23.6zM1056.5 1200l11.8 -20.6h-23.6zM1057.1 1201.3l11.8 -20.6h-23.6zM1057.7 1202.6l11.8 -20.6h-23.6zM1058.3 1203.8l11.8 -20.6h-23.6zM1058.8 1205.1l11.8 -20.6h-23.6zM1059.4 1206.3l11.8 -20.6h-23.6zM1060 1207.6l11.8 -20.6h-23.6zM1060.5 1208.8l11.8 -20.6h-23.6zM1061.1 1210.1l11.8 -20.6h-23.6zM1061.6 1211.3l11.8 -20.6h-23.6zM1062.1 1212.6l11.8 -20.6h-23.6zM1062.7 1213.8l11.8 -20.6h-23.6zM1063.2 1215.1l11.8 -20.6h-23.6zM1063.7 1216.3l11.8 -20.6h-23.6zM1064.2 1217.6l11.8 -20.6h-23.6zM1064.7 1218.9l11.8 -20.6h-23.6zM1065.2 1220.1l11.8 -20.6h-23.6zM1065.7 1221.4l11.8 -20.6h-23.6zM1066.2 1222.6l11.8 -20.6h-23.6zM1066.7 1223.9l11.8 -20.6h-23.6zM1067.2 1225.1l11.8 -20.6h-23.6zM1067.7 1226.4l11.8 -20.6h-23.6zM1068.1 1227.6l11.8 -20.6h-23.6zM1068.6 1228.9l11.8 -20.6h-23.6zM1069 1230.1l11.8 -20.6h-23.6zM1069.5 1231.4l11.8 -20.6h-23.6zM1070 1232.7l11.8 -20.6h-23.6zM1070.4 1233.9l11.8 -20.6h-23.6zM1070.8 1235.2l11.8 -20.6h-23.6zM1071.3 1236.4l11.8 -20.6h-23.6zM1071.7 1237.7l11.8 -20.6h-23.6zM1072.1 1238.9l11.8 -20.6h-23.6zM1072.5 1240.2l11.8 -20.6h-23.6zM1073 1241.4l11.8 -20.6h-23.6zM1073.4 1242.7l11.8 -20.6h-23.6zM1073.8 1243.9l11.8 -20.6h-23.6zM1074.2 1245.2l11.8 -20.6h-23.6zM1074.6 1246.5l11.8 -20.6h-23.6zM1075 1247.7l11.8 -20.6h-23.6zM1075.4 1249l11.8 -20.6h-23.6zM1075.8 1250.2l11.8 -20.6h-23.6zM1076.2 1251.5l11.8 -20.6h-23.6zM1076.5 1252.7l11.8 -20.6h-23.6zM1076.9 1254l11.8 -20.6h-23.6zM1077.3 1255.2l11.8 -20.6h-23.6zM1077.7 1256.5l11.8 -20.6h-23.6zM1078 1257.7l11.8 -20.6h-23.6zM1078.4 1259l11.8 -20.6h-23.6zM1078.8 1260.3l11.8 -20.6h-23.6zM1079.1 1261.5l11.8 -20.6h-23.6zM1079.5 1262.8l11.8 -20.6h-23.6zM1079.8 1264l11.8 -20.6h-23.6zM1080.2 1265.3l11.8 -20.6h-23.6zM1080.5 1266.5l11.8 -20.6h-23.6zM1080.9 1267.8l11.8 -20.6h-23.6zM1081.2 1269l11.8 -20.6h-23.6zM1081.5 1270.3l11.8 -20.6h-23.6zM1081.9 1271.5l11.8 -20.6h-23.6zM1082.2 1272.8l11.8 -20.6h-23.6zM1082.5 1274l11.8 -20.6h-23.6zM1082.9 1275.3l11.8 -20.6h-23.6zM1083.2 1276.6l11.8 -20.6h-23.6zM1083.5 1277.8l11.8 -20.6h-23.6zM1083.8 1279.1l11.8 -20.6h-23.6zM1084.1 1280.3l11.8 -20.6h-23.6zM1084.5 1281.6l11.8 -20.6h-23.6zM1084.8 1282.8l11.8 -20.6h-23.6zM1085.1 1284.1l11.8 -20.6h-23.6zM1085.4 1285.3l11.8 -20.6h-23.6zM1085.7 1286.6l11.8 -20.6h-23.6zM1086 1287.8l11.8 -20.6h-23.6zM1086.3 1289.1l11.8 -20.6h-23.6zM1086.6 1290.4l11.8 -20.6h-23.6zM1086.9 1291.6l11.8 -20.6h-23.6zM1087.2 1292.9l11.8 -20.6h-23.6zM1087.5 1294.1l11.8 -20.6h-23.6zM1087.8 1295.4l11.8 -20.6h-23.6zM1088.1 1296.6l11.8 -20.6h-23.6zM1088.4 1297.9l11.8 -20.6h-23.6zM1088.7 1299.1l11.8 -20.6h-23.6zM1088.9 1300.4l11.8 -20.6h-23.6zM1089.2 1301.6l11.8 -20.6h-23.6zM1089.5 1302.9l11.8 -20.6h-23.6zM1089.8 1304.2l11.8 -20.6h-23.6zM1090.1 1305.4l11.8 -20.6h-23.6zM1090.4 1306.7l11.8 -20.6h-23.6zM1090.6 1307.9l11.8 -20.6h-23.6zM1090.9 1309.2l11.8 -20.6h-23.6zM1091.2 1310.4l11.8 -20.6h-23.6zM1091.5 1311.7l11.8 -20.6h-23.6zM1091.8 1312.9l11.8 -20.6h-23.6zM1092 1314.2l11.8 -20.6h-23.6zM1092.3 1315.4l11.8 -20.6h-23.6zM1092.6 1316.7l11.8 -20.6h-23.6zM1092.8 1318l11.8 -20.6h-23.6zM1093.1 1319.2l11.8 -20.6h-23.6zM1093.4 1320.5l11.8 -20.6h-23.6zM1093.7 1321.7l11.8 -20.6h-23.6zM1093.9 1323l11.8 -20.6h-23.6zM1094.2 1324.2l11.8 -20.6h-23.6zM1094.5 1325.5l11.8 -20.6h-23.6zM1094.7 1326.7l11.8 -20.6h-23.6zM1095 1328l11.8 -20.6h-23.6zM1095.3 1329.2l11.8 -20.6h-23.6zM1095.6 1330.5l11.8 -20.6h-23.6zM1095.8 1331.7l11.8 -20.6h-23.6zM1096.1 1333l11.8 -20.6h-23.6zM1096.4 1334.3l11.8 -20.6h-23.6zM1096.6 1335.5l11.8 -20.6h-23.6zM1096.9 1336.8l11.8 -20.6h-23.6zM1097.2 1338l11.8 -20.6h-23.6zM1097.4 1339.3l11.8 -20.6h-23.6zM1097.7 1340.5l11.8 -20.6h-23.6zM1098 1341.8l11.8 -20.6h-23.6zM1098.3 1343l11.8 -20.6h-23.6zM1098.5 1344.3l11.8 -20.6h-23.6zM1098.8 1345.5l11.8 -20.6h-23.6zM1099.1 1346.8l11.8 -20.6h-23.6zM1099.3 1348.1l11.8 -20.6h-23.6zM1099.6 1349.3l11.8 -20.6h-23.6zM1099.9 1350.6l11.8 -20.6h-23.6zM1100.2 1351.8l11.8 -20.6h-23.6zM1100.4 1353.1l11.8 -20.6h-23.6zM1100.7 1354.3l11.8 -20.6h-23.6zM1101 1355.6l11.8 -20.6h-23.6zM1101.3 1356.8l11.8 -20.6h-23.6zM1101.5 1358.1l11.8 -20.6h-23.6zM1101.8 1359.3l11.8 -20.6h-23.6zM1102.1 1360.6l11.8 -20.6h-23.6zM1102.4 1361.9l11.8 -20.6h-23.6zM1102.7 1363.1l11.8 -20.6h-23.6zM1102.9 1364.4l11.8 -20.6h-23.6zM1103.2 1365.6l11.8 -20.6h-23.6zM1103.5 1366.9l11.8 -20.6h-23.6zM1103.8 1368.1l11.8 -20.6h-23.6zM1104.1 1369.4l11.8 -20.6h-23.6zM1104.3 1370.6l11.8 -20.6h-23.6zM1104.6 1371.9l11.8 -20.6h-23.6zM1104.9 1373.1l11.8 -20.6h-23.6zM1105.2 1374.4l11.8 -20.6h-23.6zM1105.5 1375.6l11.8 -20.6h-23.6zM1105.7 1376.9l11.8 -20.6h-23.6zM1106 1378.2l11.8 -20.6h-23.6zM1106.3 1379.4l11.8 -20.6h-23.6zM1106.6 1380.7l11.8 -20.6h-23.6zM1106.9 1381.9l11.8 -20.6h-23.6zM1107.2 1383.2l11.8 -20.6h-23.6zM1107.4 1384.4l11.8 -20.6h-23.6zM1107.7 1385.7l11.8 -20.6h-23.6zM1108 1386.9l11.8 -20.6h-23.6zM1108.3 1388.2l11.8 -20.6h-23.6zM1108.6 1389.4l11.8 -20.6h-23.6zM1108.9 1390.7l11.8 -20.6h-23.6zM1109.2 1392l11.8 -20.6h-23.6zM1109.5 1393.2l11.8 -20.6h-23.6zM1109.7 1394.5l11.8 -20.6h-23.6zM1110 1395.7l11.8 -20.6h-23.6zM1110.3 1397l11.8 -20.6h-23.6zM1110.6 1398.2l11.8 -20.6h-23.6zM1110.9 1399.5l11.8 -20.6h-23.6zM1111.2 1400.7l11.8 -20.6h-23.6zM1111.5 1402l11.8 -20.6h-23.6zM1111.8 1403.2l11.8 -20.6h-23.6zM1112.1 1404.5l11.8 -20.6h-23.6zM1112.4 1405.8l11.8 -20.6h-23.6zM1112.6 1407l11.8 -20.6h-23.6zM1112.9 1408.3l11.8 -20.6h-23.6zM1113.2 1409.5l11.8 -20.6h-23.6zM1113.5 1410.8l11.8 -20.6h-23.6zM1113.8 1412l11.8 -20.6h-23.6zM1114.1 1413.3l11.8 -20.6h-23.6zM1114.4 1414.5l11.8 -20.6h-23.6zM1114.7 1415.8l11.8 -20.6h-23.6zM1115 1417l11.8 -20.6h-23.6zM1115.3 1418.3l11.8 -20.6h-23.6zM1115.6 1419.6l11.8 -20.6h-23.6zM1115.9 1420.8l11.8 -20.6h-23.6zM1116.2 1422.1l11.8 -20.6h-23.6zM1116.5 1423.3l11.8 -20.6h-23.6zM1116.8 1424.6l11.8 -20.6h-23.6zM1117.1 1425.8l11.8 -20.6h-23.6zM1117.4 1427.1l11.8 -20.6h-23.6zM1117.7 1428.3l11.8 -20.6h-23.6zM1118 1429.6l11.8 -20.6h-23.6zM1118.3 1430.8l11.8 -20.6h-23.6zM1118.6 1432.1l11.8 -20.6h-23.6zM1118.9 1433.3l11.8 -20.6h-23.6zM1119.2 1434.6l11.8 -20.6h-23.6zM1119.5 1435.9l11.8 -20.6h-23.6zM1119.8 1437.1l11.8 -20.6h-23.6zM1120.1 1438.4l11.8 -20.6h-23.6zM1120.4 1439.6l11.8 -20.6h-23.6zM1120.7 1440.9l11.8 -20.6h-23.6zM1121 1442.1l11.8 -20.6h-23.6zM1121.3 1443.4l11.8 -20.6h-23.6zM1121.6 1444.6l11.8 -20.6h-23.6zM1121.9 1445.9l11.8 -20.6h-23.6zM1122.2 1447.1l11.8 -20.6h-23.6zM1122.5 1448.4l11.8 -20.6h-23.6zM1122.9 1449.7l11.8 -20.6h-23.6zM1123.2 1450.9l11.8 -20.6h-23.6zM1123.5 1452.2l11.8 -20.6h-23.6zM1123.8 1453.4l11.8 -20.6h-23.6zM1124.1 1454.7l11.8 -20.6h-23.6zM1124.4 1455.9l11.8 -20.6h-23.6zM1124.7 1457.2l11.8 -20.6h-23.6zM1125 1458.4l11.8 -20.6h-23.6zM1125.3 1459.7l11.8 -20.6h-23.6zM1125.6 1460.9l11.8 -20.6h-23.6zM1126 1462.2l11.8 -20.6h-23.6zM1126.3 1463.5l11.8 -20.6h-23.6zM1126.6 1464.7l11.8 -20.6h-23.6zM1126.9 1466l11.8 -20.6h-23.6zM1127.2 1467.2l11.8 -20.6h-23.6zM1127.5 1468.5l11.8 -20.6h-23.6zM1127.8 1469.7l11.8 -20.6h-23.6zM1128.1 1471l11.8 -20.6h-23.6zM1128.5 1472.2l11.8 -20.6h-23.6zM1128.8 1473.5l11.8 -20.6h-23.6zM1129.1 1474.7l11.8 -20.6h-23.6zM1129.4 1476l11.8 -20.6h-23.6zM1129.7 1477.3l11.8 -20.6h-23.6zM1130 1478.5l11.8 -20.6h-23.6zM1130.4 1479.8l11.8 -20.6h-23.6zM1130.7 1481l11.8 -20.6h-23.6zM1131 1482.3l11.8 -20.6h-23.6zM1131.3 1483.5l11.8 -20.6h-23.6zM1131.6 1484.8l11.8 -20.6h-23.6zM1132 1486l11.8 -20.6h-23.6zM1132.3 1487.3l11.8 -20.6h-23.6zM1132.6 1488.5l11.8 -20.6h-23.6zM1132.9 1489.8l11.8 -20.6h-23.6zM1133.2 1491l11.8 -20.6h-23.6zM1133.6 1492.3l11.8 -20.6h-23.6zM1133.9 1493.6l11.8 -20.6h-23.6zM1134.2 1494.8l11.8 -20.6h-23.6zM1134.5 1496.1l11.8 -20.6h-23.6zM1134.9 1497.3l11.8 -20.6h-23.6zM1135.2 1498.6l11.8 -20.6h-23.6zM1135.5 1499.8l11.8 -20.6h-23.6zM1135.8 1501.1l11.8 -20.6h-23.6zM1136.2 1502.3l11.8 -20.6h-23.6zM1136.5 1503.6l11.8 -20.6h-23.6zM1136.8 1504.8l11.8 -20.6h-23.6zM1137.1 1506.1l11.8 -20.6h-23.6zM1137.5 1507.4l11.8 -20.6h-23.6zM1137.8 1508.6l11.8 -20.6h-23.6zM1138.1 1509.9l11.8 -20.6h-23.6zM1138.5 1511.1l11.8 -20.6h-23.6zM1138.8 1512.4l11.8 -20.6h-23.6zM1139.1 1513.6l11.8 -20.6h-23.6zM1139.4 1514.9l11.8 -20.6h-23.6zM1139.8 1516.1l11.8 -20.6h-23.6zM1140.1 1517.4l11.8 -20.6h-23.6zM1140.4 1518.6l11.8 -20.6h-23.6zM1140.8 1519.9l11.8 -20.6h-23.6zM1141.1 1521.2l11.8 -20.6h-23.6zM1141.4 1522.4l11.8 -20.6h-23.6zM1141.8 1523.7l11.8 -20.6h-23.6zM1142.1 1524.9l11.8 -20.6h-23.6zM1142.4 1526.2l11.8 -20.6h-23.6zM1142.8 1527.4l11.8 -20.6h-23.6zM1143.1 1528.7l11.8 -20.6h-23.6zM1143.4 1529.9l11.8 -20.6h-23.6zM1143.8 1531.2l11.8 -20.6h-23.6zM1144.1 1532.4l11.8 -20.6h-23.6zM1144.5 1533.7l11.8 -20.6h-23.6zM1144.8 1535l11.8 -20.6h-23.6zM1145.1 1536.2l11.8 -20.6h-23.6zM1145.5 1537.5l11.8 -20.6h-23.6zM1145.8 1538.7l11.8 -20.6h-23.6zM1146.1 1540l11.8 -20.6h-23.6zM1146.5 1541.2l11.8 -20.6h-23.6zM1146.8 1542.5l11.8 -20.6h-23.6zM1147.2 1543.7l11.8 -20.6h-23.6zM1147.5 1545l11.8 -20.6h-23.6zM1147.8 1546.2l11.8 -20.6h-23.6zM1148.2 1547.5l11.8 -20.6h-23.6zM1148.5 1548.7l11.8 -20.6h-23.6zM1148.9 1550l11.8 -20.6h-23.6zM1149.2 1551.3l11.8 -20.6h-23.6zM1149.6 1552.5l11.8 -20.6h-23.6zM1149.9 1553.8l11.8 -20.6h-23.6zM1150.3 1555l11.8 -20.6h-23.6zM1150.6 1556.3l11.8 -20.6h-23.6zM1150.9 1557.5l11.8 -20.6h-23.6zM1151.3 1558.8l11.8 -20.6h-23.6zM1151.6 1560l11.8 -20.6h-23.6zM1152 1561.3l11.8 -20.6h-23.6zM1152.3 1562.5l11.8 -20.6h-23.6zM1152.7 1563.8l11.8 -20.6h-23.6zM1153 1565.1l11.8 -20.6h-23.6zM1153.4 1566.3l11.8 -20.6h-23.6zM1153.7 1567.6l11.8 -20.6h-23.6zM1154.1 1568.8l11.8 -20.6h-23.6zM1154.4 1570.1l11.8 -20.6h-23.6zM1154.8 1571.3l11.8 -20.6h-23.6zM1155.1 1572.6l11.8 -20.6h-23.6zM1155.5 1573.8l11.8 -20.6h-23.6zM1155.8 1575.1l11.8 -20.6h-23.6zM1156.2 1576.3l11.8 -20.6h-23.6zM1156.5 1577.6l11.8 -20.6h-23.6zM1156.9 1578.9l11.8 -20.6h-23.6zM1157.2 1580.1l11.8 -20.6h-23.6zM1157.6 1581.4l11.8 -20.6h-23.6zM1158 1582.6l11.8 -20.6h-23.6zM1158.3 1583.9l11.8 -20.6h-23.6zM1158.7 1585.1l11.8 -20.6h-23.6zM1159 1586.3l11.8 -20.6h-23.6zM401.1 784.6l11.8 -20.6h-23.6zM406.4 787.8l11.8 -20.6h-23.6zM543.5 783.6l11.8 -20.6h-23.6zM564.2 790.3l11.8 -20.6h-23.6zM643.5 780.2l11.8 -20.6h-23.6zM639.1 792.2l11.8 -20.6h-23.6zM688 795.4l11.8 -20.6h-23.6zM701.4 777l11.8 -20.6h-23.6zM742 774.9l11.8 -20.6h-23.6zM778 772.8l11.8 -20.6h-23.6zM807.4 770.6l11.8 -20.6h-23.6zM833.7 767.8l11.8 -20.6h-23.6zM856.5 765.6l11.8 -20.6h-23.6zM876.4 763.5l11.8 -20.6h-23.6zM727 797.7l11.8 -20.6h-23.6zM755.5 799.8l11.8 -20.6h-23.6zM779.7 801.9l11.8 -20.6h-23.6zM799.6 804.1l11.8 -20.6h-23.6zM816.6 806.9l11.8 -20.6h-23.6zM832.3 809l11.8 -20.6h-23.6zM846.5 811.2l11.8 -20.6h-23.6z"/>
<path fill="#FF4500" d="M1014.8 773.3l12.3 12.3l-12.3 12.3l-12.3 -12.3zM1031.3 770.8l12.3 12.3l-12.3 12.3l-12.3 -12.3zM1047 768.3l12.3 12.3l-12.3 12.3l-12.3 -12.3zM1062 765.8l12.3 12.3l-12.3 12.3l-12.3 -12.3zM1076.3 763.3l12.3 12.3l-12.3 12.3l-12.3 -12.3zM1090.1 760.7l12.3 12.3l-12.3 12.3l-12.3 -12.3zM1103.3 758.2l12.3 12.3l-12.3 12.3l-12.3 -12.3zM1116 755.7l12.3 12.3l-12.3 12.3l-12.3 -12.3zM1128.3 753.2l12.3 12.3l-12.3 12.3l-12.3 -12.3zM1140.3 750.7l12.3 12.3l-12.3 12.3l-12.3 -12.3zM1151.8 748.2l12.3 12.3l-12.3 12.3l-12.3 -12.3zM1163 745.7l12.3 12.3l-12.3 12.3l-12.3 -12.3zM1173.8 743.2l12.3 12.3l-12.3 12.3l-12.3 -12.3zM1184.4 740.7l12.3 12.3l-12.3 12.3l-12.3 -12.3zM1194.7 738.2l12.3 12.3l-12.3 12.3l-12.3 -12.3zM1204.7 735.7l12.3 12.3l-12.3 12.3l-12.3 -12.3zM1214.4 733.2l12.3 12.3l-12.3 12.3l-12.3 -12.3zM1223.9 730.6l12.3 12.3l-12.3 12.3l-12.3 -12.3zM1233.2 728.1l12.3 12.3l-12.3 12.3l-12.3 -12.3zM1242.3 725.6l12.3 12.3l-12.3 12.3l-12.3 -12.3zM1251.2 723.1l12.3 12.3l-12.3 12.3l-12.3 -12.3zM1259.9 720.6l12.3 12.3l-12.3 12.3l-12.3 -12.3zM1268.4 718.1l12.3 12.3l-12.3 12.3l-12.3 -12.3zM1276.8 715.6l12.3 12.3l-12.3 12.3l-12.3 -12.3zM1284.9 713.1l12.3 12.3l-12.3 12.3l-12.3 -12.3zM1292.9 710.6l12.3 12.3l-12.3 12.3l-12.3 -12.3zM1300.8 708.1l12.3 12.3l-12.3 12.3l-12.3 -12.3zM1308.5 705.6l12.3 12.3l-12.3 12.3l-12.3 -12.3zM1316.1 703l12.3 12.3l-12.3 12.3l-12.3 -12.3zM1323.5 700.5l12.3 12.3l-12.3 12.3l-12.3 -12.3zM1330.8 698l12.3 12.3l-12.3 12.3l-12.3 -12.3zM1338 695.5l12.3 12.3l-12.3 12.3l-12.3 -12.3zM1345.1 693l12.3 12.3l-12.3 12.3l-12.3 -12.3zM1352 690.5l12.3 12.3l-12.3 12.3l-12.3 -12.3zM1358.9 688l12.3 12.3l-12.3 12.3l-12.3 -12.3zM1365.6 685.5l12.3 12.3l-12.3 12.3l-12.3 -12.3zM1372.2 683l12.3 12.3l-12.3 12.3l-12.3 -12.3zM1378.7 680.5l12.3 12.3l-12.3 12.3l-12.3 -12.3zM1385.2 678l12.3 12.3l-12.3 12.3l-12.3 -12.3zM1391.5 675.5l12.3 12.3l-12.3 12.3l-12.3 -12.3zM1397.7 672.9l12.3 12.3l-12.3 12.3l-12.3 -12.3zM1403.9 670.4l12.3 12.3l-12.3 12.3l-12.3 -12.3zM1409.9 667.9l12.3 12.3l-12.3 12.3l-12.3 -12.3zM1415.9 665.4l12.3 12.3l-12.3 12.3l-12.3 -12.3zM1421.8 662.9l12.3 12.3l-12.3 12.3l-12.3 -12.3zM1427.6 660.4l12.3 12.3l-12.3 12.3l-12.3 -12.3zM1433.4 657.9l12.3 12.3l-12.3 12.3l-12.3 -12.3zM1439 655.4l12.3 12.3l-12.3 12.3l-12.3 -12.3zM1444.6 652.9l12.3 12.3l-12.3 12.3l-12.3 -12.3zM1450.1 650.4l12.3 12.3l-12.3 12.3l-12.3 -12.3zM1455.6 647.9l12.3 12.3l-12.3 12.3l-12.3 -12.3zM1460.9 645.3l12.3 12.3l-12.3 12.3l-12.3 -12.3zM1466.3 642.8l12.3 12.3l-12.3 12.3l-12.3 -12.3zM1471.5 640.3l12.3 12.3l-12.3 12.3l-12.3 -12.3zM1476.7 637.8l12.3 12.3l-12.3 12.3l-12.3 -12.3zM1481.8 635.3l12.3 12.3l-12.3 12.3l-12.3 -12.3zM1486.9 632.8l12.3 12.3l-12.3 12.3l-12.3 -12.3zM1491.9 630.3l12.3 12.3l-12.3 12.3l-12.3 -12.3zM1496.8 627.8l12.3 12.3l-12.3 12.3l-12.3 -12.3zM1501.7 625.3l12.3 12.3l-12.3 12.3l-12.3 -12.3zM1506.6 622.8l12.3 12.3l-12.3 12.3l-12.3 -12.3zM1511.3 620.3l12.3 12.3l-12.3 12.3l-12.3 -12.3zM1516.1 617.8l12.3 12.3l-12.3 12.3l-12.3 -12.3zM1520.7 615.2l12.3 12.3l-12.3 12.3l-12.3 -12.3zM1525.4 612.7l12.3 12.3l-12.3 12.3l-12.3 -12.3zM1529.9 610.2l12.3 12.3l-12.3 12.3l-12.3 -12.3zM1534.5 607.7l12.3 12.3l-12.3 12.3l-12.3 -12.3zM1538.9 605.2l12.3 12.3l-12.3 12.3l-12.3 -12.3zM1543.4 602.7l12.3 12.3l-12.3 12.3l-12.3 -12.3zM1547.8 600.2l12.3 12.3l-12.3 12.3l-12.3 -12.3zM1552.1 597.7l12.3 12.3l-12.3 12.3l-12.3 -12.3zM1554.3 596.4l12.3 12.3l-12.3 12.3l-12.3 -12.3zM1556.4 595.2l12.3 12.3l-12.3 12.3l-12.3 -12.3zM1558.5 593.9l12.3 12.3l-12.3 12.3l-12.3 -12.3zM1560.7 592.7l12.3 12.3l-12.3 12.3l-12.3 -12.3zM1562.8 591.4l12.3 12.3l-12.3 12.3l-12.3 -12.3zM1564.9 590.2l12.3 12.3l-12.3 12.3l-12.3 -12.3zM1567 588.9l12.3 12.3l-12.3 12.3l-12.3 -12.3zM1569 587.7l12.3 12.3l-12.3 12.3l-12.3 -12.3zM1571.1 586.4l12.3 12.3l-12.3 12.3l-12.3 -12.3zM1573.2 585.1l12.3 12.3l-12.3 12.3l-12.3 -12.3zM1575.2 583.9l12.3 12.3l-12.3 12.3l-12.3 -12.3zM1577.3 582.6l12.3 12.3l-12.3 12.3l-12.3 -12.3zM1579.3 581.4l12.3 12.3l-12.3 12.3l-12.3 -12.3zM1581.3 580.1l12.3 12.3l-12.3 12.3l-12.3 -12.3zM1583.3 578.9l12.3 12.3l-12.3 12.3l-12.3 -12.3zM1585.3 577.6l12.3 12.3l-12.3 12.3l-12.3 -12.3zM1587.3 576.4l12.3 12.3l-12.3 12.3l-12.3 -12.3zM1589.3 575.1l12.3 12.3l-12.3 12.3l-12.3 -12.3zM1591 574.1l12.3 12.3l-12.3 12.3l-12.3 -12.3zM1592.6 573l12.3 12.3l-12.3 12.3l-12.3 -12.3zM933.4 830.2l12.3 12.3l-12.3 12.3l-12.3 -12.3zM939.9 832.7l12.3 12.3l-12.3 12.3l-12.3 -12.3zM947.2 835.2l12.3 12.3l-12.3 12.3l-12.3 -12.3zM955 837.7l12.3 12.3l-12.3 12.3l-12.3 -12.3zM963.3 840.2l12.3 12.3l-12.3 12.3l-12.3 -12.3zM971.6 842.8l12.3 12.3l-12.3 12.3l-12.3 -12.3zM979.6 845.3l12.3 12.3l-12.3 12.3l-12.3 -12.3zM987 847.8l12.3 12.3l-12.3 12.3l-12.3 -12.3zM993.8 850.3l12.3 12.3l-12.3 12.3l-12.3 -12.3zM999.9 852.8l12.3 12.3l-12.3 12.3l-12.3 -12.3zM1005.3 855.3l12.3 12.3l-12.3 12.3l-12.3 -12.3zM1010.1 857.8l12.3 12.3l-12.3 12.3l-12.3 -12.3zM1012.3 859.1l12.3 12.3l-12.3 12.3l-12.3 -12.3zM1014.4 860.3l12.3 12.3l-12.3 12.3l-12.3 -12.3zM1016.4 861.6l12.3 12.3l-12.3 12.3l-12.3 -12.3zM1018.2 862.8l12.3 12.3l-12.3 12.3l-12.3 -12.3zM1020 864.1l12.3 12.3l-12.3 12.3l-12.3 -12.3zM1021.8 865.3l12.3 12.3l-12.3 12.3l-12.3 -12.3zM1023.4 866.6l12.3 12.3l-12.3 12.3l-12.3 -12.3zM1025 867.8l12.3 12.3l-12.3 12.3l-12.3 -12.3zM1026.5 869.1l12.3 12.3l-12.3 12.3l-12.3 -12.3zM1028 870.3l12.3 12.3l-12.3 12.3l-12.3 -12.3zM1029.4 871.6l12.3 12.3l-12.3 12.3l-12.3 -12.3zM1030.7 872.9l12.3 12.3l-12.3 12.3l-12.3 -12.3zM1032 874.1l12.3 12.3l-12.3 12.3l-12.3 -12.3zM1033.3 875.4l12.3 12.3l-12.3 12.3l-12.3 -12.3zM1034.5 876.6l12.3 12.3l-12.3 12.3l-12.3 -12.3zM1035.7 877.9l12.3 12.3l-12.3 12.3l-12.3 -12.3zM1036.8 879.1l12.3 12.3l-12.3 12.3l-12.3 -12.3zM1037.9 880.4l12.3 12.3l-12.3 12.3l-12.3 -12.3zM1038.9 881.6l12.3 12.3l-12.3 12.3l-12.3 -12.3zM1040 882.9l12.3 12.3l-12.3 12.3l-12.3 -12.3zM1040.9 884.1l12.3 12.3l-12.3 12.3l-12.3 -12.3zM1041.9 885.4l12.3 12.3l-12.3 12.3l-12.3 -12.3zM1042.8 886.7l12.3 12.3l-12.3 12.3l-12.3 -12.3zM1043.7 887.9l12.3 12.3l-12.3 12.3l-12.3 -12.3zM1044.6 889.2l12.3 12.3l-12.3 12.3l-12.3 -12.3zM1045.4 890.4l12.3 12.3l-12.3 12.3l-12.3 -12.3zM1046.2 891.7l12.3 12.3l-12.3 12.3l-12.3 -12.3zM1047 892.9l12.3 12.3l-12.3 12.3l-12.3 -12.3zM1047.7 894.2l12.3 12.3l-12.3 12.3l-12.3 -12.3zM1048.5 895.4l12.3 12.3l-12.3 12.3l-12.3 -12.3zM1049.2 896.7l12.3 12.3l-12.3 12.3l-12.3 -12.3zM1049.9 897.9l12.3 12.3l-12.3 12.3l-12.3 -12.3zM1050.5 899.2l12.3 12.3l-12.3 12.3l-12.3 -12.3zM1051.2 900.5l12.3 12.3l-12.3 12.3l-12.3 -12.3zM1051.8 901.7l12.3 12.3l-12.3 12.3l-12.3 -12.3zM1052.4 903l12.3 12.3l-12.3 12.3l-12.3 -12.3zM1052.9 904.2l12.3 12.3l-12.3 12.3l-12.3 -12.3zM1053.5 905.5l12.3 12.3l-12.3 12.3l-12.3 -12.3zM1054 906.7l12.3 12.3l-12.3 12.3l-12.3 -12.3zM1054.5 908l12.3 12.3l-12.3 12.3l-12.3 -12.3zM1055 909.2l12.3 12.3l-12.3 12.3l-12.3 -12.3zM1055.5 910.5l12.3 12.3l-12.3 12.3l-12.3 -12.3zM1055.9 911.7l12.3 12.3l-12.3 12.3l-12.3 -12.3zM1056.3 913l12.3 12.3l-12.3 12.3l-12.3 -12.3zM1056.8 914.2l12.3 12.3l-12.3 12.3l-12.3 -12.3zM1057.1 915.5l12.3 12.3l-12.3 12.3l-12.3 -12.3zM1057.5 916.8l12.3 12.3l-12.3 12.3l-12.3 -12.3zM1057.9 918l12.3 12.3l-12.3 12.3l-12.3 -12.3zM1058.2 919.3l12.3 12.3l-12.3 12.3l-12.3 -12.3zM1058.5 920.5l12.3 12.3l-12.3 12.3l-12.3 -12.3zM1058.8 921.8l12.3 12.3l-12.3 12.3l-12.3 -12.3zM1059.1 923l12.3 12.3l-12.3 12.3l-12.3 -12.3zM1059.4 924.3l12.3 12.3l-12.3 12.3l-12.3 -12.3zM1059.7 925.5l12.3 12.3l-12.3 12.3l-12.3 -12.3zM1059.9 926.8l12.3 12.3l-12.3 12.3l-12.3 -12.3zM1060.1 928l12.3 12.3l-12.3 12.3l-12.3 -12.3zM1060.4 929.3l12.3 12.3l-12.3 12.3l-12.3 -12.3zM1060.6 930.6l12.3 12.3l-12.3 12.3l-12.3 -12.3zM1060.8 931.8l12.3 12.3l-12.3 12.3l-12.3 -12.3zM1060.9 933.1l12.3 12.3l-12.3 12.3l-12.3 -12.3zM1061.1 934.3l12.3 12.3l-12.3 12.3l-12.3 -12.3zM1061.3 935.6l12.3 12.3l-12.3 12.3l-12.3 -12.3zM1061.4 936.8l12.3 12.3l-12.3 12.3l-12.3 -12.3zM1061.5 938.1l12.3 12.3l-12.3 12.3l-12.3 -12.3zM1061.7 939.3l12.3 12.3l-12.3 12.3l-12.3 -12.3zM1061.8 940.6l12.3 12.3l-12.3 12.3l-12.3 -12.3zM1061.9 941.8l12.3 12.3l-12.3 12.3l-12.3 -12.3zM1062 943.1l12.3 12.3l-12.3 12.3l-12.3 -12.3zM1062 944.4l12.3 12.3l-12.3 12.3l-12.3 -12.3zM1062.1 945.6l12.3 12.3l-12.3 12.3l-12.3 -12.3zM1062.2 946.9l12.3 12.3l-12.3 12.3l-12.3 -12.3zM1062.2 948.1l12.3 12.3l-12.3 12.3l-12.3 -12.3zM1062.3 949.4l12.3 12.3l-12.3 12.3l-12.3 -12.3zM1062.3 950.6l12.3 12.3l-12.3 12.3l-12.3 -12.3zM1062.3 951.9l12.3 12.3l-12.3 12.3l-12.3 -12.3zM1062.3 953.1l12.3 12.3l-12.3 12.3l-12.3 -12.3zM1062.4 954.4l12.3 12.3l-12.3 12.3l-12.3 -12.3zM1062.4 955.6l12.3 12.3l-12.3 12.3l-12.3 -12.3zM1062.4 956.9l12.3 12.3l-12.3 12.3l-12.3 -12.3zM1062.3 958.2l12.3 12.3l-12.3 12.3l-12.3 -12.3zM1062.3 959.4l12.3 12.3l-12.3 12.3l-12.3 -12.3zM1062.3 960.7l12.3 12.3l-12.3 12.3l-12.3 -12.3zM1062.3 961.9l12.3 12.3l-12.3 12.3l-12.3 -12.3zM1062.2 963.2l12.3 12.3l-12.3 12.3l-12.3 -12.3zM1062.2 964.4l12.3 12.3l-12.3 12.3l-12.3 -12.3zM1062.1 965.7l12.3 12.3l-12.3 12.3l-12.3 -12.3zM1062.1 966.9l12.3 12.3l-12.3 12.3l-12.3 -12.3zM1062 968.2l12.3 12.3l-12.3 12.3l-12.3 -12.3zM1061.9 969.4l12.3 12.3l-12.3 12.3l-12.3 -12.3zM1061.8 970.7l12.3 12.3l-12.3 12.3l-12.3 -12.3zM1061.7 971.9l12.3 12.3l-12.3 12.3l-12.3 -12.3zM1061.7 973.2l12.3 12.3l-12.3 12.3l-12.3 -12.3zM1061.6 974.5l12.3 12.3l-12.3 12.3l-12.3 -12.3zM1061.5 975.7l12.3 12.3l-12.3 12.3l-12.3 -12.3zM1061.4 977l12.3 12.3l-12.3 12.3l-12.3 -12.3zM1061.2 978.2l12.3 12.3l-12.3 12.3l-12.3 -12.3zM1061.1 979.5l12.3 12.3l-12.3 12.3l-12.3 -12.3zM1061 980.7l12.3 12.3l-12.3 12.3l-12.3 -12.3zM1060.9 982l12.3 12.3l-12.3 12.3l-12.3 -12.3zM1060.8 983.2l12.3 12.3l-12.3 12.3l-12.3 -12.3zM1060.6 984.5l12.3 12.3l-12.3 12.3l-12.3 -12.3zM1060.5 985.7l12.3 12.3l-12.3 12.3l-12.3 -12.3zM1060.3 987l12.3 12.3l-12.3 12.3l-12.3 -12.3zM1060.2 988.3l12.3 12.3l-12.3 12.3l-12.3 -12.3zM1060.1 989.5l12.3 12.3l-12.3 12.3l-12.3 -12.3zM1059.9 990.8l12.3 12.3l-12.3 12.3l-12.3 -12.3zM1059.8 992l12.3 12.3l-12.3 12.3l-12.3 -12.3zM1059.6 993.3l12.3 12.3l-12.3 12.3l-12.3 -12.3zM1059.4 994.5l12.3 12.3l-12.3 12.3l-12.3 -12.3zM1059.3 995.8l12.3 12.3l-12.3 12.3l-12.3 -12.3zM1059.1 997l12.3 12.3l-12.3 12.3l-12.3 -12.3zM1058.9 998.3l12.3 12.3l-12.3 12.3l-12.3 -12.3zM1058.8 999.5l12.3 12.3l-12.3 12.3l-12.3 -12.3zM1058.6 1000.8l12.3 12.3l-12.3 12.3l-12.3 -12.3zM1058.4 1002.1l12.3 12.3l-12.3 12.3l-12.3 -12.3zM1058.2 1003.3l12.3 12.3l-12.3 12.3l-12.3 -12.3zM1058 1004.6l12.3 12.3l-12.3 12.3l-12.3 -12.3zM1057.8 1005.8l12.3 12.3l-12.3 12.3l-12.3 -12.3zM1057.7 1007.1l12.3 12.3l-12.3 12.3l-12.3 -12.3zM1057.5 1008.3l12.3 12.3l-12.3 12.3l-12.3 -12.3zM1057.3 1009.6l12.3 12.3l-12.3 12.3l-12.3 -12.3zM1057.1 1010.8l12.3 12.3l-12.3 12.3l-12.3 -12.3zM1056.9 1012.1l12.3 12.3l-12.3 12.3l-12.3 -12.3zM1056.7 1013.3l12.3 12.3l-12.3 12.3l-12.3 -12.3zM1056.5 1014.6l12.3 12.3l-12.3 12.3l-12.3 -12.3zM1056.2 1015.8l12.3 12.3l-12.3 12.3l-12.3 -12.3zM1056 1017.1l12.3 12.3l-12.3 12.3l-12.3 -12.3zM1055.8 1018.4l12.3 12.3l-12.3 12.3l-12.3 -12.3zM1055.6 1019.6l12.3 12.3l-12.3 12.3l-12.3 -12.3zM1055.4 1020.9l12.3 12.3l-12.3 12.3l-12.3 -12.3zM1055.1 1022.1l12.3 12.3l-12.3 12.3l-12.3 -12.3zM1054.9 1023.4l12.3 12.3l-12.3 12.3l-12.3 -12.3zM1054.7 1024.6l12.3 12.3l-12.3 12.3l-12.3 -12.3zM1054.5 1025.9l12.3 12.3l-12.3 12.3l-12.3 -12.3zM1054.2 1027.1l12.3 12.3l-12.3 12.3l-12.3 -12.3zM1054 1028.4l12.3 12.3l-12.3 12.3l-12.3 -12.3zM1053.7 1029.6l12.3 12.3l-12.3 12.3l-12.3 -12.3zM1053.5 1030.9l12.3 12.3l-12.3 12.3l-12.3 -12.3zM1053.2 1032.2l12.3 12.3l-12.3 12.3l-12.3 -12.3zM1053 1033.4l12.3 12.3l-12.3 12.3l-12.3 -12.3zM1052.7 1034.7l12.3 12.3l-12.3 12.3l-12.3 -12.3zM1052.5 1035.9l12.3 12.3l-12.3 12.3l-12.3 -12.3zM1052.2 1037.2l12.3 12.3l-12.3 12.3l-12.3 -12.3zM1052 1038.4l12.3 12.3l-12.3 12.3l-12.3 -12.3zM1051.7 1039.7l12.3 12.3l-12.3 12.3l-12.3 -12.3zM1051.4 1040.9l12.3 12.3l-12.3 12.3l-12.3 -12.3zM1051.2 1042.2l12.3 12.3l-12.3 12.3l-12.3 -12.3zM1050.9 1043.4l12.3 12.3l-12.3 12.3l-12.3 -12.3zM1050.6 1044.7l12.3 12.3l-12.3 12.3l-12.3 -12.3zM1050.4 1046l12.3 12.3l-12.3 12.3l-12.3 -12.3zM1050.1 1047.2l12.3 12.3l-12.3 12.3l-12.3 -12.3zM1049.8 1048.5l12.3 12.3l-12.3 12.3l-12.3 -12.3zM1049.5 1049.7l12.3 12.3l-12.3 12.3l-12.3 -12.3zM1049.2 1051l12.3 12.3l-12.3 12.3l-12.3 -12.3zM1049 1052.2l12.3 12.3l-12.3 12.3l-12.3 -12.3zM1048.7 1053.5l12.3 12.3l-12.3 12.3l-12.3 -12.3zM1048.4 1054.7l12.3 12.3l-12.3 12.3l-12.3 -12.3zM1048.1 1056l12.3 12.3l-12.3 12.3l-12.3 -12.3zM1047.8 1057.2l12.3 12.3l-12.3 12.3l-12.3 -12.3zM1047.5 1058.5l12.3 12.3l-12.3 12.3l-12.3 -12.3zM1047.2 1059.8l12.3 12.3l-12.3 12.3l-12.3 -12.3zM1046.9 1061l12.3 12.3l-12.3 12.3l-12.3 -12.3zM1046.6 1062.3l12.3 12.3l-12.3 12.3l-12.3 -12.3zM1046.3 1063.5l12.3 12.3l-12.3 12.3l-12.3 -12.3zM1046 1064.8l12.3 12.3l-12.3 12.3l-12.3 -12.3zM1045.7 1066l12.3 12.3l-12.3 12.3l-12.3 -12.3zM1045.4 1067.3l12.3 12.3l-12.3 12.3l-12.3 -12.3zM1045.1 1068.5l12.3 12.3l-12.3 12.3l-12.3 -12.3zM1044.8 1069.8l12.3 12.3l-12.3 12.3l-12.3 -12.3zM1044.5 1071l12.3 12.3l-12.3 12.3l-12.3 -12.3zM1044.2 1072.3l12.3 12.3l-12.3 12.3l-12.3 -12.3zM1043.9 1073.5l12.3 12.3l-12.3 12.3l-12.3 -12.3zM1043.5 1074.8l12.3 12.3l-12.3 12.3l-12.3 -12.3zM1043.2 1076.1l12.3 12.3l-12.3 12.3l-12.3 -12.3zM1042.9 1077.3l12.3 12.3l-12.3 12.3l-12.3 -12.3zM1042.6 1078.6l12.3 12.3l-12.3 12.3l-12.3 -12.3zM1042.3 1079.8l12.3 12.3l-12.3 12.3l-12.3 -12.3zM1042 1081.1l12.3 12.3l-12.3 12.3l-12.3 -12.3zM1041.8 1082.3l12.3 12.3l-12.3 12.3l-12.3 -12.3zM1041.5 1083.6l12.3 12.3l-12.3 12.3l-12.3 -12.3zM1041.2 1084.8l12.3 12.3l-12.3 12.3l-12.3 -12.3zM1040.9 1086.1l12.3 12.3l-12.3 12.3l-12.3 -12.3zM1040.6 1087.3l12.3 12.3l-12.3 12.3l-12.3 -12.3zM1040.3 1088.6l12.3 12.3l-12.3 12.3l-12.3 -12.3zM1040 1089.9l12.3 12.3l-12.3 12.3l-12.3 -12.3zM1039.8 1091.1l12.3 12.3l-12.3 12.3l-12.3 -12.3zM1039.5 1092.4l12.3 12.3l-12.3 12.3l-12.3 -12.3zM1039.2 1093.6l12.3 12.3l-12.3 12.3l-12.3 -12.3zM1039 1094.9l12.3 12.3l-12.3 12.3l-12.3 -12.3zM1038.7 1096.1l12.3 12.3l-12.3 12.3l-12.3 -12.3zM1038.4 1097.4l12.3 12.3l-12.3 12.3l-12.3 -12.3zM1038.2 1098.6l12.3 12.3l-12.3 12.3l-12.3 -12.3zM1037.9 1099.9l12.3 12.3l-12.3 12.3l-12.3 -12.3zM1037.7 1101.1l12.3 12.3l-12.3 12.3l-12.3 -12.3zM1037.5 1102.4l12.3 12.3l-12.3 12.3l-12.3 -12.3zM1037.2 1103.7l12.3 12.3l-12.3 12.3l-12.3 -12.3zM1037 1104.9l12.3 12.3l-12.3 12.3l-12.3 -12.3zM1036.8 1106.2l12.3 12.3l-12.3 12.3l-12.3 -12.3zM1036.5 1107.4l12.3 12.3l-12.3 12.3l-12.3 -12.3zM1036.3 1108.7l12.3 12.3l-12.3 12.3l-12.3 -12.3zM1036.1 1109.9l12.3 12.3l-12.3 12.3l-12.3 -12.3zM1035.9 1111.2l12.3 12.3l-12.3 12.3l-12.3 -12.3zM1035.7 1112.4l12.3 12.3l-12.3 12.3l-12.3 -12.3zM1035.5 1113.7l12.3 12.3l-12.3 12.3l-12.3 -12.3zM1035.3 1114.9l12.3 12.3l-12.3 12.3l-12.3 -12.3zM1035.1 1116.2l12.3 12.3l-12.3 12.3l-12.3 -12.3zM1034.9 1117.5l12.3 12.3l-12.3 12.3l-12.3 -12.3zM1034.8 1118.7l12.3 12.3l-12.3 12.3l-12.3 -12.3zM1034.6 1120l12.3 12.3l-12.3 12.3l-12.3 -12.3zM1034.4 1121.2l12.3 12.3l-12.3 12.3l-12.3 -12.3zM1034.2 1122.5l12.3 12.3l-12.3 12.3l-12.3 -12.3zM1034.1 1123.7l12.3 12.3l-12.3 12.3l-12.3 -12.3zM1033.9 1125l12.3 12.3l-12.3 12.3l-12.3 -12.3zM1033.8 1126.2l12.3 12.3l-12.3 12.3l-12.3 -12.3zM1033.6 1127.5l12.3 12.3l-12.3 12.3l-12.3 -12.3zM1033.5 1128.7l12.3 12.3l-12.3 12.3l-12.3 -12.3zM1033.3 1130l12.3 12.3l-12.3 12.3l-12.3 -12.3zM1033.2 1131.2l12.3 12.3l-12.3 12.3l-12.3 -12.3zM1033.1 1132.5l12.3 12.3l-12.3 12.3l-12.3 -12.3zM1032.9 1133.8l12.3 12.3l-12.3 12.3l-12.3 -12.3zM1032.8 1135l12.3 12.3l-12.3 12.3l-12.3 -12.3zM1032.7 1136.3l12.3 12.3l-12.3 12.3l-12.3 -12.3zM1032.6 1137.5l12.3 12.3l-12.3 12.3l-12.3 -12.3zM1032.5 1138.8l12.3 12.3l-12.3 12.3l-12.3 -12.3zM1032.4 1140l12.3 12.3l-12.3 12.3l-12.3 -12.3zM1032.3 1141.3l12.3 12.3l-12.3 12.3l-12.3 -12.3zM1032.2 1142.5l12.3 12.3l-12.3 12.3l-12.3 -12.3zM1032.1 1143.8l12.3 12.3l-12.3 12.3l-12.3 -12.3zM1032 1145l12.3 12.3l-12.3 12.3l-12.3 -12.3zM1031.9 1146.3l12.3 12.3l-12.3 12.3l-12.3 -12.3zM1031.8 1147.6l12.3 12.3l-12.3 12.3l-12.3 -12.3zM1031.7 1148.8l12.3 12.3l-12.3 12.3l-12.3 -12.3zM1031.7 1150.1l12.3 12.3l-12.3 12.3l-12.3 -12.3zM1031.6 1151.3l12.3 12.3l-12.3 12.3l-12.3 -12.3zM1031.6 1152.6l12.3 12.3l-12.3 12.3l-12.3 -12.3zM1031.5 1153.8l12.3 12.3l-12.3 12.3l-12.3 -12.3zM1031.4 1155.1l12.3 12.3l-12.3 12.3l-12.3 -12.3zM1031.4 1156.3l12.3 12.3l-12.3 12.3l-12.3 -12.3zM1031.4 1157.6l12.3 12.3l-12.3 12.3l-12.3 -12.3zM1031.3 1158.8l12.3 12.3l-12.3 12.3l-12.3 -12.3zM1031.3 1160.1l12.3 12.3l-12.3 12.3l-12.3 -12.3zM1031.3 1161.4l12.3 12.3l-12.3 12.3l-12.3 -12.3zM1031.2 1162.6l12.3 12.3l-12.3 12.3l-12.3 -12.3zM1031.2 1163.9l12.3 12.3l-12.3 12.3l-12.3 -12.3zM1031.2 1165.1l12.3 12.3l-12.3 12.3l-12.3 -12.3zM1031.2 1166.4l12.3 12.3l-12.3 12.3l-12.3 -12.3zM1031.2 1167.6l12.3 12.3l-12.3 12.3l-12.3 -12.3zM1031.2 1168.9l12.3 12.3l-12.3 12.3l-12.3 -12.3zM1031.2 1170.1l12.3 12.3l-12.3 12.3l-12.3 -12.3zM1031.2 1171.4l12.3 12.3l-12.3 12.3l-12.3 -12.3zM1031.2 1172.6l12.3 12.3l-12.3 12.3l-12.3 -12.3zM1031.3 1173.9l12.3 12.3l-12.3 12.3l-12.3 -12.3zM1031.3 1175.2l12.3 12.3l-12.3 12.3l-12.3 -12.3zM1031.3 1176.4l12.3 12.3l-12.3 12.3l-12.3 -12.3zM1031.3 1177.7l12.3 12.3l-12.3 12.3l-12.3 -12.3zM1031.4 1178.9l12.3 12.3l-12.3 12.3l-12.3 -12.3zM1031.4 1180.2l12.3 12.3l-12.3 12.3l-12.3 -12.3zM1031.5 1181.4l12.3 12.3l-12.3 12.3l-12.3 -12.3zM1031.5 1182.7l12.3 12.3l-12.3 12.3l-12.3 -12.3zM1031.6 1183.9l12.3 12.3l-12.3 12.3l-12.3 -12.3zM1031.7 1185.2l12.3 12.3l-12.3 12.3l-12.3 -12.3zM1031.7 1186.4l12.3 12.3l-12.3 12.3l-12.3 -12.3zM1031.8 1187.7l12.3 12.3l-12.3 12.3l-12.3 -12.3zM1031.9 1188.9l12.3 12.3l-12.3 12.3l-12.3 -12.3zM1032 1190.2l12.3 12.3l-12.3 12.3l-12.3 -12.3zM1032.1 1191.5l12.3 12.3l-12.3 12.3l-12.3 -12.3zM1032.2 1192.7l12.3 12.3l-12.3 12.3l-12.3 -12.3zM1032.3 1194l12.3 12.3l-12.3 12.3l-12.3 -12.3zM1032.4 1195.2l12.3 12.3l-12.3 12.3l-12.3 -12.3zM1032.5 1196.5l12.3 12.3l-12.3 12.3l-12.3 -12.3zM1032.6 1197.7l12.3 12.3l-12.3 12.3l-12.3 -12.3zM1032.7 1199l12.3 12.3l-12.3 12.3l-12.3 -12.3zM1032.8 1200.2l12.3 12.3l-12.3 12.3l-12.3 -12.3zM1033 1201.5l12.3 12.3l-12.3 12.3l-12.3 -12.3zM1033.1 1202.7l12.3 12.3l-12.3 12.3l-12.3 -12.3zM1033.3 1204l12.3 12.3l-12.3 12.3l-12.3 -12.3zM1033.4 1205.3l12.3 12.3l-12.3 12.3l-12.3 -12.3zM1033.6 1206.5l12.3 12.3l-12.3 12.3l-12.3 -12.3zM1033.7 1207.8l12.3 12.3l-12.3 12.3l-12.3 -12.3zM1033.9 1209l12.3 12.3l-12.3 12.3l-12.3 -12.3zM1034.1 1210.3l12.3 12.3l-12.3 12.3l-12.3 -12.3zM1034.2 1211.5l12.3 12.3l-12.3 12.3l-12.3 -12.3zM1034.4 1212.8l12.3 12.3l-12.3 12.3l-12.3 -12.3zM1034.6 1214l12.3 12.3l-12.3 12.3l-12.3 -12.3zM1034.8 1215.3l12.3 12.3l-12.3 12.3l-12.3 -12.3zM1035 1216.5l12.3 12.3l-12.3 12.3l-12.3 -12.3zM1035.2 1217.8l12.3 12.3l-12.3 12.3l-12.3 -12.3zM1035.4 1219.1l12.3 12.3l-12.3 12.3l-12.3 -12.3zM1035.6 1220.3l12.3 12.3l-12.3 12.3l-12.3 -12.3zM1035.8 1221.6l12.3 12.3l-12.3 12.3l-12.3 -12.3zM1036.1 1222.8l12.3 12.3l-12.3 12.3l-12.3 -12.3zM1036.3 1224.1l12.3 12.3l-12.3 12.3l-12.3 -12.3zM1036.5 1225.3l12.3 12.3l-12.3 12.3l-12.3 -12.3zM1036.8 1226.6l12.3 12.3l-12.3 12.3l-12.3 -12.3zM1037 1227.8l12.3 12.3l-12.3 12.3l-12.3 -12.3zM1037.3 1229.1l12.3 12.3l-12.3 12.3l-12.3 -12.3zM1037.5 1230.3l12.3 12.3l-12.3 12.3l-12.3 -12.3zM1037.8 1231.6l12.3 12.3l-12.3 12.3l-12.3 -12.3zM1038.1 1232.8l12.3 12.3l-12.3 12.3l-12.3 -12.3zM1038.4 1234.1l12.3 12.3l-12.3 12.3l-12.3 -12.3zM1038.7 1235.4l12.3 12.3l-12.3 12.3l-12.3 -12.3zM1038.9 1236.6l12.3 12.3l-12.3 12.3l-12.3 -12.3zM1039.2 1237.9l12.3 12.3l-12.3 12.3l-12.3 -12.3zM1039.5 1239.1l12.3 12.3l-12.3 12.3l-12.3 -12.3zM1039.9 1240.4l12.3 12.3l-12.3 12.3l-12.3 -12.3zM1040.2 1241.6l12.3 12.3l-12.3 12.3l-12.3 -12.3zM1040.5 1242.9l12.3 12.3l-12.3 12.3l-12.3 -12.3zM1040.8 1244.1l12.3 12.3l-12.3 12.3l-12.3 -12.3zM1041.2 1245.4l12.3 12.3l-12.3 12.3l-12.3 -12.3zM1041.5 1246.6l12.3 12.3l-12.3 12.3l-12.3 -12.3zM1041.8 1247.9l12.3 12.3l-12.3 12.3l-12.3 -12.3zM1042.2 1249.2l12.3 12.3l-12.3 12.3l-12.3 -12.3zM1042.6 1250.4l12.3 12.3l-12.3 12.3l-12.3 -12.3zM1042.9 1251.7l12.3 12.3l-12.3 12.3l-12.3 -12.3zM1043.3 1252.9l12.3 12.3l-12.3 12.3l-12.3 -12.3zM1043.7 1254.2l12.3 12.3l-12.3 12.3l-12.3 -12.3zM1044 1255.4l12.3 12.3l-12.3 12.3l-12.3 -12.3zM1044.4 1256.7l12.3 12.3l-12.3 12.3l-12.3 -12.3zM1044.8 1257.9l12.3 12.3l-12.3 12.3l-12.3 -12.3zM1045.2 1259.2l12.3 12.3l-12.3 12.3l-12.3 -12.3zM1045.6 1260.4l12.3 12.3l-12.3 12.3l-12.3 -12.3zM1046 1261.7l12.3 12.3l-12.3 12.3l-12.3 -12.3zM1046.4 1263l12.3 12.3l-12.3 12.3l-12.3 -12.3zM1046.8 1264.2l12.3 12.3l-12.3 12.3l-12.3 -12.3zM1047.2 1265.5l12.3 12.3l-12.3 12.3l-12.3 -12.3zM1047.7 1266.7l12.3 12.3l-12.3 12.3l-12.3 -12.3zM1048.1 1268l12.3 12.3l-12.3 12.3l-12.3 -12.3zM1048.5 1269.2l12.3 12.3l-12.3 12.3l-12.3 -12.3zM1048.9 1270.5l12.3 12.3l-12.3 12.3l-12.3 -12.3zM1049.4 1271.7l12.3 12.3l-12.3 12.3l-12.3 -12.3zM1049.8 1273l12.3 12.3l-12.3 12.3l-12.3 -12.3zM1050.3 1274.2l12.3 12.3l-12.3 12.3l-12.3 -12.3zM1050.7 1275.5l12.3 12.3l-12.3 12.3l-12.3 -12.3zM1051.2 1276.8l12.3 12.3l-12.3 12.3l-12.3 -12.3zM1051.6 1278l12.3 12.3l-12.3 12.3l-12.3 -12.3zM1052.1 1279.3l12.3 12.3l-12.3 12.3l-12.3 -12.3zM1052.5 1280.5l12.3 12.3l-12.3 12.3l-12.3 -12.3zM1053 1281.8l12.3 12.3l-12.3 12.3l-12.3 -12.3zM1053.5 1283l12.3 12.3l-12.3 12.3l-12.3 -12.3zM1054 1284.3l12.3 12.3l-12.3 12.3l-12.3 -12.3zM1054.4 1285.5l12.3 12.3l-12.3 12.3l-12.3 -12.3zM1054.9 1286.8l12.3 12.3l-12.3 12.3l-12.3 -12.3zM1055.4 1288l12.3 12.3l-12.3 12.3l-12.3 -12.3zM1055.9 1289.3l12.3 12.3l-12.3 12.3l-12.3 -12.3zM1056.4 1290.5l12.3 12.3l-12.3 12.3l-12.3 -12.3zM1056.8 1291.8l12.3 12.3l-12.3 12.3l-12.3 -12.3zM1057.3 1293.1l12.3 12.3l-12.3 12.3l-12.3 -12.3zM1057.8 1294.3l12.3 12.3l-12.3 12.3l-12.3 -12.3zM1058.3 1295.6l12.3 12.3l-12.3 12.3l-12.3 -12.3zM1058.8 1296.8l12.3 12.3l-12.3 12.3l-12.3 -12.3zM1059.3 1298.1l12.3 12.3l-12.3 12.3l-12.3 -12.3zM1059.8 1299.3l12.3 12.3l-12.3 12.3l-12.3 -12.3zM1060.3 1300.6l12.3 12.3l-12.3 12.3l-12.3 -12.3zM1060.8 1301.8l12.3 12.3l-12.3 12.3l-12.3 -12.3zM1061.3 1303.1l12.3 12.3l-12.3 12.3l-12.3 -12.3zM1061.8 1304.3l12.3 12.3l-12.3 12.3l-12.3 -12.3zM1062.4 1305.6l12.3 12.3l-12.3 12.3l-12.3 -12.3zM1062.9 1306.9l12.3 12.3l-12.3 12.3l-12.3 -12.3zM1063.4 1308.1l12.3 12.3l-12.3 12.3l-12.3 -12.3zM1063.9 1309.4l12.3 12.3l-12.3 12.3l-12.3 -12.3zM1064.4 1310.6l12.3 12.3l-12.3 12.3l-12.3 -12.3zM1064.9 1311.9l12.3 12.3l-12.3 12.3l-12.3 -12.3zM1065.4 1313.1l12.3 12.3l-12.3 12.3l-12.3 -12.3zM1065.9 1314.4l12.3 12.3l-12.3 12.3l-12.3 -12.3zM1066.5 1315.6l12.3 12.3l-12.3 12.3l-12.3 -12.3zM1067 1316.9l12.3 12.3l-12.3 12.3l-12.3 -12.3zM1067.5 1318.1l12.3 12.3l-12.3 12.3l-12.3 -12.3zM1068 1319.4l12.3 12.3l-12.3 12.3l-12.3 -12.3zM1068.5 1320.7l12.3 12.3l-12.3 12.3l-12.3 -12.3zM1069 1321.9l12.3 12.3l-12.3 12.3l-12.3 -12.3zM1069.6 1323.2l12.3 12.3l-12.3 12.3l-12.3 -12.3zM1070.1 1324.4l12.3 12.3l-12.3 12.3l-12.3 -12.3zM1070.6 1325.7l12.3 12.3l-12.3 12.3l-12.3 -12.3zM1071.1 1326.9l12.3 12.3l-12.3 12.3l-12.3 -12.3zM1071.6 1328.2l12.3 12.3l-12.3 12.3l-12.3 -12.3zM1072.1 1329.4l12.3 12.3l-12.3 12.3l-12.3 -12.3zM1072.6 1330.7l12.3 12.3l-12.3 12.3l-12.3 -12.3zM1073.2 1331.9l12.3 12.3l-12.3 12.3l-12.3 -12.3zM1073.7 1333.2l12.3 12.3l-12.3 12.3l-12.3 -12.3zM1074.2 1334.5l12.3 12.3l-12.3 12.3l-12.3 -12.3zM1074.7 1335.7l12.3 12.3l-12.3 12.3l-12.3 -12.3zM1075.2 1337l12.3 12.3l-12.3 12.3l-12.3 -12.3zM1075.7 1338.2l12.3 12.3l-12.3 12.3l-12.3 -12.3zM1076.2 1339.5l12.3 12.3l-12.3 12.3l-12.3 -12.3zM1076.7 1340.7l12.3 12.3l-12.3 12.3l-12.3 -12.3zM1077.2 1342l12.3 12.3l-12.3 12.3l-12.3 -12.3zM1077.7 1343.2l12.3 12.3l-12.3 12.3l-12.3 -12.3zM1078.2 1344.5l12.3 12.3l-12.3 12.3l-12.3 -12.3zM1078.7 1345.7l12.3 12.3l-12.3 12.3l-12.3 -12.3zM1079.2 1347l12.3 12.3l-12.3 12.3l-12.3 -12.3zM1079.7 1348.2l12.3 12.3l-12.3 12.3l-12.3 -12.3zM1080.2 1349.5l12.3 12.3l-12.3 12.3l-12.3 -12.3zM1080.7 1350.8l12.3 12.3l-12.3 12.3l-12.3 -12.3zM1081.1 1352l12.3 12.3l-12.3 12.3l-12.3 -12.3zM1081.6 1353.3l12.3 12.3l-12.3 12.3l-12.3 -12.3zM1082.1 1354.5l12.3 12.3l-12.3 12.3l-12.3 -12.3zM1082.6 1355.8l12.3 12.3l-12.3 12.3l-12.3 -12.3zM1083.1 1357l12.3 12.3l-12.3 12.3l-12.3 -12.3zM1083.5 1358.3l12.3 12.3l-12.3 12.3l-12.3 -12.3zM1084 1359.5l12.3 12.3l-12.3 12.3l-12.3 -12.3zM1084.5 1360.8l12.3 12.3l-12.3 12.3l-12.3 -12.3zM1084.9 1362l12.3 12.3l-12.3 12.3l-12.3 -12.3zM1085.4 1363.3l12.3 12.3l-12.3 12.3l-12.3 -12.3zM1085.8 1364.6l12.3 12.3l-12.3 12.3l-12.3 -12.3zM1086.3 1365.8l12.3 12.3l-12.3 12.3l-12.3 -12.3zM1086.7 1367.1l12.3 12.3l-12.3 12.3l-12.3 -12.3zM1087.2 1368.3l12.3 12.3l-12.3 12.3l-12.3 -12.3zM1087.6 1369.6l12.3 12.3l-12.3 12.3l-12.3 -12.3zM1088 1370.8l12.3 12.3l-12.3 12.3l-12.3 -12.3zM1088.5 1372.1l12.3 12.3l-12.3 12.3l-12.3 -12.3zM1088.9 1373.3l12.3 12.3l-12.3 12.3l-12.3 -12.3zM1089.3 1374.6l12.3 12.3l-12.3 12.3l-12.3 -12.3zM1089.7 1375.8l12.3 12.3l-12.3 12.3l-12.3 -12.3zM1090.1 1377.1l12.3 12.3l-12.3 12.3l-12.3 -12.3zM1090.6 1378.4l12.3 12.3l-12.3 12.3l-12.3 -12.3zM1091 1379.6l12.3 12.3l-12.3 12.3l-12.3 -12.3zM1091.4 1380.9l12.3 12.3l-12.3 12.3l-12.3 -12.3zM1091.8 1382.1l12.3 12.3l-12.3 12.3l-12.3 -12.3zM1092.2 1383.4l12.3 12.3l-12.3 12.3l-12.3 -12.3zM1092.6 1384.6l12.3 12.3l-12.3 12.3l-12.3 -12.3zM1093 1385.9l12.3 12.3l-12.3 12.3l-12.3 -12.3zM1093.3 1387.1l12.3 12.3l-12.3 12.3l-12.3 -12.3zM1093.7 1388.4l12.3 12.3l-12.3 12.3l-12.3 -12.3zM1094.1 1389.6l12.3 12.3l-12.3 12.3l-12.3 -12.3zM1094.5 1390.9l12.3 12.3l-12.3 12.3l-12.3 -12.3zM1094.9 1392.1l12.3 12.3l-12.3 12.3l-12.3 -12.3zM1095.2 1393.4l12.3 12.3l-12.3 12.3l-12.3 -12.3zM1095.6 1394.7l12.3 12.3l-12.3 12.3l-12.3 -12.3zM1096 1395.9l12.3 12.3l-12.3 12.3l-12.3 -12.3zM1096.3 1397.2l12.3 12.3l-12.3 12.3l-12.3 -12.3zM1096.7 1398.4l12.3 12.3l-12.3 12.3l-12.3 -12.3zM1097.1 1399.7l12.3 12.3l-12.3 12.3l-12.3 -12.3zM1097.4 1400.9l12.3 12.3l-12.3 12.3l-12.3 -12.3zM1097.8 1402.2l12.3 12.3l-12.3 12.3l-12.3 -12.3zM1098.1 1403.4l12.3 12.3l-12.3 12.3l-12.3 -12.3zM1098.5 1404.7l12.3 12.3l-12.3 12.3l-12.3 -12.3zM1098.8 1405.9l12.3 12.3l-12.3 12.3l-12.3 -12.3zM1099.1 1407.2l12.3 12.3l-12.3 12.3l-12.3 -12.3zM1099.5 1408.5l12.3 12.3l-12.3 12.3l-12.3 -12.3zM1099.8 1409.7l12.3 12.3l-12.3 12.3l-12.3 -12.3zM1100.2 1411l12.3 12.3l-12.3 12.3l-12.3 -12.3zM1100.5 1412.2l12.3 12.3l-12.3 12.3l-12.3 -12.3zM1100.8 1413.5l12.3 12.3l-12.3 12.3l-12.3 -12.3zM1101.2 1414.7l12.3 12.3l-12.3 12.3l-12.3 -12.3zM1101.5 1416l12.3 12.3l-12.3 12.3l-12.3 -12.3zM1101.8 1417.2l12.3 12.3l-12.3 12.3l-12.3 -12.3zM1102.1 1418.5l12.3 12.3l-12.3 12.3l-12.3 -12.3zM1102.5 1419.7l12.3 12.3l-12.3 12.3l-12.3 -12.3zM1102.8 1421l12.3 12.3l-12.3 12.3l-12.3 -12.3zM1103.1 1422.3l12.3 12.3l-12.3 12.3l-12.3 -12.3zM1103.4 1423.5l12.3 12.3l-12.3 12.3l-12.3 -12.3zM1103.7 1424.8l12.3 12.3l-12.3 12.3l-12.3 -12.3zM1104 1426l12.3 12.3l-12.3 12.3l-12.3 -12.3zM1104.4 1427.3l12.3 12.3l-12.3 12.3l-12.3 -12.3zM1104.7 1428.5l12.3 12.3l-12.3 12.3l-12.3 -12.3zM1105 1429.8l12.3 12.3l-12.3 12.3l-12.3 -12.3zM1105.3 1431l12.3 12.3l-12.3 12.3l-12.3 -12.3zM1105.6 1432.3l12.3 12.3l-12.3 12.3l-12.3 -12.3zM1105.9 1433.5l12.3 12.3l-12.3 12.3l-12.3 -12.3zM1106.2 1434.8l12.3 12.3l-12.3 12.3l-12.3 -12.3zM1106.5 1436.1l12.3 12.3l-12.3 12.3l-12.3 -12.3zM1106.8 1437.3l12.3 12.3l-12.3 12.3l-12.3 -12.3zM1107.1 1438.6l12.3 12.3l-12.3 12.3l-12.3 -12.3zM1107.4 1439.8l12.3 12.3l-12.3 12.3l-12.3 -12.3zM1107.7 1441.1l12.3 12.3l-12.3 12.3l-12.3 -12.3zM1108 1442.3l12.3 12.3l-12.3 12.3l-12.3 -12.3zM1108.3 1443.6l12.3 12.3l-12.3 12.3l-12.3 -12.3zM1108.6 1444.8l12.3 12.3l-12.3 12.3l-12.3 -12.3zM1108.9 1446.1l12.3 12.3l-12.3 12.3l-12.3 -12.3zM1109.2 1447.3l12.3 12.3l-12.3 12.3l-12.3 -12.3zM1109.5 1448.6l12.3 12.3l-12.3 12.3l-12.3 -12.3zM1109.8 1449.8l12.3 12.3l-12.3 12.3l-12.3 -12.3zM1110 1451.1l12.3 12.3l-12.3 12.3l-12.3 -12.3zM1110.3 1452.4l12.3 12.3l-12.3 12.3l-12.3 -12.3zM1110.6 1453.6l12.3 12.3l-12.3 12.3l-12.3 -12.3zM1110.9 1454.9l12.3 12.3l-12.3 12.3l-12.3 -12.3zM1111.2 1456.1l12.3 12.3l-12.3 12.3l-12.3 -12.3zM1111.5 1457.4l12.3 12.3l-12.3 12.3l-12.3 -12.3zM1111.8 1458.6l12.3 12.3l-12.3 12.3l-12.3 -12.3zM1112.1 1459.9l12.3 12.3l-12.3 12.3l-12.3 -12.3zM1112.4 1461.1l12.3 12.3l-12.3 12.3l-12.3 -12.3zM1112.6 1462.4l12.3 12.3l-12.3 12.3l-12.3 -12.3zM1112.9 1463.6l12.3 12.3l-12.3 12.3l-12.3 -12.3zM1113.2 1464.9l12.3 12.3l-12.3 12.3l-12.3 -12.3zM1113.5 1466.2l12.3 12.3l-12.3 12.3l-12.3 -12.3zM1113.8 1467.4l12.3 12.3l-12.3 12.3l-12.3 -12.3zM1114.1 1468.7l12.3 12.3l-12.3 12.3l-12.3 -12.3zM1114.4 1469.9l12.3 12.3l-12.3 12.3l-12.3 -12.3zM1114.6 1471.2l12.3 12.3l-12.3 12.3l-12.3 -12.3zM1114.9 1472.4l12.3 12.3l-12.3 12.3l-12.3 -12.3zM1115.2 1473.7l12.3 12.3l-12.3 12.3l-12.3 -12.3zM1115.5 1474.9l12.3 12.3l-12.3 12.3l-12.3 -12.3zM1115.8 1476.2l12.3 12.3l-12.3 12.3l-12.3 -12.3zM1116.1 1477.4l12.3 12.3l-12.3 12.3l-12.3 -12.3zM1116.4 1478.7l12.3 12.3l-12.3 12.3l-12.3 -12.3zM1116.6 1480l12.3 12.3l-12.3 12.3l-12.3 -12.3zM1116.9 1481.2l12.3 12.3l-12.3 12.3l-12.3 -12.3zM1117.2 1482.5l12.3 12.3l-12.3 12.3l-12.3 -12.3zM1117.5 1483.7l12.3 12.3l-12.3 12.3l-12.3 -12.3zM1117.8 1485l12.3 12.3l-12.3 12.3l-12.3 -12.3zM1118.1 1486.2l12.3 12.3l-12.3 12.3l-12.3 -12.3zM1118.4 1487.5l12.3 12.3l-12.3 12.3l-12.3 -12.3zM1118.7 1488.7l12.3 12.3l-12.3 12.3l-12.3 -12.3zM1119 1490l12.3 12.3l-12.3 12.3l-12.3 -12.3zM1119.3 1491.2l12.3 12.3l-12.3 12.3l-12.3 -12.3zM1119.5 1492.5l12.3 12.3l-12.3 12.3l-12.3 -12.3zM1119.8 1493.8l12.3 12.3l-12.3 12.3l-12.3 -12.3zM1120.1 1495l12.3 12.3l-12.3 12.3l-12.3 -12.3zM1120.4 1496.3l12.3 12.3l-12.3 12.3l-12.3 -12.3zM1120.7 1497.5l12.3 12.3l-12.3 12.3l-12.3 -12.3zM1121 1498.8l12.3 12.3l-12.3 12.3l-12.3 -12.3zM1121.3 1500l12.3 12.3l-12.3 12.3l-12.3 -12.3zM1121.6 1501.3l12.3 12.3l-12.3 12.3l-12.3 -12.3zM1121.9 1502.5l12.3 12.3l-12.3 12.3l-12.3 -12.3zM1122.2 1503.8l12.3 12.3l-12.3 12.3l-12.3 -12.3zM1122.5 1505l12.3 12.3l-12.3 12.3l-12.3 -12.3zM1122.8 1506.3l12.3 12.3l-12.3 12.3l-12.3 -12.3zM1123.1 1507.5l12.3 12.3l-12.3 12.3l-12.3 -12.3zM1123.4 1508.8l12.3 12.3l-12.3 12.3l-12.3 -12.3zM1123.8 1510.1l12.3 12.3l-12.3 12.3l-12.3 -12.3zM1124.1 1511.3l12.3 12.3l-12.3 12.3l-12.3 -12.3zM1124.4 1512.6l12.3 12.3l-12.3 12.3l-12.3 -12.3zM1124.7 1513.8l12.3 12.3l-12.3 12.3l-12.3 -12.3zM1125 1515.1l12.3 12.3l-12.3 12.3l-12.3 -12.3zM1125.3 1516.3l12.3 12.3l-12.3 12.3l-12.3 -12.3zM1125.6 1517.6l12.3 12.3l-12.3 12.3l-12.3 -12.3zM1126 1518.8l12.3 12.3l-12.3 12.3l-12.3 -12.3zM1126.3 1520.1l12.3 12.3l-12.3 12.3l-12.3 -12.3zM1126.6 1521.3l12.3 12.3l-12.3 12.3l-12.3 -12.3zM1126.9 1522.6l12.3 12.3l-12.3 12.3l-12.3 -12.3zM1127.3 1523.9l12.3 12.3l-12.3 12.3l-12.3 -12.3zM1127.6 1525.1l12.3 12.3l-12.3 12.3l-12.3 -12.3zM1127.9 1526.4l12.3 12.3l-12.3 12.3l-12.3 -12.3zM1128.3 1527.6l12.3 12.3l-12.3 12.3l-12.3 -12.3zM1128.6 1528.9l12.3 12.3l-12.3 12.3l-12.3 -12.3zM1128.9 1530.1l12.3 12.3l-12.3 12.3l-12.3 -12.3zM1129.3 1531.4l12.3 12.3l-12.3 12.3l-12.3 -12.3zM1129.6 1532.6l12.3 12.3l-12.3 12.3l-12.3 -12.3zM1130 1533.9l12.3 12.3l-12.3 12.3l-12.3 -12.3zM1130.3 1535.1l12.3 12.3l-12.3 12.3l-12.3 -12.3zM1130.7 1536.4l12.3 12.3l-12.3 12.3l-12.3 -12.3zM1131 1537.7l12.3 12.3l-12.3 12.3l-12.3 -12.3zM1131.4 1538.9l12.3 12.3l-12.3 12.3l-12.3 -12.3zM1131.7 1540.2l12.3 12.3l-12.3 12.3l-12.3 -12.3zM1132.1 1541.4l12.3 12.3l-12.3 12.3l-12.3 -12.3zM1132.5 1542.7l12.3 12.3l-12.3 12.3l-12.3 -12.3zM1132.8 1543.9l12.3 12.3l-12.3 12.3l-12.3 -12.3zM1133.2 1545.2l12.3 12.3l-12.3 12.3l-12.3 -12.3zM1133.6 1546.4l12.3 12.3l-12.3 12.3l-12.3 -12.3zM1133.9 1547.7l12.3 12.3l-12.3 12.3l-12.3 -12.3zM1134.3 1548.9l12.3 12.3l-12.3 12.3l-12.3 -12.3zM1134.7 1550.2l12.3 12.3l-12.3 12.3l-12.3 -12.3zM1135.1 1551.5l12.3 12.3l-12.3 12.3l-12.3 -12.3zM1135.5 1552.7l12.3 12.3l-12.3 12.3l-12.3 -12.3zM1135.9 1554l12.3 12.3l-12.3 12.3l-12.3 -12.3zM1136.2 1555.2l12.3 12.3l-12.3 12.3l-12.3 -12.3zM1136.6 1556.5l12.3 12.3l-12.3 12.3l-12.3 -12.3zM1137 1557.7l12.3 12.3l-12.3 12.3l-12.3 -12.3zM1137.4 1559l12.3 12.3l-12.3 12.3l-12.3 -12.3zM1137.9 1560.2l12.3 12.3l-12.3 12.3l-12.3 -12.3zM1138.3 1561.5l12.3 12.3l-12.3 12.3l-12.3 -12.3zM1138.7 1562.7l12.3 12.3l-12.3 12.3l-12.3 -12.3zM1138.8 1563.2l12.3 12.3l-12.3 12.3l-12.3 -12.3zM1139 1563.7l12.3 12.3l-12.3 12.3l-12.3 -12.3zM485.5 802.8l12.3 12.3l-12.3 12.3l-12.3 -12.3zM516.4 800.7l12.3 12.3l-12.3 12.3l-12.3 -12.3zM569.5 798.8l12.3 12.3l-12.3 12.3l-12.3 -12.3zM645.4 805l12.3 12.3l-12.3 12.3l-12.3 -12.3zM721.3 807.5l12.3 12.3l-12.3 12.3l-12.3 -12.3zM741.3 795l12.3 12.3l-12.3 12.3l-12.3 -12.3zM789.6 792.8l12.3 12.3l-12.3 12.3l-12.3 -12.3zM769.3 810.2l12.3 12.3l-12.3 12.3l-12.3 -12.3zM806.4 812.7l12.3 12.3l-12.3 12.3l-12.3 -12.3zM832.3 789.3l12.3 12.3l-12.3 12.3l-12.3 -12.3zM833.7 814.9l12.3 12.3l-12.3 12.3l-12.3 -12.3zM855.3 817l12.3 12.3l-12.3 12.3l-12.3 -12.3zM868.6 787.4l12.3 12.3l-12.3 12.3l-12.3 -12.3zM885.6 820.6l12.3 12.3l-12.3 12.3l-12.3 -12.3zM899.1 785l12.3 12.3l-12.3 12.3l-12.3 -12.3zM902 823.4l12.3 12.3l-12.3 12.3l-12.3 -12.3zM916.2 825.6l12.3 12.3l-12.3 12.3l-12.3 -12.3zM926.2 783.2l12.3 12.3l-12.3 12.3l-12.3 -12.3zM927.6 827.7l12.3 12.3l-12.3 12.3l-12.3 -12.3zM957.5 780.3l12.3 12.3l-12.3 12.3l-12.3 -12.3zM977.4 777.9l12.3 12.3l-12.3 12.3l-12.3 -12.3zM997.3 775.8l12.3 12.3l-12.3 12.3l-12.3 -12.3z"/>
</g>
<text x="212.8" y="72.3" text-anchor="end">−0.3</text>
<text x="212.8" y="323.2" text-anchor="end">−0.4</text>
<text x="212.8" y="574.0" text-anchor="end">−0.5</text>
<text x="212.8" y="824.9" text-anchor="end">−0.6</text>
<text x="212.8" y="1075.8" text-anchor="end">−0.7</text>
<text x="212.8" y="1326.6" text-anchor="end">−0.8</text>
<text x="212.8" y="1577.5" text-anchor="end">−0.9</text>
<text x="215.3" y="1669.5">10<tspan dx="-4.5" dy="-25.5" font-size="47px">-7</tspan></text>
<text x="589.8" y="1669.5">10<tspan dx="-4.5" dy="-25.5" font-size="47px">-6</tspan></text>
<text x="964.4" y="1669.5">10<tspan dx="-4.5" dy="-25.5" font-size="47px">-5</tspan></text>
<text x="1338.9" y="1669.5">10<tspan dx="-4.5" dy="-25.5" font-size="47px">-4</tspan></text>
<text x="1713.5" y="1669.5">10<tspan dx="-4.5" dy="-25.5" font-size="47px">-3</tspan></text>
<text x="2088.0" y="1669.5">10<tspan dx="-4.5" dy="-25.5" font-size="47px">-2</tspan></text>
<text x="1199.5" y="1782" text-anchor="middle">Current density (A/cm<tspan dy="-24" font-size="47px">2</tspan><tspan dy="24">)</tspan></text>
<text transform="translate(67 808) rotate(-90)" text-anchor="middle">Potential (V)</text>
<path fill="#000000" d="M1493.9 946.8h18v18h-18z"/>
<text x="1590" y="976.3">X70</text>
<path fill="#0083FF" d="M1493.4 1035.4a9.5 9.5 0 1 0 19 0a9.5 9.5 0 1 0 -19 0z"/>
<text x="1590" y="1056">MXene-4 mg/mL</text>
<path fill="#00FF73" d="M1502.9 1102.1l11.8 20.6h-23.6z"/>
<text x="1590" y="1135.6">MXene-2 mg/mL</text>
<path fill="#E3EF0A" d="M1502.9 1209.3l11.8 -20.6h-23.6z"/>
<text x="1590" y="1215.3">MXene-1 mg/mL</text>
<path fill="#FF4500" d="M1502.9 1262.7l12.3 12.3l-12.3 12.3l-12.3 -12.3z"/>
<text x="1590" y="1295">MXene-0.5 mg/mL</text>
</svg></body></html>
